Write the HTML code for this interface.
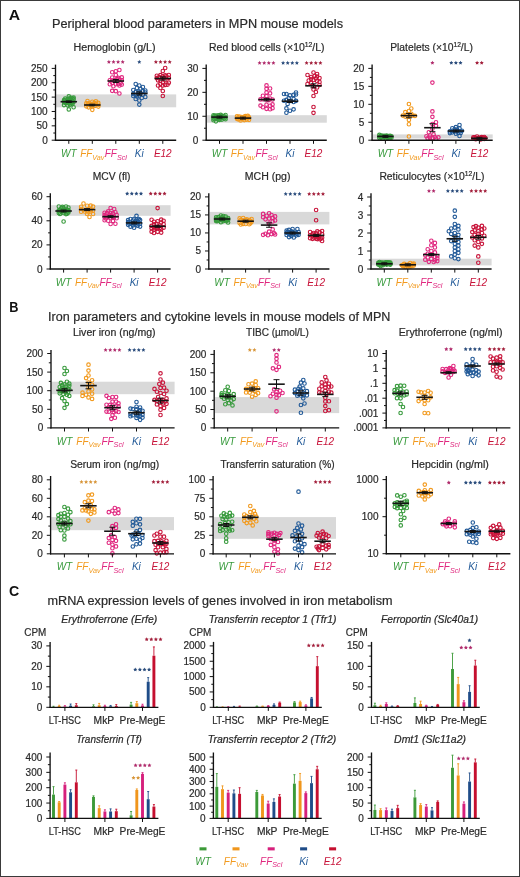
<!DOCTYPE html>
<html><head><meta charset="utf-8"><title>Figure</title>
<style>html,body{margin:0;padding:0;background:#fff;width:520px;height:877px;overflow:hidden;font-family:"Liberation Sans",sans-serif}svg{display:block;filter:blur(0.3px)}</style>
</head><body>
<svg width="520" height="877" viewBox="0 0 520 877" font-family='"Liberation Sans", sans-serif'><rect x="0" y="0" width="520" height="877" fill="#fff"/>
<rect x="56.10" y="94.40" width="120.10" height="12.90" fill="#d9d9d9"/>
<circle cx="68.80" cy="96.30" r="1.75" fill="none" stroke="#379a3c" stroke-width="1.15"/>
<circle cx="68.80" cy="109.40" r="1.75" fill="none" stroke="#379a3c" stroke-width="1.15"/>
<circle cx="64.00" cy="100.18" r="1.75" fill="none" stroke="#379a3c" stroke-width="1.15"/>
<circle cx="71.20" cy="99.85" r="1.75" fill="none" stroke="#379a3c" stroke-width="1.15"/>
<circle cx="73.60" cy="97.62" r="1.75" fill="none" stroke="#379a3c" stroke-width="1.15"/>
<circle cx="68.80" cy="100.22" r="1.75" fill="none" stroke="#379a3c" stroke-width="1.15"/>
<circle cx="64.00" cy="105.05" r="1.75" fill="none" stroke="#379a3c" stroke-width="1.15"/>
<circle cx="72.40" cy="102.54" r="1.75" fill="none" stroke="#379a3c" stroke-width="1.15"/>
<circle cx="70.00" cy="104.77" r="1.75" fill="none" stroke="#379a3c" stroke-width="1.15"/>
<circle cx="66.40" cy="101.91" r="1.75" fill="none" stroke="#379a3c" stroke-width="1.15"/>
<circle cx="70.00" cy="102.44" r="1.75" fill="none" stroke="#379a3c" stroke-width="1.15"/>
<circle cx="70.00" cy="101.67" r="1.75" fill="none" stroke="#379a3c" stroke-width="1.15"/>
<circle cx="72.40" cy="104.11" r="1.75" fill="none" stroke="#379a3c" stroke-width="1.15"/>
<circle cx="65.20" cy="102.84" r="1.75" fill="none" stroke="#379a3c" stroke-width="1.15"/>
<circle cx="66.40" cy="102.82" r="1.75" fill="none" stroke="#379a3c" stroke-width="1.15"/>
<circle cx="71.20" cy="97.76" r="1.75" fill="none" stroke="#379a3c" stroke-width="1.15"/>
<circle cx="73.60" cy="99.30" r="1.75" fill="none" stroke="#379a3c" stroke-width="1.15"/>
<circle cx="73.60" cy="102.11" r="1.75" fill="none" stroke="#379a3c" stroke-width="1.15"/>
<circle cx="72.40" cy="100.83" r="1.75" fill="none" stroke="#379a3c" stroke-width="1.15"/>
<circle cx="71.20" cy="102.90" r="1.75" fill="none" stroke="#379a3c" stroke-width="1.15"/>
<circle cx="65.20" cy="98.66" r="1.75" fill="none" stroke="#379a3c" stroke-width="1.15"/>
<circle cx="64.00" cy="102.12" r="1.75" fill="none" stroke="#379a3c" stroke-width="1.15"/>
<circle cx="68.80" cy="102.43" r="1.75" fill="none" stroke="#379a3c" stroke-width="1.15"/>
<circle cx="68.80" cy="98.59" r="1.75" fill="none" stroke="#379a3c" stroke-width="1.15"/>
<circle cx="73.60" cy="107.25" r="1.75" fill="none" stroke="#379a3c" stroke-width="1.15"/>
<circle cx="67.60" cy="103.03" r="1.75" fill="none" stroke="#379a3c" stroke-width="1.15"/>
<circle cx="67.60" cy="105.36" r="1.75" fill="none" stroke="#379a3c" stroke-width="1.15"/>
<circle cx="70.00" cy="98.74" r="1.75" fill="none" stroke="#379a3c" stroke-width="1.15"/>
<circle cx="72.40" cy="98.31" r="1.75" fill="none" stroke="#379a3c" stroke-width="1.15"/>
<circle cx="67.60" cy="99.75" r="1.75" fill="none" stroke="#379a3c" stroke-width="1.15"/>
<circle cx="65.20" cy="100.61" r="1.75" fill="none" stroke="#379a3c" stroke-width="1.15"/>
<circle cx="70.00" cy="103.30" r="1.75" fill="none" stroke="#379a3c" stroke-width="1.15"/>
<circle cx="87.50" cy="101.00" r="1.75" fill="none" stroke="#f29a1e" stroke-width="1.15"/>
<circle cx="92.30" cy="109.80" r="1.75" fill="none" stroke="#f29a1e" stroke-width="1.15"/>
<circle cx="87.50" cy="104.77" r="1.75" fill="none" stroke="#f29a1e" stroke-width="1.15"/>
<circle cx="93.50" cy="103.46" r="1.75" fill="none" stroke="#f29a1e" stroke-width="1.15"/>
<circle cx="94.70" cy="105.93" r="1.75" fill="none" stroke="#f29a1e" stroke-width="1.15"/>
<circle cx="94.70" cy="102.97" r="1.75" fill="none" stroke="#f29a1e" stroke-width="1.15"/>
<circle cx="86.30" cy="103.31" r="1.75" fill="none" stroke="#f29a1e" stroke-width="1.15"/>
<circle cx="88.70" cy="107.32" r="1.75" fill="none" stroke="#f29a1e" stroke-width="1.15"/>
<circle cx="92.30" cy="105.27" r="1.75" fill="none" stroke="#f29a1e" stroke-width="1.15"/>
<circle cx="91.10" cy="104.12" r="1.75" fill="none" stroke="#f29a1e" stroke-width="1.15"/>
<circle cx="98.30" cy="106.61" r="1.75" fill="none" stroke="#f29a1e" stroke-width="1.15"/>
<circle cx="91.10" cy="106.08" r="1.75" fill="none" stroke="#f29a1e" stroke-width="1.15"/>
<circle cx="89.90" cy="104.71" r="1.75" fill="none" stroke="#f29a1e" stroke-width="1.15"/>
<circle cx="95.90" cy="104.15" r="1.75" fill="none" stroke="#f29a1e" stroke-width="1.15"/>
<circle cx="98.30" cy="104.75" r="1.75" fill="none" stroke="#f29a1e" stroke-width="1.15"/>
<circle cx="98.30" cy="102.91" r="1.75" fill="none" stroke="#f29a1e" stroke-width="1.15"/>
<circle cx="92.30" cy="101.74" r="1.75" fill="none" stroke="#f29a1e" stroke-width="1.15"/>
<circle cx="88.70" cy="103.26" r="1.75" fill="none" stroke="#f29a1e" stroke-width="1.15"/>
<circle cx="95.90" cy="101.34" r="1.75" fill="none" stroke="#f29a1e" stroke-width="1.15"/>
<circle cx="86.30" cy="106.30" r="1.75" fill="none" stroke="#f29a1e" stroke-width="1.15"/>
<circle cx="119.40" cy="70.00" r="1.75" fill="none" stroke="#e0287f" stroke-width="1.15"/>
<circle cx="119.40" cy="93.50" r="1.75" fill="none" stroke="#e0287f" stroke-width="1.15"/>
<circle cx="119.40" cy="85.52" r="1.75" fill="none" stroke="#e0287f" stroke-width="1.15"/>
<circle cx="113.40" cy="86.25" r="1.75" fill="none" stroke="#e0287f" stroke-width="1.15"/>
<circle cx="115.80" cy="71.28" r="1.75" fill="none" stroke="#e0287f" stroke-width="1.15"/>
<circle cx="118.20" cy="77.83" r="1.75" fill="none" stroke="#e0287f" stroke-width="1.15"/>
<circle cx="112.20" cy="90.86" r="1.75" fill="none" stroke="#e0287f" stroke-width="1.15"/>
<circle cx="121.80" cy="80.16" r="1.75" fill="none" stroke="#e0287f" stroke-width="1.15"/>
<circle cx="112.20" cy="77.54" r="1.75" fill="none" stroke="#e0287f" stroke-width="1.15"/>
<circle cx="115.80" cy="84.23" r="1.75" fill="none" stroke="#e0287f" stroke-width="1.15"/>
<circle cx="109.80" cy="84.24" r="1.75" fill="none" stroke="#e0287f" stroke-width="1.15"/>
<circle cx="112.20" cy="82.86" r="1.75" fill="none" stroke="#e0287f" stroke-width="1.15"/>
<circle cx="112.20" cy="80.45" r="1.75" fill="none" stroke="#e0287f" stroke-width="1.15"/>
<circle cx="114.60" cy="80.15" r="1.75" fill="none" stroke="#e0287f" stroke-width="1.15"/>
<circle cx="120.60" cy="83.02" r="1.75" fill="none" stroke="#e0287f" stroke-width="1.15"/>
<circle cx="121.80" cy="77.38" r="1.75" fill="none" stroke="#e0287f" stroke-width="1.15"/>
<circle cx="109.80" cy="80.27" r="1.75" fill="none" stroke="#e0287f" stroke-width="1.15"/>
<circle cx="121.80" cy="84.59" r="1.75" fill="none" stroke="#e0287f" stroke-width="1.15"/>
<circle cx="112.20" cy="72.25" r="1.75" fill="none" stroke="#e0287f" stroke-width="1.15"/>
<circle cx="117.00" cy="79.07" r="1.75" fill="none" stroke="#e0287f" stroke-width="1.15"/>
<circle cx="119.40" cy="79.59" r="1.75" fill="none" stroke="#e0287f" stroke-width="1.15"/>
<circle cx="118.20" cy="84.07" r="1.75" fill="none" stroke="#e0287f" stroke-width="1.15"/>
<circle cx="115.80" cy="91.13" r="1.75" fill="none" stroke="#e0287f" stroke-width="1.15"/>
<circle cx="115.80" cy="74.98" r="1.75" fill="none" stroke="#e0287f" stroke-width="1.15"/>
<circle cx="135.70" cy="84.00" r="1.75" fill="none" stroke="#225a98" stroke-width="1.15"/>
<circle cx="139.30" cy="85.50" r="1.75" fill="none" stroke="#225a98" stroke-width="1.15"/>
<circle cx="142.90" cy="87.00" r="1.75" fill="none" stroke="#225a98" stroke-width="1.15"/>
<circle cx="136.90" cy="88.00" r="1.75" fill="none" stroke="#225a98" stroke-width="1.15"/>
<circle cx="140.50" cy="89.00" r="1.75" fill="none" stroke="#225a98" stroke-width="1.15"/>
<circle cx="133.30" cy="90.00" r="1.75" fill="none" stroke="#225a98" stroke-width="1.15"/>
<circle cx="145.30" cy="90.50" r="1.75" fill="none" stroke="#225a98" stroke-width="1.15"/>
<circle cx="142.90" cy="91.00" r="1.75" fill="none" stroke="#225a98" stroke-width="1.15"/>
<circle cx="139.30" cy="91.50" r="1.75" fill="none" stroke="#225a98" stroke-width="1.15"/>
<circle cx="135.70" cy="92.00" r="1.75" fill="none" stroke="#225a98" stroke-width="1.15"/>
<circle cx="145.30" cy="92.50" r="1.75" fill="none" stroke="#225a98" stroke-width="1.15"/>
<circle cx="138.10" cy="93.00" r="1.75" fill="none" stroke="#225a98" stroke-width="1.15"/>
<circle cx="140.50" cy="93.50" r="1.75" fill="none" stroke="#225a98" stroke-width="1.15"/>
<circle cx="133.30" cy="94.00" r="1.75" fill="none" stroke="#225a98" stroke-width="1.15"/>
<circle cx="142.90" cy="94.50" r="1.75" fill="none" stroke="#225a98" stroke-width="1.15"/>
<circle cx="135.70" cy="95.00" r="1.75" fill="none" stroke="#225a98" stroke-width="1.15"/>
<circle cx="139.30" cy="95.50" r="1.75" fill="none" stroke="#225a98" stroke-width="1.15"/>
<circle cx="133.30" cy="96.00" r="1.75" fill="none" stroke="#225a98" stroke-width="1.15"/>
<circle cx="136.90" cy="96.50" r="1.75" fill="none" stroke="#225a98" stroke-width="1.15"/>
<circle cx="145.30" cy="97.00" r="1.75" fill="none" stroke="#225a98" stroke-width="1.15"/>
<circle cx="141.70" cy="98.00" r="1.75" fill="none" stroke="#225a98" stroke-width="1.15"/>
<circle cx="135.70" cy="99.00" r="1.75" fill="none" stroke="#225a98" stroke-width="1.15"/>
<circle cx="139.30" cy="100.50" r="1.75" fill="none" stroke="#225a98" stroke-width="1.15"/>
<circle cx="139.30" cy="104.60" r="1.75" fill="none" stroke="#225a98" stroke-width="1.15"/>
<circle cx="165.20" cy="68.00" r="1.75" fill="none" stroke="#c8143a" stroke-width="1.15"/>
<circle cx="162.80" cy="91.00" r="1.75" fill="none" stroke="#c8143a" stroke-width="1.15"/>
<circle cx="165.20" cy="80.02" r="1.75" fill="none" stroke="#c8143a" stroke-width="1.15"/>
<circle cx="156.80" cy="75.75" r="1.75" fill="none" stroke="#c8143a" stroke-width="1.15"/>
<circle cx="168.80" cy="82.69" r="1.75" fill="none" stroke="#c8143a" stroke-width="1.15"/>
<circle cx="158.00" cy="80.30" r="1.75" fill="none" stroke="#c8143a" stroke-width="1.15"/>
<circle cx="160.40" cy="75.16" r="1.75" fill="none" stroke="#c8143a" stroke-width="1.15"/>
<circle cx="160.40" cy="80.77" r="1.75" fill="none" stroke="#c8143a" stroke-width="1.15"/>
<circle cx="168.80" cy="74.96" r="1.75" fill="none" stroke="#c8143a" stroke-width="1.15"/>
<circle cx="168.80" cy="77.86" r="1.75" fill="none" stroke="#c8143a" stroke-width="1.15"/>
<circle cx="159.20" cy="77.06" r="1.75" fill="none" stroke="#c8143a" stroke-width="1.15"/>
<circle cx="156.80" cy="78.10" r="1.75" fill="none" stroke="#c8143a" stroke-width="1.15"/>
<circle cx="165.20" cy="75.39" r="1.75" fill="none" stroke="#c8143a" stroke-width="1.15"/>
<circle cx="165.20" cy="84.94" r="1.75" fill="none" stroke="#c8143a" stroke-width="1.15"/>
<circle cx="162.80" cy="71.03" r="1.75" fill="none" stroke="#c8143a" stroke-width="1.15"/>
<circle cx="164.00" cy="78.07" r="1.75" fill="none" stroke="#c8143a" stroke-width="1.15"/>
<circle cx="167.60" cy="84.59" r="1.75" fill="none" stroke="#c8143a" stroke-width="1.15"/>
<circle cx="160.40" cy="83.97" r="1.75" fill="none" stroke="#c8143a" stroke-width="1.15"/>
<circle cx="160.40" cy="88.03" r="1.75" fill="none" stroke="#c8143a" stroke-width="1.15"/>
<circle cx="162.80" cy="76.24" r="1.75" fill="none" stroke="#c8143a" stroke-width="1.15"/>
<circle cx="166.40" cy="76.32" r="1.75" fill="none" stroke="#c8143a" stroke-width="1.15"/>
<circle cx="162.80" cy="82.48" r="1.75" fill="none" stroke="#c8143a" stroke-width="1.15"/>
<circle cx="158.00" cy="85.48" r="1.75" fill="none" stroke="#c8143a" stroke-width="1.15"/>
<circle cx="162.80" cy="85.46" r="1.75" fill="none" stroke="#c8143a" stroke-width="1.15"/>
<circle cx="162.80" cy="96.00" r="1.75" fill="none" stroke="#c8143a" stroke-width="1.15"/>
<line x1="60.55" y1="101.70" x2="77.05" y2="101.70" stroke="#151515" stroke-width="1.60"/>
<line x1="68.80" y1="100.90" x2="68.80" y2="102.50" stroke="#111" stroke-width="1.00"/>
<line x1="65.80" y1="100.90" x2="71.80" y2="100.90" stroke="#111" stroke-width="1.00"/>
<line x1="65.80" y1="102.50" x2="71.80" y2="102.50" stroke="#111" stroke-width="1.00"/>
<line x1="84.05" y1="105.00" x2="100.55" y2="105.00" stroke="#151515" stroke-width="1.60"/>
<line x1="92.30" y1="104.20" x2="92.30" y2="105.80" stroke="#111" stroke-width="1.00"/>
<line x1="89.30" y1="104.20" x2="95.30" y2="104.20" stroke="#111" stroke-width="1.00"/>
<line x1="89.30" y1="105.80" x2="95.30" y2="105.80" stroke="#111" stroke-width="1.00"/>
<line x1="107.55" y1="81.00" x2="124.05" y2="81.00" stroke="#151515" stroke-width="1.60"/>
<line x1="115.80" y1="79.50" x2="115.80" y2="82.50" stroke="#111" stroke-width="1.00"/>
<line x1="112.80" y1="79.50" x2="118.80" y2="79.50" stroke="#111" stroke-width="1.00"/>
<line x1="112.80" y1="82.50" x2="118.80" y2="82.50" stroke="#111" stroke-width="1.00"/>
<line x1="131.05" y1="93.50" x2="147.55" y2="93.50" stroke="#151515" stroke-width="1.60"/>
<line x1="139.30" y1="91.90" x2="139.30" y2="95.10" stroke="#111" stroke-width="1.00"/>
<line x1="136.30" y1="91.90" x2="142.30" y2="91.90" stroke="#111" stroke-width="1.00"/>
<line x1="136.30" y1="95.10" x2="142.30" y2="95.10" stroke="#111" stroke-width="1.00"/>
<line x1="154.55" y1="78.50" x2="171.05" y2="78.50" stroke="#151515" stroke-width="1.60"/>
<line x1="162.80" y1="76.90" x2="162.80" y2="80.10" stroke="#111" stroke-width="1.00"/>
<line x1="159.80" y1="76.90" x2="165.80" y2="76.90" stroke="#111" stroke-width="1.00"/>
<line x1="159.80" y1="80.10" x2="165.80" y2="80.10" stroke="#111" stroke-width="1.00"/>
<line x1="55.50" y1="64.60" x2="55.50" y2="140.80" stroke="#111" stroke-width="1.35"/>
<line x1="51.70" y1="140.20" x2="55.50" y2="140.20" stroke="#111" stroke-width="1.00"/>
<text x="47.70" y="143.70" font-size="10.00" text-anchor="end" fill="#2a2a2a" stroke="#2a2a2a" stroke-width="0.2">0</text>
<line x1="51.70" y1="125.84" x2="55.50" y2="125.84" stroke="#111" stroke-width="1.00"/>
<text x="47.70" y="129.34" font-size="10.00" text-anchor="end" fill="#2a2a2a" stroke="#2a2a2a" stroke-width="0.2">50</text>
<line x1="51.70" y1="111.48" x2="55.50" y2="111.48" stroke="#111" stroke-width="1.00"/>
<text x="47.70" y="114.98" font-size="10.00" text-anchor="end" fill="#2a2a2a" stroke="#2a2a2a" stroke-width="0.2">100</text>
<line x1="51.70" y1="97.12" x2="55.50" y2="97.12" stroke="#111" stroke-width="1.00"/>
<text x="47.70" y="100.62" font-size="10.00" text-anchor="end" fill="#2a2a2a" stroke="#2a2a2a" stroke-width="0.2">150</text>
<line x1="51.70" y1="82.76" x2="55.50" y2="82.76" stroke="#111" stroke-width="1.00"/>
<text x="47.70" y="86.26" font-size="10.00" text-anchor="end" fill="#2a2a2a" stroke="#2a2a2a" stroke-width="0.2">200</text>
<line x1="51.70" y1="68.40" x2="55.50" y2="68.40" stroke="#111" stroke-width="1.00"/>
<text x="47.70" y="71.90" font-size="10.00" text-anchor="end" fill="#2a2a2a" stroke="#2a2a2a" stroke-width="0.2">250</text>
<line x1="53.30" y1="133.02" x2="55.50" y2="133.02" stroke="#111" stroke-width="1.00"/>
<line x1="53.30" y1="118.66" x2="55.50" y2="118.66" stroke="#111" stroke-width="1.00"/>
<line x1="53.30" y1="104.30" x2="55.50" y2="104.30" stroke="#111" stroke-width="1.00"/>
<line x1="53.30" y1="89.94" x2="55.50" y2="89.94" stroke="#111" stroke-width="1.00"/>
<line x1="53.30" y1="75.58" x2="55.50" y2="75.58" stroke="#111" stroke-width="1.00"/>
<line x1="54.90" y1="140.20" x2="176.20" y2="140.20" stroke="#111" stroke-width="1.35"/>
<line x1="68.80" y1="140.20" x2="68.80" y2="143.80" stroke="#111" stroke-width="1.00"/>
<line x1="92.30" y1="140.20" x2="92.30" y2="143.80" stroke="#111" stroke-width="1.00"/>
<line x1="115.80" y1="140.20" x2="115.80" y2="143.80" stroke="#111" stroke-width="1.00"/>
<line x1="139.30" y1="140.20" x2="139.30" y2="143.80" stroke="#111" stroke-width="1.00"/>
<line x1="162.80" y1="140.20" x2="162.80" y2="143.80" stroke="#111" stroke-width="1.00"/>
<text x="68.80" y="156.80" font-size="10.00" text-anchor="middle" fill="#379a3c" font-style="italic">WT</text>
<text x="92.30" y="156.80" font-size="10.0" text-anchor="middle" fill="#f29a1e" font-style="italic">FF<tspan font-size="7.2" dy="2.8">Vav</tspan></text>
<text x="115.80" y="156.80" font-size="10.0" text-anchor="middle" fill="#e0287f" font-style="italic">FF<tspan font-size="7.2" dy="2.8">Scl</tspan></text>
<text x="139.30" y="156.80" font-size="10.00" text-anchor="middle" fill="#225a98" font-style="italic">Ki</text>
<text x="162.80" y="156.80" font-size="10.00" text-anchor="middle" fill="#c8143a" font-style="italic">E12</text>
<polygon points="108.90,59.85 109.53,61.13 110.94,61.34 109.92,62.33 110.16,63.74 108.90,63.08 107.64,63.74 107.88,62.33 106.86,61.34 108.27,61.13" fill="#b02c6c"/>
<polygon points="113.50,59.85 114.13,61.13 115.54,61.34 114.52,62.33 114.76,63.74 113.50,63.08 112.24,63.74 112.48,62.33 111.46,61.34 112.87,61.13" fill="#b02c6c"/>
<polygon points="118.10,59.85 118.73,61.13 120.14,61.34 119.12,62.33 119.36,63.74 118.10,63.08 116.84,63.74 117.08,62.33 116.06,61.34 117.47,61.13" fill="#b02c6c"/>
<polygon points="122.70,59.85 123.33,61.13 124.74,61.34 123.72,62.33 123.96,63.74 122.70,63.08 121.44,63.74 121.68,62.33 120.66,61.34 122.07,61.13" fill="#b02c6c"/>
<polygon points="139.30,59.85 139.93,61.13 141.34,61.34 140.32,62.33 140.56,63.74 139.30,63.08 138.04,63.74 138.28,62.33 137.26,61.34 138.67,61.13" fill="#2a4c7c"/>
<polygon points="155.90,59.85 156.53,61.13 157.94,61.34 156.92,62.33 157.16,63.74 155.90,63.08 154.64,63.74 154.88,62.33 153.86,61.34 155.27,61.13" fill="#a3203c"/>
<polygon points="160.50,59.85 161.13,61.13 162.54,61.34 161.52,62.33 161.76,63.74 160.50,63.08 159.24,63.74 159.48,62.33 158.46,61.34 159.87,61.13" fill="#a3203c"/>
<polygon points="165.10,59.85 165.73,61.13 167.14,61.34 166.12,62.33 166.36,63.74 165.10,63.08 163.84,63.74 164.08,62.33 163.06,61.34 164.47,61.13" fill="#a3203c"/>
<polygon points="169.70,59.85 170.33,61.13 171.74,61.34 170.72,62.33 170.96,63.74 169.70,63.08 168.44,63.74 168.68,62.33 167.66,61.34 169.07,61.13" fill="#a3203c"/>
<rect x="206.80" y="115.20" width="120.00" height="7.50" fill="#d9d9d9"/>
<circle cx="220.70" cy="114.80" r="1.75" fill="none" stroke="#379a3c" stroke-width="1.15"/>
<circle cx="225.50" cy="115.00" r="1.75" fill="none" stroke="#379a3c" stroke-width="1.15"/>
<circle cx="213.50" cy="115.20" r="1.75" fill="none" stroke="#379a3c" stroke-width="1.15"/>
<circle cx="218.30" cy="115.40" r="1.75" fill="none" stroke="#379a3c" stroke-width="1.15"/>
<circle cx="215.90" cy="115.60" r="1.75" fill="none" stroke="#379a3c" stroke-width="1.15"/>
<circle cx="221.90" cy="115.80" r="1.75" fill="none" stroke="#379a3c" stroke-width="1.15"/>
<circle cx="214.70" cy="116.00" r="1.75" fill="none" stroke="#379a3c" stroke-width="1.15"/>
<circle cx="224.30" cy="116.20" r="1.75" fill="none" stroke="#379a3c" stroke-width="1.15"/>
<circle cx="219.50" cy="116.40" r="1.75" fill="none" stroke="#379a3c" stroke-width="1.15"/>
<circle cx="213.50" cy="116.60" r="1.75" fill="none" stroke="#379a3c" stroke-width="1.15"/>
<circle cx="220.70" cy="116.80" r="1.75" fill="none" stroke="#379a3c" stroke-width="1.15"/>
<circle cx="217.10" cy="117.00" r="1.75" fill="none" stroke="#379a3c" stroke-width="1.15"/>
<circle cx="225.50" cy="117.20" r="1.75" fill="none" stroke="#379a3c" stroke-width="1.15"/>
<circle cx="223.10" cy="117.40" r="1.75" fill="none" stroke="#379a3c" stroke-width="1.15"/>
<circle cx="215.90" cy="117.60" r="1.75" fill="none" stroke="#379a3c" stroke-width="1.15"/>
<circle cx="221.90" cy="117.80" r="1.75" fill="none" stroke="#379a3c" stroke-width="1.15"/>
<circle cx="218.30" cy="118.00" r="1.75" fill="none" stroke="#379a3c" stroke-width="1.15"/>
<circle cx="220.70" cy="118.20" r="1.75" fill="none" stroke="#379a3c" stroke-width="1.15"/>
<circle cx="224.30" cy="118.40" r="1.75" fill="none" stroke="#379a3c" stroke-width="1.15"/>
<circle cx="213.50" cy="118.60" r="1.75" fill="none" stroke="#379a3c" stroke-width="1.15"/>
<circle cx="214.70" cy="118.80" r="1.75" fill="none" stroke="#379a3c" stroke-width="1.15"/>
<circle cx="217.10" cy="119.00" r="1.75" fill="none" stroke="#379a3c" stroke-width="1.15"/>
<circle cx="225.50" cy="119.20" r="1.75" fill="none" stroke="#379a3c" stroke-width="1.15"/>
<circle cx="218.30" cy="119.40" r="1.75" fill="none" stroke="#379a3c" stroke-width="1.15"/>
<circle cx="221.90" cy="119.60" r="1.75" fill="none" stroke="#379a3c" stroke-width="1.15"/>
<circle cx="219.50" cy="119.80" r="1.75" fill="none" stroke="#379a3c" stroke-width="1.15"/>
<circle cx="213.50" cy="120.20" r="1.75" fill="none" stroke="#379a3c" stroke-width="1.15"/>
<circle cx="215.90" cy="121.30" r="1.75" fill="none" stroke="#379a3c" stroke-width="1.15"/>
<circle cx="247.80" cy="115.80" r="1.75" fill="none" stroke="#f29a1e" stroke-width="1.15"/>
<circle cx="245.40" cy="116.05" r="1.75" fill="none" stroke="#f29a1e" stroke-width="1.15"/>
<circle cx="237.00" cy="116.30" r="1.75" fill="none" stroke="#f29a1e" stroke-width="1.15"/>
<circle cx="239.40" cy="116.55" r="1.75" fill="none" stroke="#f29a1e" stroke-width="1.15"/>
<circle cx="244.20" cy="116.80" r="1.75" fill="none" stroke="#f29a1e" stroke-width="1.15"/>
<circle cx="241.80" cy="117.05" r="1.75" fill="none" stroke="#f29a1e" stroke-width="1.15"/>
<circle cx="249.00" cy="117.30" r="1.75" fill="none" stroke="#f29a1e" stroke-width="1.15"/>
<circle cx="238.20" cy="117.55" r="1.75" fill="none" stroke="#f29a1e" stroke-width="1.15"/>
<circle cx="245.40" cy="117.80" r="1.75" fill="none" stroke="#f29a1e" stroke-width="1.15"/>
<circle cx="247.80" cy="118.05" r="1.75" fill="none" stroke="#f29a1e" stroke-width="1.15"/>
<circle cx="239.40" cy="118.30" r="1.75" fill="none" stroke="#f29a1e" stroke-width="1.15"/>
<circle cx="243.00" cy="118.55" r="1.75" fill="none" stroke="#f29a1e" stroke-width="1.15"/>
<circle cx="237.00" cy="118.80" r="1.75" fill="none" stroke="#f29a1e" stroke-width="1.15"/>
<circle cx="240.60" cy="119.05" r="1.75" fill="none" stroke="#f29a1e" stroke-width="1.15"/>
<circle cx="238.20" cy="119.30" r="1.75" fill="none" stroke="#f29a1e" stroke-width="1.15"/>
<circle cx="246.60" cy="119.55" r="1.75" fill="none" stroke="#f29a1e" stroke-width="1.15"/>
<circle cx="249.00" cy="119.80" r="1.75" fill="none" stroke="#f29a1e" stroke-width="1.15"/>
<circle cx="244.20" cy="120.05" r="1.75" fill="none" stroke="#f29a1e" stroke-width="1.15"/>
<circle cx="240.60" cy="120.50" r="1.75" fill="none" stroke="#f29a1e" stroke-width="1.15"/>
<circle cx="270.10" cy="88.50" r="1.75" fill="none" stroke="#e0287f" stroke-width="1.15"/>
<circle cx="270.10" cy="109.20" r="1.75" fill="none" stroke="#e0287f" stroke-width="1.15"/>
<circle cx="266.50" cy="96.09" r="1.75" fill="none" stroke="#e0287f" stroke-width="1.15"/>
<circle cx="266.50" cy="99.54" r="1.75" fill="none" stroke="#e0287f" stroke-width="1.15"/>
<circle cx="272.50" cy="104.39" r="1.75" fill="none" stroke="#e0287f" stroke-width="1.15"/>
<circle cx="268.90" cy="100.05" r="1.75" fill="none" stroke="#e0287f" stroke-width="1.15"/>
<circle cx="262.90" cy="107.23" r="1.75" fill="none" stroke="#e0287f" stroke-width="1.15"/>
<circle cx="262.90" cy="99.25" r="1.75" fill="none" stroke="#e0287f" stroke-width="1.15"/>
<circle cx="260.50" cy="105.58" r="1.75" fill="none" stroke="#e0287f" stroke-width="1.15"/>
<circle cx="272.50" cy="108.18" r="1.75" fill="none" stroke="#e0287f" stroke-width="1.15"/>
<circle cx="266.50" cy="108.86" r="1.75" fill="none" stroke="#e0287f" stroke-width="1.15"/>
<circle cx="262.90" cy="95.74" r="1.75" fill="none" stroke="#e0287f" stroke-width="1.15"/>
<circle cx="266.50" cy="104.66" r="1.75" fill="none" stroke="#e0287f" stroke-width="1.15"/>
<circle cx="266.50" cy="88.81" r="1.75" fill="none" stroke="#e0287f" stroke-width="1.15"/>
<circle cx="270.10" cy="93.37" r="1.75" fill="none" stroke="#e0287f" stroke-width="1.15"/>
<circle cx="270.10" cy="105.75" r="1.75" fill="none" stroke="#e0287f" stroke-width="1.15"/>
<circle cx="266.50" cy="92.52" r="1.75" fill="none" stroke="#e0287f" stroke-width="1.15"/>
<circle cx="272.50" cy="99.53" r="1.75" fill="none" stroke="#e0287f" stroke-width="1.15"/>
<circle cx="270.10" cy="98.49" r="1.75" fill="none" stroke="#e0287f" stroke-width="1.15"/>
<circle cx="260.50" cy="99.44" r="1.75" fill="none" stroke="#e0287f" stroke-width="1.15"/>
<circle cx="266.50" cy="85.40" r="1.75" fill="none" stroke="#e0287f" stroke-width="1.15"/>
<circle cx="296.00" cy="92.50" r="1.75" fill="none" stroke="#225a98" stroke-width="1.15"/>
<circle cx="286.40" cy="112.70" r="1.75" fill="none" stroke="#225a98" stroke-width="1.15"/>
<circle cx="286.40" cy="94.00" r="1.75" fill="none" stroke="#225a98" stroke-width="1.15"/>
<circle cx="296.00" cy="100.85" r="1.75" fill="none" stroke="#225a98" stroke-width="1.15"/>
<circle cx="293.60" cy="101.98" r="1.75" fill="none" stroke="#225a98" stroke-width="1.15"/>
<circle cx="284.00" cy="93.96" r="1.75" fill="none" stroke="#225a98" stroke-width="1.15"/>
<circle cx="287.60" cy="103.90" r="1.75" fill="none" stroke="#225a98" stroke-width="1.15"/>
<circle cx="296.00" cy="94.48" r="1.75" fill="none" stroke="#225a98" stroke-width="1.15"/>
<circle cx="290.00" cy="100.97" r="1.75" fill="none" stroke="#225a98" stroke-width="1.15"/>
<circle cx="293.60" cy="99.03" r="1.75" fill="none" stroke="#225a98" stroke-width="1.15"/>
<circle cx="290.00" cy="95.44" r="1.75" fill="none" stroke="#225a98" stroke-width="1.15"/>
<circle cx="293.60" cy="94.94" r="1.75" fill="none" stroke="#225a98" stroke-width="1.15"/>
<circle cx="286.40" cy="99.87" r="1.75" fill="none" stroke="#225a98" stroke-width="1.15"/>
<circle cx="293.60" cy="109.32" r="1.75" fill="none" stroke="#225a98" stroke-width="1.15"/>
<circle cx="288.80" cy="98.07" r="1.75" fill="none" stroke="#225a98" stroke-width="1.15"/>
<circle cx="290.00" cy="110.76" r="1.75" fill="none" stroke="#225a98" stroke-width="1.15"/>
<circle cx="284.00" cy="100.77" r="1.75" fill="none" stroke="#225a98" stroke-width="1.15"/>
<circle cx="286.40" cy="108.37" r="1.75" fill="none" stroke="#225a98" stroke-width="1.15"/>
<circle cx="313.50" cy="72.50" r="1.75" fill="none" stroke="#c8143a" stroke-width="1.15"/>
<circle cx="317.10" cy="74.00" r="1.75" fill="none" stroke="#c8143a" stroke-width="1.15"/>
<circle cx="307.50" cy="75.00" r="1.75" fill="none" stroke="#c8143a" stroke-width="1.15"/>
<circle cx="314.70" cy="76.00" r="1.75" fill="none" stroke="#c8143a" stroke-width="1.15"/>
<circle cx="317.10" cy="76.50" r="1.75" fill="none" stroke="#c8143a" stroke-width="1.15"/>
<circle cx="311.10" cy="77.00" r="1.75" fill="none" stroke="#c8143a" stroke-width="1.15"/>
<circle cx="319.50" cy="78.00" r="1.75" fill="none" stroke="#c8143a" stroke-width="1.15"/>
<circle cx="315.90" cy="78.50" r="1.75" fill="none" stroke="#c8143a" stroke-width="1.15"/>
<circle cx="311.10" cy="79.00" r="1.75" fill="none" stroke="#c8143a" stroke-width="1.15"/>
<circle cx="313.50" cy="80.00" r="1.75" fill="none" stroke="#c8143a" stroke-width="1.15"/>
<circle cx="308.70" cy="80.50" r="1.75" fill="none" stroke="#c8143a" stroke-width="1.15"/>
<circle cx="317.10" cy="81.00" r="1.75" fill="none" stroke="#c8143a" stroke-width="1.15"/>
<circle cx="319.50" cy="82.00" r="1.75" fill="none" stroke="#c8143a" stroke-width="1.15"/>
<circle cx="311.10" cy="83.00" r="1.75" fill="none" stroke="#c8143a" stroke-width="1.15"/>
<circle cx="307.50" cy="84.00" r="1.75" fill="none" stroke="#c8143a" stroke-width="1.15"/>
<circle cx="319.50" cy="85.00" r="1.75" fill="none" stroke="#c8143a" stroke-width="1.15"/>
<circle cx="313.50" cy="86.00" r="1.75" fill="none" stroke="#c8143a" stroke-width="1.15"/>
<circle cx="317.10" cy="87.50" r="1.75" fill="none" stroke="#c8143a" stroke-width="1.15"/>
<circle cx="313.50" cy="89.50" r="1.75" fill="none" stroke="#c8143a" stroke-width="1.15"/>
<circle cx="315.90" cy="92.00" r="1.75" fill="none" stroke="#c8143a" stroke-width="1.15"/>
<circle cx="313.50" cy="96.00" r="1.75" fill="none" stroke="#c8143a" stroke-width="1.15"/>
<circle cx="313.50" cy="107.00" r="1.75" fill="none" stroke="#c8143a" stroke-width="1.15"/>
<circle cx="313.50" cy="112.80" r="1.75" fill="none" stroke="#c8143a" stroke-width="1.15"/>
<line x1="211.25" y1="117.10" x2="227.75" y2="117.10" stroke="#151515" stroke-width="1.60"/>
<line x1="219.50" y1="116.10" x2="219.50" y2="118.10" stroke="#111" stroke-width="1.00"/>
<line x1="216.50" y1="116.10" x2="222.50" y2="116.10" stroke="#111" stroke-width="1.00"/>
<line x1="216.50" y1="118.10" x2="222.50" y2="118.10" stroke="#111" stroke-width="1.00"/>
<line x1="234.75" y1="118.10" x2="251.25" y2="118.10" stroke="#151515" stroke-width="1.60"/>
<line x1="243.00" y1="117.10" x2="243.00" y2="119.10" stroke="#111" stroke-width="1.00"/>
<line x1="240.00" y1="117.10" x2="246.00" y2="117.10" stroke="#111" stroke-width="1.00"/>
<line x1="240.00" y1="119.10" x2="246.00" y2="119.10" stroke="#111" stroke-width="1.00"/>
<line x1="258.25" y1="99.60" x2="274.75" y2="99.60" stroke="#151515" stroke-width="1.60"/>
<line x1="266.50" y1="98.30" x2="266.50" y2="100.90" stroke="#111" stroke-width="1.00"/>
<line x1="263.50" y1="98.30" x2="269.50" y2="98.30" stroke="#111" stroke-width="1.00"/>
<line x1="263.50" y1="100.90" x2="269.50" y2="100.90" stroke="#111" stroke-width="1.00"/>
<line x1="281.75" y1="101.20" x2="298.25" y2="101.20" stroke="#151515" stroke-width="1.60"/>
<line x1="290.00" y1="99.90" x2="290.00" y2="102.50" stroke="#111" stroke-width="1.00"/>
<line x1="287.00" y1="99.90" x2="293.00" y2="99.90" stroke="#111" stroke-width="1.00"/>
<line x1="287.00" y1="102.50" x2="293.00" y2="102.50" stroke="#111" stroke-width="1.00"/>
<line x1="305.25" y1="85.80" x2="321.75" y2="85.80" stroke="#151515" stroke-width="1.60"/>
<line x1="313.50" y1="83.80" x2="313.50" y2="87.80" stroke="#111" stroke-width="1.00"/>
<line x1="310.50" y1="83.80" x2="316.50" y2="83.80" stroke="#111" stroke-width="1.00"/>
<line x1="310.50" y1="87.80" x2="316.50" y2="87.80" stroke="#111" stroke-width="1.00"/>
<line x1="206.20" y1="64.60" x2="206.20" y2="140.80" stroke="#111" stroke-width="1.35"/>
<line x1="202.40" y1="140.20" x2="206.20" y2="140.20" stroke="#111" stroke-width="1.00"/>
<text x="198.40" y="143.70" font-size="10.00" text-anchor="end" fill="#2a2a2a" stroke="#2a2a2a" stroke-width="0.2">0</text>
<line x1="202.40" y1="116.27" x2="206.20" y2="116.27" stroke="#111" stroke-width="1.00"/>
<text x="198.40" y="119.77" font-size="10.00" text-anchor="end" fill="#2a2a2a" stroke="#2a2a2a" stroke-width="0.2">10</text>
<line x1="202.40" y1="92.33" x2="206.20" y2="92.33" stroke="#111" stroke-width="1.00"/>
<text x="198.40" y="95.83" font-size="10.00" text-anchor="end" fill="#2a2a2a" stroke="#2a2a2a" stroke-width="0.2">20</text>
<line x1="202.40" y1="68.40" x2="206.20" y2="68.40" stroke="#111" stroke-width="1.00"/>
<text x="198.40" y="71.90" font-size="10.00" text-anchor="end" fill="#2a2a2a" stroke="#2a2a2a" stroke-width="0.2">30</text>
<line x1="204.00" y1="128.23" x2="206.20" y2="128.23" stroke="#111" stroke-width="1.00"/>
<line x1="204.00" y1="104.30" x2="206.20" y2="104.30" stroke="#111" stroke-width="1.00"/>
<line x1="204.00" y1="80.37" x2="206.20" y2="80.37" stroke="#111" stroke-width="1.00"/>
<line x1="205.60" y1="140.20" x2="326.80" y2="140.20" stroke="#111" stroke-width="1.35"/>
<line x1="219.50" y1="140.20" x2="219.50" y2="143.80" stroke="#111" stroke-width="1.00"/>
<line x1="243.00" y1="140.20" x2="243.00" y2="143.80" stroke="#111" stroke-width="1.00"/>
<line x1="266.50" y1="140.20" x2="266.50" y2="143.80" stroke="#111" stroke-width="1.00"/>
<line x1="290.00" y1="140.20" x2="290.00" y2="143.80" stroke="#111" stroke-width="1.00"/>
<line x1="313.50" y1="140.20" x2="313.50" y2="143.80" stroke="#111" stroke-width="1.00"/>
<text x="219.50" y="156.80" font-size="10.00" text-anchor="middle" fill="#379a3c" font-style="italic">WT</text>
<text x="243.00" y="156.80" font-size="10.0" text-anchor="middle" fill="#f29a1e" font-style="italic">FF<tspan font-size="7.2" dy="2.8">Vav</tspan></text>
<text x="266.50" y="156.80" font-size="10.0" text-anchor="middle" fill="#e0287f" font-style="italic">FF<tspan font-size="7.2" dy="2.8">Scl</tspan></text>
<text x="290.00" y="156.80" font-size="10.00" text-anchor="middle" fill="#225a98" font-style="italic">Ki</text>
<text x="313.50" y="156.80" font-size="10.00" text-anchor="middle" fill="#c8143a" font-style="italic">E12</text>
<polygon points="259.60,60.85 260.23,62.13 261.64,62.34 260.62,63.33 260.86,64.74 259.60,64.08 258.34,64.74 258.58,63.33 257.56,62.34 258.97,62.13" fill="#b02c6c"/>
<polygon points="264.20,60.85 264.83,62.13 266.24,62.34 265.22,63.33 265.46,64.74 264.20,64.08 262.94,64.74 263.18,63.33 262.16,62.34 263.57,62.13" fill="#b02c6c"/>
<polygon points="268.80,60.85 269.43,62.13 270.84,62.34 269.82,63.33 270.06,64.74 268.80,64.08 267.54,64.74 267.78,63.33 266.76,62.34 268.17,62.13" fill="#b02c6c"/>
<polygon points="273.40,60.85 274.03,62.13 275.44,62.34 274.42,63.33 274.66,64.74 273.40,64.08 272.14,64.74 272.38,63.33 271.36,62.34 272.77,62.13" fill="#b02c6c"/>
<polygon points="283.10,60.85 283.73,62.13 285.14,62.34 284.12,63.33 284.36,64.74 283.10,64.08 281.84,64.74 282.08,63.33 281.06,62.34 282.47,62.13" fill="#2a4c7c"/>
<polygon points="287.70,60.85 288.33,62.13 289.74,62.34 288.72,63.33 288.96,64.74 287.70,64.08 286.44,64.74 286.68,63.33 285.66,62.34 287.07,62.13" fill="#2a4c7c"/>
<polygon points="292.30,60.85 292.93,62.13 294.34,62.34 293.32,63.33 293.56,64.74 292.30,64.08 291.04,64.74 291.28,63.33 290.26,62.34 291.67,62.13" fill="#2a4c7c"/>
<polygon points="296.90,60.85 297.53,62.13 298.94,62.34 297.92,63.33 298.16,64.74 296.90,64.08 295.64,64.74 295.88,63.33 294.86,62.34 296.27,62.13" fill="#2a4c7c"/>
<polygon points="306.60,60.85 307.23,62.13 308.64,62.34 307.62,63.33 307.86,64.74 306.60,64.08 305.34,64.74 305.58,63.33 304.56,62.34 305.97,62.13" fill="#a3203c"/>
<polygon points="311.20,60.85 311.83,62.13 313.24,62.34 312.22,63.33 312.46,64.74 311.20,64.08 309.94,64.74 310.18,63.33 309.16,62.34 310.57,62.13" fill="#a3203c"/>
<polygon points="315.80,60.85 316.43,62.13 317.84,62.34 316.82,63.33 317.06,64.74 315.80,64.08 314.54,64.74 314.78,63.33 313.76,62.34 315.17,62.13" fill="#a3203c"/>
<polygon points="320.40,60.85 321.03,62.13 322.44,62.34 321.42,63.33 321.66,64.74 320.40,64.08 319.14,64.74 319.38,63.33 318.36,62.34 319.77,62.13" fill="#a3203c"/>
<rect x="372.70" y="134.40" width="120.00" height="4.10" fill="#d9d9d9"/>
<circle cx="379.40" cy="134.80" r="1.75" fill="none" stroke="#379a3c" stroke-width="1.15"/>
<circle cx="383.00" cy="138.20" r="1.75" fill="none" stroke="#379a3c" stroke-width="1.15"/>
<circle cx="386.60" cy="136.23" r="1.75" fill="none" stroke="#379a3c" stroke-width="1.15"/>
<circle cx="390.20" cy="136.47" r="1.75" fill="none" stroke="#379a3c" stroke-width="1.15"/>
<circle cx="390.20" cy="135.75" r="1.75" fill="none" stroke="#379a3c" stroke-width="1.15"/>
<circle cx="390.20" cy="137.55" r="1.75" fill="none" stroke="#379a3c" stroke-width="1.15"/>
<circle cx="380.60" cy="136.06" r="1.75" fill="none" stroke="#379a3c" stroke-width="1.15"/>
<circle cx="381.80" cy="136.37" r="1.75" fill="none" stroke="#379a3c" stroke-width="1.15"/>
<circle cx="379.40" cy="138.06" r="1.75" fill="none" stroke="#379a3c" stroke-width="1.15"/>
<circle cx="387.80" cy="136.24" r="1.75" fill="none" stroke="#379a3c" stroke-width="1.15"/>
<circle cx="389.00" cy="136.84" r="1.75" fill="none" stroke="#379a3c" stroke-width="1.15"/>
<circle cx="385.40" cy="136.32" r="1.75" fill="none" stroke="#379a3c" stroke-width="1.15"/>
<circle cx="391.40" cy="136.37" r="1.75" fill="none" stroke="#379a3c" stroke-width="1.15"/>
<circle cx="387.80" cy="136.67" r="1.75" fill="none" stroke="#379a3c" stroke-width="1.15"/>
<circle cx="379.40" cy="136.54" r="1.75" fill="none" stroke="#379a3c" stroke-width="1.15"/>
<circle cx="381.80" cy="135.66" r="1.75" fill="none" stroke="#379a3c" stroke-width="1.15"/>
<circle cx="384.20" cy="137.08" r="1.75" fill="none" stroke="#379a3c" stroke-width="1.15"/>
<circle cx="381.80" cy="137.12" r="1.75" fill="none" stroke="#379a3c" stroke-width="1.15"/>
<circle cx="387.80" cy="137.88" r="1.75" fill="none" stroke="#379a3c" stroke-width="1.15"/>
<circle cx="386.60" cy="135.48" r="1.75" fill="none" stroke="#379a3c" stroke-width="1.15"/>
<circle cx="384.20" cy="136.37" r="1.75" fill="none" stroke="#379a3c" stroke-width="1.15"/>
<circle cx="380.60" cy="136.94" r="1.75" fill="none" stroke="#379a3c" stroke-width="1.15"/>
<circle cx="385.40" cy="137.47" r="1.75" fill="none" stroke="#379a3c" stroke-width="1.15"/>
<circle cx="384.20" cy="135.80" r="1.75" fill="none" stroke="#379a3c" stroke-width="1.15"/>
<circle cx="383.00" cy="136.27" r="1.75" fill="none" stroke="#379a3c" stroke-width="1.15"/>
<circle cx="389.00" cy="136.01" r="1.75" fill="none" stroke="#379a3c" stroke-width="1.15"/>
<circle cx="391.40" cy="137.75" r="1.75" fill="none" stroke="#379a3c" stroke-width="1.15"/>
<circle cx="386.60" cy="136.91" r="1.75" fill="none" stroke="#379a3c" stroke-width="1.15"/>
<circle cx="408.90" cy="104.00" r="1.75" fill="none" stroke="#f29a1e" stroke-width="1.15"/>
<circle cx="408.90" cy="124.20" r="1.75" fill="none" stroke="#f29a1e" stroke-width="1.15"/>
<circle cx="411.30" cy="113.78" r="1.75" fill="none" stroke="#f29a1e" stroke-width="1.15"/>
<circle cx="408.90" cy="120.03" r="1.75" fill="none" stroke="#f29a1e" stroke-width="1.15"/>
<circle cx="414.90" cy="115.88" r="1.75" fill="none" stroke="#f29a1e" stroke-width="1.15"/>
<circle cx="408.90" cy="110.96" r="1.75" fill="none" stroke="#f29a1e" stroke-width="1.15"/>
<circle cx="405.30" cy="112.09" r="1.75" fill="none" stroke="#f29a1e" stroke-width="1.15"/>
<circle cx="412.50" cy="115.60" r="1.75" fill="none" stroke="#f29a1e" stroke-width="1.15"/>
<circle cx="410.10" cy="114.99" r="1.75" fill="none" stroke="#f29a1e" stroke-width="1.15"/>
<circle cx="408.90" cy="116.48" r="1.75" fill="none" stroke="#f29a1e" stroke-width="1.15"/>
<circle cx="402.90" cy="115.60" r="1.75" fill="none" stroke="#f29a1e" stroke-width="1.15"/>
<circle cx="405.30" cy="116.59" r="1.75" fill="none" stroke="#f29a1e" stroke-width="1.15"/>
<circle cx="406.50" cy="114.85" r="1.75" fill="none" stroke="#f29a1e" stroke-width="1.15"/>
<circle cx="411.30" cy="108.54" r="1.75" fill="none" stroke="#f29a1e" stroke-width="1.15"/>
<circle cx="408.90" cy="136.50" r="1.75" fill="none" stroke="#f29a1e" stroke-width="1.15"/>
<circle cx="432.40" cy="82.60" r="1.75" fill="none" stroke="#e0287f" stroke-width="1.15"/>
<circle cx="432.40" cy="111.40" r="1.75" fill="none" stroke="#e0287f" stroke-width="1.15"/>
<circle cx="432.40" cy="116.80" r="1.75" fill="none" stroke="#e0287f" stroke-width="1.15"/>
<circle cx="436.00" cy="122.20" r="1.75" fill="none" stroke="#e0287f" stroke-width="1.15"/>
<circle cx="432.40" cy="124.00" r="1.75" fill="none" stroke="#e0287f" stroke-width="1.15"/>
<circle cx="436.00" cy="125.80" r="1.75" fill="none" stroke="#e0287f" stroke-width="1.15"/>
<circle cx="432.40" cy="128.68" r="1.75" fill="none" stroke="#e0287f" stroke-width="1.15"/>
<circle cx="428.80" cy="132.28" r="1.75" fill="none" stroke="#e0287f" stroke-width="1.15"/>
<circle cx="433.60" cy="134.44" r="1.75" fill="none" stroke="#e0287f" stroke-width="1.15"/>
<circle cx="430.00" cy="135.52" r="1.75" fill="none" stroke="#e0287f" stroke-width="1.15"/>
<circle cx="426.40" cy="136.24" r="1.75" fill="none" stroke="#e0287f" stroke-width="1.15"/>
<circle cx="434.80" cy="136.96" r="1.75" fill="none" stroke="#e0287f" stroke-width="1.15"/>
<circle cx="438.40" cy="137.32" r="1.75" fill="none" stroke="#e0287f" stroke-width="1.15"/>
<circle cx="430.00" cy="137.68" r="1.75" fill="none" stroke="#e0287f" stroke-width="1.15"/>
<circle cx="432.40" cy="138.04" r="1.75" fill="none" stroke="#e0287f" stroke-width="1.15"/>
<circle cx="427.60" cy="138.40" r="1.75" fill="none" stroke="#e0287f" stroke-width="1.15"/>
<circle cx="436.00" cy="138.58" r="1.75" fill="none" stroke="#e0287f" stroke-width="1.15"/>
<circle cx="459.50" cy="125.00" r="1.75" fill="none" stroke="#225a98" stroke-width="1.15"/>
<circle cx="459.50" cy="136.00" r="1.75" fill="none" stroke="#225a98" stroke-width="1.15"/>
<circle cx="457.10" cy="129.48" r="1.75" fill="none" stroke="#225a98" stroke-width="1.15"/>
<circle cx="459.50" cy="128.42" r="1.75" fill="none" stroke="#225a98" stroke-width="1.15"/>
<circle cx="452.30" cy="130.70" r="1.75" fill="none" stroke="#225a98" stroke-width="1.15"/>
<circle cx="455.90" cy="127.18" r="1.75" fill="none" stroke="#225a98" stroke-width="1.15"/>
<circle cx="452.30" cy="128.27" r="1.75" fill="none" stroke="#225a98" stroke-width="1.15"/>
<circle cx="458.30" cy="132.88" r="1.75" fill="none" stroke="#225a98" stroke-width="1.15"/>
<circle cx="454.70" cy="131.55" r="1.75" fill="none" stroke="#225a98" stroke-width="1.15"/>
<circle cx="458.30" cy="130.97" r="1.75" fill="none" stroke="#225a98" stroke-width="1.15"/>
<circle cx="460.70" cy="131.26" r="1.75" fill="none" stroke="#225a98" stroke-width="1.15"/>
<circle cx="454.70" cy="129.21" r="1.75" fill="none" stroke="#225a98" stroke-width="1.15"/>
<circle cx="449.90" cy="133.06" r="1.75" fill="none" stroke="#225a98" stroke-width="1.15"/>
<circle cx="455.90" cy="133.69" r="1.75" fill="none" stroke="#225a98" stroke-width="1.15"/>
<circle cx="461.90" cy="130.74" r="1.75" fill="none" stroke="#225a98" stroke-width="1.15"/>
<circle cx="452.30" cy="132.36" r="1.75" fill="none" stroke="#225a98" stroke-width="1.15"/>
<circle cx="449.90" cy="131.39" r="1.75" fill="none" stroke="#225a98" stroke-width="1.15"/>
<circle cx="460.70" cy="132.90" r="1.75" fill="none" stroke="#225a98" stroke-width="1.15"/>
<circle cx="477.00" cy="136.50" r="1.75" fill="none" stroke="#c8143a" stroke-width="1.15"/>
<circle cx="480.60" cy="139.50" r="1.75" fill="none" stroke="#c8143a" stroke-width="1.15"/>
<circle cx="485.40" cy="138.06" r="1.75" fill="none" stroke="#c8143a" stroke-width="1.15"/>
<circle cx="475.80" cy="138.05" r="1.75" fill="none" stroke="#c8143a" stroke-width="1.15"/>
<circle cx="481.80" cy="137.87" r="1.75" fill="none" stroke="#c8143a" stroke-width="1.15"/>
<circle cx="475.80" cy="139.29" r="1.75" fill="none" stroke="#c8143a" stroke-width="1.15"/>
<circle cx="473.40" cy="138.54" r="1.75" fill="none" stroke="#c8143a" stroke-width="1.15"/>
<circle cx="474.60" cy="137.20" r="1.75" fill="none" stroke="#c8143a" stroke-width="1.15"/>
<circle cx="477.00" cy="138.42" r="1.75" fill="none" stroke="#c8143a" stroke-width="1.15"/>
<circle cx="484.20" cy="136.97" r="1.75" fill="none" stroke="#c8143a" stroke-width="1.15"/>
<circle cx="480.60" cy="137.62" r="1.75" fill="none" stroke="#c8143a" stroke-width="1.15"/>
<circle cx="478.20" cy="138.32" r="1.75" fill="none" stroke="#c8143a" stroke-width="1.15"/>
<circle cx="479.40" cy="137.96" r="1.75" fill="none" stroke="#c8143a" stroke-width="1.15"/>
<circle cx="484.20" cy="137.98" r="1.75" fill="none" stroke="#c8143a" stroke-width="1.15"/>
<circle cx="484.20" cy="138.90" r="1.75" fill="none" stroke="#c8143a" stroke-width="1.15"/>
<circle cx="481.80" cy="137.12" r="1.75" fill="none" stroke="#c8143a" stroke-width="1.15"/>
<circle cx="473.40" cy="137.42" r="1.75" fill="none" stroke="#c8143a" stroke-width="1.15"/>
<circle cx="483.00" cy="138.23" r="1.75" fill="none" stroke="#c8143a" stroke-width="1.15"/>
<line x1="377.15" y1="136.40" x2="393.65" y2="136.40" stroke="#151515" stroke-width="1.60"/>
<line x1="385.40" y1="135.40" x2="385.40" y2="137.40" stroke="#111" stroke-width="1.00"/>
<line x1="382.40" y1="135.40" x2="388.40" y2="135.40" stroke="#111" stroke-width="1.00"/>
<line x1="382.40" y1="137.40" x2="388.40" y2="137.40" stroke="#111" stroke-width="1.00"/>
<line x1="400.65" y1="115.60" x2="417.15" y2="115.60" stroke="#151515" stroke-width="1.60"/>
<line x1="408.90" y1="113.40" x2="408.90" y2="117.80" stroke="#111" stroke-width="1.00"/>
<line x1="405.90" y1="113.40" x2="411.90" y2="113.40" stroke="#111" stroke-width="1.00"/>
<line x1="405.90" y1="117.80" x2="411.90" y2="117.80" stroke="#111" stroke-width="1.00"/>
<line x1="424.15" y1="127.70" x2="440.65" y2="127.70" stroke="#151515" stroke-width="1.60"/>
<line x1="432.40" y1="123.70" x2="432.40" y2="131.70" stroke="#111" stroke-width="1.00"/>
<line x1="429.40" y1="123.70" x2="435.40" y2="123.70" stroke="#111" stroke-width="1.00"/>
<line x1="429.40" y1="131.70" x2="435.40" y2="131.70" stroke="#111" stroke-width="1.00"/>
<line x1="447.65" y1="131.00" x2="464.15" y2="131.00" stroke="#151515" stroke-width="1.60"/>
<line x1="455.90" y1="130.00" x2="455.90" y2="132.00" stroke="#111" stroke-width="1.00"/>
<line x1="452.90" y1="130.00" x2="458.90" y2="130.00" stroke="#111" stroke-width="1.00"/>
<line x1="452.90" y1="132.00" x2="458.90" y2="132.00" stroke="#111" stroke-width="1.00"/>
<line x1="471.15" y1="138.30" x2="487.65" y2="138.30" stroke="#151515" stroke-width="1.60"/>
<line x1="479.40" y1="137.30" x2="479.40" y2="139.30" stroke="#111" stroke-width="1.00"/>
<line x1="476.40" y1="137.30" x2="482.40" y2="137.30" stroke="#111" stroke-width="1.00"/>
<line x1="476.40" y1="139.30" x2="482.40" y2="139.30" stroke="#111" stroke-width="1.00"/>
<line x1="372.10" y1="64.60" x2="372.10" y2="140.80" stroke="#111" stroke-width="1.35"/>
<line x1="368.30" y1="140.20" x2="372.10" y2="140.20" stroke="#111" stroke-width="1.00"/>
<text x="364.30" y="143.70" font-size="10.00" text-anchor="end" fill="#2a2a2a" stroke="#2a2a2a" stroke-width="0.2">0</text>
<line x1="368.30" y1="122.25" x2="372.10" y2="122.25" stroke="#111" stroke-width="1.00"/>
<text x="364.30" y="125.75" font-size="10.00" text-anchor="end" fill="#2a2a2a" stroke="#2a2a2a" stroke-width="0.2">5</text>
<line x1="368.30" y1="104.30" x2="372.10" y2="104.30" stroke="#111" stroke-width="1.00"/>
<text x="364.30" y="107.80" font-size="10.00" text-anchor="end" fill="#2a2a2a" stroke="#2a2a2a" stroke-width="0.2">10</text>
<line x1="368.30" y1="86.35" x2="372.10" y2="86.35" stroke="#111" stroke-width="1.00"/>
<text x="364.30" y="89.85" font-size="10.00" text-anchor="end" fill="#2a2a2a" stroke="#2a2a2a" stroke-width="0.2">15</text>
<line x1="368.30" y1="68.40" x2="372.10" y2="68.40" stroke="#111" stroke-width="1.00"/>
<text x="364.30" y="71.90" font-size="10.00" text-anchor="end" fill="#2a2a2a" stroke="#2a2a2a" stroke-width="0.2">20</text>
<line x1="369.90" y1="131.22" x2="372.10" y2="131.22" stroke="#111" stroke-width="1.00"/>
<line x1="369.90" y1="113.27" x2="372.10" y2="113.27" stroke="#111" stroke-width="1.00"/>
<line x1="369.90" y1="95.33" x2="372.10" y2="95.33" stroke="#111" stroke-width="1.00"/>
<line x1="369.90" y1="77.38" x2="372.10" y2="77.38" stroke="#111" stroke-width="1.00"/>
<line x1="371.50" y1="140.20" x2="492.70" y2="140.20" stroke="#111" stroke-width="1.35"/>
<line x1="385.40" y1="140.20" x2="385.40" y2="143.80" stroke="#111" stroke-width="1.00"/>
<line x1="408.90" y1="140.20" x2="408.90" y2="143.80" stroke="#111" stroke-width="1.00"/>
<line x1="432.40" y1="140.20" x2="432.40" y2="143.80" stroke="#111" stroke-width="1.00"/>
<line x1="455.90" y1="140.20" x2="455.90" y2="143.80" stroke="#111" stroke-width="1.00"/>
<line x1="479.40" y1="140.20" x2="479.40" y2="143.80" stroke="#111" stroke-width="1.00"/>
<text x="385.40" y="156.80" font-size="10.00" text-anchor="middle" fill="#379a3c" font-style="italic">WT</text>
<text x="408.90" y="156.80" font-size="10.0" text-anchor="middle" fill="#f29a1e" font-style="italic">FF<tspan font-size="7.2" dy="2.8">Vav</tspan></text>
<text x="432.40" y="156.80" font-size="10.0" text-anchor="middle" fill="#e0287f" font-style="italic">FF<tspan font-size="7.2" dy="2.8">Scl</tspan></text>
<text x="455.90" y="156.80" font-size="10.00" text-anchor="middle" fill="#225a98" font-style="italic">Ki</text>
<text x="479.40" y="156.80" font-size="10.00" text-anchor="middle" fill="#c8143a" font-style="italic">E12</text>
<polygon points="432.40,60.65 433.03,61.93 434.44,62.14 433.42,63.13 433.66,64.54 432.40,63.88 431.14,64.54 431.38,63.13 430.36,62.14 431.77,61.93" fill="#b02c6c"/>
<polygon points="451.30,60.65 451.93,61.93 453.34,62.14 452.32,63.13 452.56,64.54 451.30,63.88 450.04,64.54 450.28,63.13 449.26,62.14 450.67,61.93" fill="#2a4c7c"/>
<polygon points="455.90,60.65 456.53,61.93 457.94,62.14 456.92,63.13 457.16,64.54 455.90,63.88 454.64,64.54 454.88,63.13 453.86,62.14 455.27,61.93" fill="#2a4c7c"/>
<polygon points="460.50,60.65 461.13,61.93 462.54,62.14 461.52,63.13 461.76,64.54 460.50,63.88 459.24,64.54 459.48,63.13 458.46,62.14 459.87,61.93" fill="#2a4c7c"/>
<polygon points="477.10,60.65 477.73,61.93 479.14,62.14 478.12,63.13 478.36,64.54 477.10,63.88 475.84,64.54 476.08,63.13 475.06,62.14 476.47,61.93" fill="#a3203c"/>
<polygon points="481.70,60.65 482.33,61.93 483.74,62.14 482.72,63.13 482.96,64.54 481.70,63.88 480.44,64.54 480.68,63.13 479.66,62.14 481.07,61.93" fill="#a3203c"/>
<rect x="50.90" y="205.20" width="119.70" height="10.60" fill="#d9d9d9"/>
<circle cx="66.00" cy="206.50" r="1.75" fill="none" stroke="#379a3c" stroke-width="1.15"/>
<circle cx="63.60" cy="221.50" r="1.75" fill="none" stroke="#379a3c" stroke-width="1.15"/>
<circle cx="58.80" cy="206.51" r="1.75" fill="none" stroke="#379a3c" stroke-width="1.15"/>
<circle cx="64.80" cy="210.66" r="1.75" fill="none" stroke="#379a3c" stroke-width="1.15"/>
<circle cx="63.60" cy="211.02" r="1.75" fill="none" stroke="#379a3c" stroke-width="1.15"/>
<circle cx="63.60" cy="213.04" r="1.75" fill="none" stroke="#379a3c" stroke-width="1.15"/>
<circle cx="68.40" cy="210.90" r="1.75" fill="none" stroke="#379a3c" stroke-width="1.15"/>
<circle cx="68.40" cy="210.17" r="1.75" fill="none" stroke="#379a3c" stroke-width="1.15"/>
<circle cx="60.00" cy="209.70" r="1.75" fill="none" stroke="#379a3c" stroke-width="1.15"/>
<circle cx="60.00" cy="210.74" r="1.75" fill="none" stroke="#379a3c" stroke-width="1.15"/>
<circle cx="63.60" cy="207.83" r="1.75" fill="none" stroke="#379a3c" stroke-width="1.15"/>
<circle cx="60.00" cy="213.92" r="1.75" fill="none" stroke="#379a3c" stroke-width="1.15"/>
<circle cx="68.40" cy="212.48" r="1.75" fill="none" stroke="#379a3c" stroke-width="1.15"/>
<circle cx="62.40" cy="210.63" r="1.75" fill="none" stroke="#379a3c" stroke-width="1.15"/>
<circle cx="61.20" cy="208.20" r="1.75" fill="none" stroke="#379a3c" stroke-width="1.15"/>
<circle cx="58.80" cy="210.27" r="1.75" fill="none" stroke="#379a3c" stroke-width="1.15"/>
<circle cx="62.40" cy="206.91" r="1.75" fill="none" stroke="#379a3c" stroke-width="1.15"/>
<circle cx="58.80" cy="211.16" r="1.75" fill="none" stroke="#379a3c" stroke-width="1.15"/>
<circle cx="61.20" cy="211.83" r="1.75" fill="none" stroke="#379a3c" stroke-width="1.15"/>
<circle cx="64.80" cy="211.61" r="1.75" fill="none" stroke="#379a3c" stroke-width="1.15"/>
<circle cx="64.80" cy="209.96" r="1.75" fill="none" stroke="#379a3c" stroke-width="1.15"/>
<circle cx="63.60" cy="209.69" r="1.75" fill="none" stroke="#379a3c" stroke-width="1.15"/>
<circle cx="58.80" cy="212.92" r="1.75" fill="none" stroke="#379a3c" stroke-width="1.15"/>
<circle cx="67.20" cy="213.55" r="1.75" fill="none" stroke="#379a3c" stroke-width="1.15"/>
<circle cx="67.20" cy="210.85" r="1.75" fill="none" stroke="#379a3c" stroke-width="1.15"/>
<circle cx="68.40" cy="207.45" r="1.75" fill="none" stroke="#379a3c" stroke-width="1.15"/>
<circle cx="66.00" cy="210.40" r="1.75" fill="none" stroke="#379a3c" stroke-width="1.15"/>
<circle cx="61.20" cy="210.73" r="1.75" fill="none" stroke="#379a3c" stroke-width="1.15"/>
<circle cx="66.00" cy="214.06" r="1.75" fill="none" stroke="#379a3c" stroke-width="1.15"/>
<circle cx="66.00" cy="212.23" r="1.75" fill="none" stroke="#379a3c" stroke-width="1.15"/>
<circle cx="83.50" cy="203.50" r="1.75" fill="none" stroke="#f29a1e" stroke-width="1.15"/>
<circle cx="89.50" cy="217.00" r="1.75" fill="none" stroke="#f29a1e" stroke-width="1.15"/>
<circle cx="90.70" cy="211.51" r="1.75" fill="none" stroke="#f29a1e" stroke-width="1.15"/>
<circle cx="81.10" cy="209.01" r="1.75" fill="none" stroke="#f29a1e" stroke-width="1.15"/>
<circle cx="84.70" cy="211.51" r="1.75" fill="none" stroke="#f29a1e" stroke-width="1.15"/>
<circle cx="90.70" cy="205.56" r="1.75" fill="none" stroke="#f29a1e" stroke-width="1.15"/>
<circle cx="93.10" cy="214.03" r="1.75" fill="none" stroke="#f29a1e" stroke-width="1.15"/>
<circle cx="87.10" cy="205.79" r="1.75" fill="none" stroke="#f29a1e" stroke-width="1.15"/>
<circle cx="87.10" cy="210.53" r="1.75" fill="none" stroke="#f29a1e" stroke-width="1.15"/>
<circle cx="89.50" cy="208.76" r="1.75" fill="none" stroke="#f29a1e" stroke-width="1.15"/>
<circle cx="90.70" cy="209.67" r="1.75" fill="none" stroke="#f29a1e" stroke-width="1.15"/>
<circle cx="87.10" cy="213.96" r="1.75" fill="none" stroke="#f29a1e" stroke-width="1.15"/>
<circle cx="83.50" cy="209.70" r="1.75" fill="none" stroke="#f29a1e" stroke-width="1.15"/>
<circle cx="93.10" cy="206.57" r="1.75" fill="none" stroke="#f29a1e" stroke-width="1.15"/>
<circle cx="93.10" cy="210.57" r="1.75" fill="none" stroke="#f29a1e" stroke-width="1.15"/>
<circle cx="81.10" cy="211.78" r="1.75" fill="none" stroke="#f29a1e" stroke-width="1.15"/>
<circle cx="88.30" cy="212.26" r="1.75" fill="none" stroke="#f29a1e" stroke-width="1.15"/>
<circle cx="81.10" cy="206.70" r="1.75" fill="none" stroke="#f29a1e" stroke-width="1.15"/>
<circle cx="110.60" cy="208.00" r="1.75" fill="none" stroke="#e0287f" stroke-width="1.15"/>
<circle cx="110.60" cy="224.00" r="1.75" fill="none" stroke="#e0287f" stroke-width="1.15"/>
<circle cx="110.60" cy="218.12" r="1.75" fill="none" stroke="#e0287f" stroke-width="1.15"/>
<circle cx="113.00" cy="213.39" r="1.75" fill="none" stroke="#e0287f" stroke-width="1.15"/>
<circle cx="108.20" cy="211.33" r="1.75" fill="none" stroke="#e0287f" stroke-width="1.15"/>
<circle cx="115.40" cy="223.72" r="1.75" fill="none" stroke="#e0287f" stroke-width="1.15"/>
<circle cx="107.00" cy="213.14" r="1.75" fill="none" stroke="#e0287f" stroke-width="1.15"/>
<circle cx="116.60" cy="218.21" r="1.75" fill="none" stroke="#e0287f" stroke-width="1.15"/>
<circle cx="113.00" cy="217.83" r="1.75" fill="none" stroke="#e0287f" stroke-width="1.15"/>
<circle cx="114.20" cy="208.99" r="1.75" fill="none" stroke="#e0287f" stroke-width="1.15"/>
<circle cx="111.80" cy="215.73" r="1.75" fill="none" stroke="#e0287f" stroke-width="1.15"/>
<circle cx="104.60" cy="217.17" r="1.75" fill="none" stroke="#e0287f" stroke-width="1.15"/>
<circle cx="114.20" cy="217.03" r="1.75" fill="none" stroke="#e0287f" stroke-width="1.15"/>
<circle cx="115.40" cy="212.22" r="1.75" fill="none" stroke="#e0287f" stroke-width="1.15"/>
<circle cx="108.20" cy="220.71" r="1.75" fill="none" stroke="#e0287f" stroke-width="1.15"/>
<circle cx="104.60" cy="212.72" r="1.75" fill="none" stroke="#e0287f" stroke-width="1.15"/>
<circle cx="107.00" cy="217.23" r="1.75" fill="none" stroke="#e0287f" stroke-width="1.15"/>
<circle cx="105.80" cy="218.44" r="1.75" fill="none" stroke="#e0287f" stroke-width="1.15"/>
<circle cx="113.00" cy="220.88" r="1.75" fill="none" stroke="#e0287f" stroke-width="1.15"/>
<circle cx="116.60" cy="214.84" r="1.75" fill="none" stroke="#e0287f" stroke-width="1.15"/>
<circle cx="109.40" cy="214.88" r="1.75" fill="none" stroke="#e0287f" stroke-width="1.15"/>
<circle cx="104.60" cy="215.10" r="1.75" fill="none" stroke="#e0287f" stroke-width="1.15"/>
<circle cx="104.60" cy="220.20" r="1.75" fill="none" stroke="#e0287f" stroke-width="1.15"/>
<circle cx="110.60" cy="212.95" r="1.75" fill="none" stroke="#e0287f" stroke-width="1.15"/>
<circle cx="136.50" cy="215.80" r="1.75" fill="none" stroke="#225a98" stroke-width="1.15"/>
<circle cx="134.10" cy="227.70" r="1.75" fill="none" stroke="#225a98" stroke-width="1.15"/>
<circle cx="136.50" cy="224.48" r="1.75" fill="none" stroke="#225a98" stroke-width="1.15"/>
<circle cx="130.50" cy="219.03" r="1.75" fill="none" stroke="#225a98" stroke-width="1.15"/>
<circle cx="140.10" cy="220.05" r="1.75" fill="none" stroke="#225a98" stroke-width="1.15"/>
<circle cx="134.10" cy="223.77" r="1.75" fill="none" stroke="#225a98" stroke-width="1.15"/>
<circle cx="137.70" cy="223.10" r="1.75" fill="none" stroke="#225a98" stroke-width="1.15"/>
<circle cx="136.50" cy="219.42" r="1.75" fill="none" stroke="#225a98" stroke-width="1.15"/>
<circle cx="132.90" cy="220.54" r="1.75" fill="none" stroke="#225a98" stroke-width="1.15"/>
<circle cx="128.10" cy="222.17" r="1.75" fill="none" stroke="#225a98" stroke-width="1.15"/>
<circle cx="128.10" cy="224.82" r="1.75" fill="none" stroke="#225a98" stroke-width="1.15"/>
<circle cx="130.50" cy="226.65" r="1.75" fill="none" stroke="#225a98" stroke-width="1.15"/>
<circle cx="135.30" cy="221.56" r="1.75" fill="none" stroke="#225a98" stroke-width="1.15"/>
<circle cx="137.70" cy="225.77" r="1.75" fill="none" stroke="#225a98" stroke-width="1.15"/>
<circle cx="140.10" cy="223.71" r="1.75" fill="none" stroke="#225a98" stroke-width="1.15"/>
<circle cx="137.70" cy="220.83" r="1.75" fill="none" stroke="#225a98" stroke-width="1.15"/>
<circle cx="129.30" cy="223.74" r="1.75" fill="none" stroke="#225a98" stroke-width="1.15"/>
<circle cx="134.10" cy="218.85" r="1.75" fill="none" stroke="#225a98" stroke-width="1.15"/>
<circle cx="140.10" cy="226.57" r="1.75" fill="none" stroke="#225a98" stroke-width="1.15"/>
<circle cx="130.50" cy="223.55" r="1.75" fill="none" stroke="#225a98" stroke-width="1.15"/>
<circle cx="132.90" cy="225.44" r="1.75" fill="none" stroke="#225a98" stroke-width="1.15"/>
<circle cx="132.90" cy="222.95" r="1.75" fill="none" stroke="#225a98" stroke-width="1.15"/>
<circle cx="138.90" cy="219.02" r="1.75" fill="none" stroke="#225a98" stroke-width="1.15"/>
<circle cx="128.10" cy="220.11" r="1.75" fill="none" stroke="#225a98" stroke-width="1.15"/>
<circle cx="161.20" cy="219.60" r="1.75" fill="none" stroke="#c8143a" stroke-width="1.15"/>
<circle cx="154.00" cy="233.00" r="1.75" fill="none" stroke="#c8143a" stroke-width="1.15"/>
<circle cx="151.60" cy="231.66" r="1.75" fill="none" stroke="#c8143a" stroke-width="1.15"/>
<circle cx="154.00" cy="229.65" r="1.75" fill="none" stroke="#c8143a" stroke-width="1.15"/>
<circle cx="151.60" cy="219.79" r="1.75" fill="none" stroke="#c8143a" stroke-width="1.15"/>
<circle cx="161.20" cy="229.07" r="1.75" fill="none" stroke="#c8143a" stroke-width="1.15"/>
<circle cx="151.60" cy="225.81" r="1.75" fill="none" stroke="#c8143a" stroke-width="1.15"/>
<circle cx="157.60" cy="227.97" r="1.75" fill="none" stroke="#c8143a" stroke-width="1.15"/>
<circle cx="163.60" cy="227.66" r="1.75" fill="none" stroke="#c8143a" stroke-width="1.15"/>
<circle cx="163.60" cy="220.72" r="1.75" fill="none" stroke="#c8143a" stroke-width="1.15"/>
<circle cx="160.00" cy="225.51" r="1.75" fill="none" stroke="#c8143a" stroke-width="1.15"/>
<circle cx="157.60" cy="231.86" r="1.75" fill="none" stroke="#c8143a" stroke-width="1.15"/>
<circle cx="163.60" cy="224.16" r="1.75" fill="none" stroke="#c8143a" stroke-width="1.15"/>
<circle cx="161.20" cy="222.49" r="1.75" fill="none" stroke="#c8143a" stroke-width="1.15"/>
<circle cx="157.60" cy="221.24" r="1.75" fill="none" stroke="#c8143a" stroke-width="1.15"/>
<circle cx="154.00" cy="221.75" r="1.75" fill="none" stroke="#c8143a" stroke-width="1.15"/>
<circle cx="156.40" cy="227.55" r="1.75" fill="none" stroke="#c8143a" stroke-width="1.15"/>
<circle cx="161.20" cy="232.60" r="1.75" fill="none" stroke="#c8143a" stroke-width="1.15"/>
<circle cx="160.00" cy="227.90" r="1.75" fill="none" stroke="#c8143a" stroke-width="1.15"/>
<circle cx="154.00" cy="227.21" r="1.75" fill="none" stroke="#c8143a" stroke-width="1.15"/>
<circle cx="154.00" cy="224.37" r="1.75" fill="none" stroke="#c8143a" stroke-width="1.15"/>
<circle cx="156.40" cy="223.79" r="1.75" fill="none" stroke="#c8143a" stroke-width="1.15"/>
<circle cx="155.20" cy="228.27" r="1.75" fill="none" stroke="#c8143a" stroke-width="1.15"/>
<circle cx="151.60" cy="228.34" r="1.75" fill="none" stroke="#c8143a" stroke-width="1.15"/>
<circle cx="157.60" cy="208.10" r="1.75" fill="none" stroke="#c8143a" stroke-width="1.15"/>
<line x1="55.35" y1="211.00" x2="71.85" y2="211.00" stroke="#151515" stroke-width="1.60"/>
<line x1="63.60" y1="210.00" x2="63.60" y2="212.00" stroke="#111" stroke-width="1.00"/>
<line x1="60.60" y1="210.00" x2="66.60" y2="210.00" stroke="#111" stroke-width="1.00"/>
<line x1="60.60" y1="212.00" x2="66.60" y2="212.00" stroke="#111" stroke-width="1.00"/>
<line x1="78.85" y1="209.60" x2="95.35" y2="209.60" stroke="#151515" stroke-width="1.60"/>
<line x1="87.10" y1="208.60" x2="87.10" y2="210.60" stroke="#111" stroke-width="1.00"/>
<line x1="84.10" y1="208.60" x2="90.10" y2="208.60" stroke="#111" stroke-width="1.00"/>
<line x1="84.10" y1="210.60" x2="90.10" y2="210.60" stroke="#111" stroke-width="1.00"/>
<line x1="102.35" y1="216.70" x2="118.85" y2="216.70" stroke="#151515" stroke-width="1.60"/>
<line x1="110.60" y1="215.70" x2="110.60" y2="217.70" stroke="#111" stroke-width="1.00"/>
<line x1="107.60" y1="215.70" x2="113.60" y2="215.70" stroke="#111" stroke-width="1.00"/>
<line x1="107.60" y1="217.70" x2="113.60" y2="217.70" stroke="#111" stroke-width="1.00"/>
<line x1="125.85" y1="222.90" x2="142.35" y2="222.90" stroke="#151515" stroke-width="1.60"/>
<line x1="134.10" y1="221.90" x2="134.10" y2="223.90" stroke="#111" stroke-width="1.00"/>
<line x1="131.10" y1="221.90" x2="137.10" y2="221.90" stroke="#111" stroke-width="1.00"/>
<line x1="131.10" y1="223.90" x2="137.10" y2="223.90" stroke="#111" stroke-width="1.00"/>
<line x1="149.35" y1="226.30" x2="165.85" y2="226.30" stroke="#151515" stroke-width="1.60"/>
<line x1="157.60" y1="225.30" x2="157.60" y2="227.30" stroke="#111" stroke-width="1.00"/>
<line x1="154.60" y1="225.30" x2="160.60" y2="225.30" stroke="#111" stroke-width="1.00"/>
<line x1="154.60" y1="227.30" x2="160.60" y2="227.30" stroke="#111" stroke-width="1.00"/>
<line x1="50.30" y1="193.30" x2="50.30" y2="269.60" stroke="#111" stroke-width="1.35"/>
<line x1="46.50" y1="269.00" x2="50.30" y2="269.00" stroke="#111" stroke-width="1.00"/>
<text x="42.50" y="272.50" font-size="10.00" text-anchor="end" fill="#2a2a2a" stroke="#2a2a2a" stroke-width="0.2">0</text>
<line x1="46.50" y1="244.90" x2="50.30" y2="244.90" stroke="#111" stroke-width="1.00"/>
<text x="42.50" y="248.40" font-size="10.00" text-anchor="end" fill="#2a2a2a" stroke="#2a2a2a" stroke-width="0.2">20</text>
<line x1="46.50" y1="220.80" x2="50.30" y2="220.80" stroke="#111" stroke-width="1.00"/>
<text x="42.50" y="224.30" font-size="10.00" text-anchor="end" fill="#2a2a2a" stroke="#2a2a2a" stroke-width="0.2">40</text>
<line x1="46.50" y1="196.70" x2="50.30" y2="196.70" stroke="#111" stroke-width="1.00"/>
<text x="42.50" y="200.20" font-size="10.00" text-anchor="end" fill="#2a2a2a" stroke="#2a2a2a" stroke-width="0.2">60</text>
<line x1="48.10" y1="256.95" x2="50.30" y2="256.95" stroke="#111" stroke-width="1.00"/>
<line x1="48.10" y1="232.85" x2="50.30" y2="232.85" stroke="#111" stroke-width="1.00"/>
<line x1="48.10" y1="208.75" x2="50.30" y2="208.75" stroke="#111" stroke-width="1.00"/>
<line x1="49.70" y1="269.00" x2="170.60" y2="269.00" stroke="#111" stroke-width="1.35"/>
<line x1="63.60" y1="269.00" x2="63.60" y2="272.60" stroke="#111" stroke-width="1.00"/>
<line x1="87.10" y1="269.00" x2="87.10" y2="272.60" stroke="#111" stroke-width="1.00"/>
<line x1="110.60" y1="269.00" x2="110.60" y2="272.60" stroke="#111" stroke-width="1.00"/>
<line x1="134.10" y1="269.00" x2="134.10" y2="272.60" stroke="#111" stroke-width="1.00"/>
<line x1="157.60" y1="269.00" x2="157.60" y2="272.60" stroke="#111" stroke-width="1.00"/>
<text x="63.60" y="285.60" font-size="10.00" text-anchor="middle" fill="#379a3c" font-style="italic">WT</text>
<text x="87.10" y="285.60" font-size="10.0" text-anchor="middle" fill="#f29a1e" font-style="italic">FF<tspan font-size="7.2" dy="2.8">Vav</tspan></text>
<text x="110.60" y="285.60" font-size="10.0" text-anchor="middle" fill="#e0287f" font-style="italic">FF<tspan font-size="7.2" dy="2.8">Scl</tspan></text>
<text x="134.10" y="285.60" font-size="10.00" text-anchor="middle" fill="#225a98" font-style="italic">Ki</text>
<text x="157.60" y="285.60" font-size="10.00" text-anchor="middle" fill="#c8143a" font-style="italic">E12</text>
<polygon points="127.20,191.55 127.83,192.83 129.24,193.04 128.22,194.03 128.46,195.44 127.20,194.77 125.94,195.44 126.18,194.03 125.16,193.04 126.57,192.83" fill="#2a4c7c"/>
<polygon points="131.80,191.55 132.43,192.83 133.84,193.04 132.82,194.03 133.06,195.44 131.80,194.77 130.54,195.44 130.78,194.03 129.76,193.04 131.17,192.83" fill="#2a4c7c"/>
<polygon points="136.40,191.55 137.03,192.83 138.44,193.04 137.42,194.03 137.66,195.44 136.40,194.77 135.14,195.44 135.38,194.03 134.36,193.04 135.77,192.83" fill="#2a4c7c"/>
<polygon points="141.00,191.55 141.63,192.83 143.04,193.04 142.02,194.03 142.26,195.44 141.00,194.77 139.74,195.44 139.98,194.03 138.96,193.04 140.37,192.83" fill="#2a4c7c"/>
<polygon points="150.70,191.55 151.33,192.83 152.74,193.04 151.72,194.03 151.96,195.44 150.70,194.77 149.44,195.44 149.68,194.03 148.66,193.04 150.07,192.83" fill="#a3203c"/>
<polygon points="155.30,191.55 155.93,192.83 157.34,193.04 156.32,194.03 156.56,195.44 155.30,194.77 154.04,195.44 154.28,194.03 153.26,193.04 154.67,192.83" fill="#a3203c"/>
<polygon points="159.90,191.55 160.53,192.83 161.94,193.04 160.92,194.03 161.16,195.44 159.90,194.77 158.64,195.44 158.88,194.03 157.86,193.04 159.27,192.83" fill="#a3203c"/>
<polygon points="164.50,191.55 165.13,192.83 166.54,193.04 165.52,194.03 165.76,195.44 164.50,194.77 163.24,195.44 163.48,194.03 162.46,193.04 163.87,192.83" fill="#a3203c"/>
<rect x="209.40" y="211.90" width="120.00" height="12.50" fill="#d9d9d9"/>
<circle cx="220.90" cy="215.50" r="1.75" fill="none" stroke="#379a3c" stroke-width="1.15"/>
<circle cx="228.10" cy="222.50" r="1.75" fill="none" stroke="#379a3c" stroke-width="1.15"/>
<circle cx="225.70" cy="216.61" r="1.75" fill="none" stroke="#379a3c" stroke-width="1.15"/>
<circle cx="218.50" cy="220.48" r="1.75" fill="none" stroke="#379a3c" stroke-width="1.15"/>
<circle cx="219.70" cy="220.20" r="1.75" fill="none" stroke="#379a3c" stroke-width="1.15"/>
<circle cx="226.90" cy="219.44" r="1.75" fill="none" stroke="#379a3c" stroke-width="1.15"/>
<circle cx="223.30" cy="221.10" r="1.75" fill="none" stroke="#379a3c" stroke-width="1.15"/>
<circle cx="222.10" cy="217.14" r="1.75" fill="none" stroke="#379a3c" stroke-width="1.15"/>
<circle cx="222.10" cy="220.22" r="1.75" fill="none" stroke="#379a3c" stroke-width="1.15"/>
<circle cx="220.90" cy="219.68" r="1.75" fill="none" stroke="#379a3c" stroke-width="1.15"/>
<circle cx="216.10" cy="217.34" r="1.75" fill="none" stroke="#379a3c" stroke-width="1.15"/>
<circle cx="224.50" cy="219.86" r="1.75" fill="none" stroke="#379a3c" stroke-width="1.15"/>
<circle cx="223.30" cy="216.00" r="1.75" fill="none" stroke="#379a3c" stroke-width="1.15"/>
<circle cx="218.50" cy="219.13" r="1.75" fill="none" stroke="#379a3c" stroke-width="1.15"/>
<circle cx="219.70" cy="218.64" r="1.75" fill="none" stroke="#379a3c" stroke-width="1.15"/>
<circle cx="218.50" cy="217.19" r="1.75" fill="none" stroke="#379a3c" stroke-width="1.15"/>
<circle cx="216.10" cy="218.82" r="1.75" fill="none" stroke="#379a3c" stroke-width="1.15"/>
<circle cx="225.70" cy="219.14" r="1.75" fill="none" stroke="#379a3c" stroke-width="1.15"/>
<circle cx="228.10" cy="218.02" r="1.75" fill="none" stroke="#379a3c" stroke-width="1.15"/>
<circle cx="217.30" cy="221.07" r="1.75" fill="none" stroke="#379a3c" stroke-width="1.15"/>
<circle cx="228.10" cy="219.94" r="1.75" fill="none" stroke="#379a3c" stroke-width="1.15"/>
<circle cx="216.10" cy="220.02" r="1.75" fill="none" stroke="#379a3c" stroke-width="1.15"/>
<circle cx="220.90" cy="222.15" r="1.75" fill="none" stroke="#379a3c" stroke-width="1.15"/>
<circle cx="217.30" cy="219.75" r="1.75" fill="none" stroke="#379a3c" stroke-width="1.15"/>
<circle cx="225.70" cy="221.04" r="1.75" fill="none" stroke="#379a3c" stroke-width="1.15"/>
<circle cx="223.30" cy="218.62" r="1.75" fill="none" stroke="#379a3c" stroke-width="1.15"/>
<circle cx="216.10" cy="221.11" r="1.75" fill="none" stroke="#379a3c" stroke-width="1.15"/>
<circle cx="226.90" cy="220.72" r="1.75" fill="none" stroke="#379a3c" stroke-width="1.15"/>
<circle cx="243.20" cy="218.00" r="1.75" fill="none" stroke="#f29a1e" stroke-width="1.15"/>
<circle cx="240.80" cy="224.50" r="1.75" fill="none" stroke="#f29a1e" stroke-width="1.15"/>
<circle cx="246.80" cy="219.20" r="1.75" fill="none" stroke="#f29a1e" stroke-width="1.15"/>
<circle cx="250.40" cy="220.89" r="1.75" fill="none" stroke="#f29a1e" stroke-width="1.15"/>
<circle cx="245.60" cy="220.10" r="1.75" fill="none" stroke="#f29a1e" stroke-width="1.15"/>
<circle cx="243.20" cy="223.89" r="1.75" fill="none" stroke="#f29a1e" stroke-width="1.15"/>
<circle cx="245.60" cy="223.98" r="1.75" fill="none" stroke="#f29a1e" stroke-width="1.15"/>
<circle cx="243.20" cy="220.39" r="1.75" fill="none" stroke="#f29a1e" stroke-width="1.15"/>
<circle cx="248.00" cy="221.51" r="1.75" fill="none" stroke="#f29a1e" stroke-width="1.15"/>
<circle cx="251.60" cy="221.85" r="1.75" fill="none" stroke="#f29a1e" stroke-width="1.15"/>
<circle cx="242.00" cy="221.55" r="1.75" fill="none" stroke="#f29a1e" stroke-width="1.15"/>
<circle cx="239.60" cy="223.01" r="1.75" fill="none" stroke="#f29a1e" stroke-width="1.15"/>
<circle cx="239.60" cy="218.38" r="1.75" fill="none" stroke="#f29a1e" stroke-width="1.15"/>
<circle cx="240.80" cy="220.06" r="1.75" fill="none" stroke="#f29a1e" stroke-width="1.15"/>
<circle cx="251.60" cy="218.95" r="1.75" fill="none" stroke="#f29a1e" stroke-width="1.15"/>
<circle cx="250.40" cy="223.31" r="1.75" fill="none" stroke="#f29a1e" stroke-width="1.15"/>
<circle cx="249.20" cy="220.02" r="1.75" fill="none" stroke="#f29a1e" stroke-width="1.15"/>
<circle cx="249.20" cy="224.24" r="1.75" fill="none" stroke="#f29a1e" stroke-width="1.15"/>
<circle cx="269.10" cy="213.20" r="1.75" fill="none" stroke="#e0287f" stroke-width="1.15"/>
<circle cx="263.10" cy="213.92" r="1.75" fill="none" stroke="#e0287f" stroke-width="1.15"/>
<circle cx="271.50" cy="215.00" r="1.75" fill="none" stroke="#e0287f" stroke-width="1.15"/>
<circle cx="266.70" cy="215.72" r="1.75" fill="none" stroke="#e0287f" stroke-width="1.15"/>
<circle cx="275.10" cy="216.44" r="1.75" fill="none" stroke="#e0287f" stroke-width="1.15"/>
<circle cx="263.10" cy="217.16" r="1.75" fill="none" stroke="#e0287f" stroke-width="1.15"/>
<circle cx="272.70" cy="217.88" r="1.75" fill="none" stroke="#e0287f" stroke-width="1.15"/>
<circle cx="269.10" cy="218.60" r="1.75" fill="none" stroke="#e0287f" stroke-width="1.15"/>
<circle cx="265.50" cy="219.32" r="1.75" fill="none" stroke="#e0287f" stroke-width="1.15"/>
<circle cx="275.10" cy="220.40" r="1.75" fill="none" stroke="#e0287f" stroke-width="1.15"/>
<circle cx="272.70" cy="221.48" r="1.75" fill="none" stroke="#e0287f" stroke-width="1.15"/>
<circle cx="269.10" cy="223.64" r="1.75" fill="none" stroke="#e0287f" stroke-width="1.15"/>
<circle cx="272.70" cy="229.40" r="1.75" fill="none" stroke="#e0287f" stroke-width="1.15"/>
<circle cx="269.10" cy="231.56" r="1.75" fill="none" stroke="#e0287f" stroke-width="1.15"/>
<circle cx="273.90" cy="233.00" r="1.75" fill="none" stroke="#e0287f" stroke-width="1.15"/>
<circle cx="265.50" cy="233.72" r="1.75" fill="none" stroke="#e0287f" stroke-width="1.15"/>
<circle cx="271.50" cy="234.08" r="1.75" fill="none" stroke="#e0287f" stroke-width="1.15"/>
<circle cx="275.10" cy="234.44" r="1.75" fill="none" stroke="#e0287f" stroke-width="1.15"/>
<circle cx="263.10" cy="234.80" r="1.75" fill="none" stroke="#e0287f" stroke-width="1.15"/>
<circle cx="267.90" cy="235.16" r="1.75" fill="none" stroke="#e0287f" stroke-width="1.15"/>
<circle cx="292.60" cy="229.00" r="1.75" fill="none" stroke="#225a98" stroke-width="1.15"/>
<circle cx="293.80" cy="237.50" r="1.75" fill="none" stroke="#225a98" stroke-width="1.15"/>
<circle cx="289.00" cy="232.44" r="1.75" fill="none" stroke="#225a98" stroke-width="1.15"/>
<circle cx="289.00" cy="229.87" r="1.75" fill="none" stroke="#225a98" stroke-width="1.15"/>
<circle cx="286.60" cy="234.96" r="1.75" fill="none" stroke="#225a98" stroke-width="1.15"/>
<circle cx="289.00" cy="237.05" r="1.75" fill="none" stroke="#225a98" stroke-width="1.15"/>
<circle cx="290.20" cy="234.76" r="1.75" fill="none" stroke="#225a98" stroke-width="1.15"/>
<circle cx="291.40" cy="235.93" r="1.75" fill="none" stroke="#225a98" stroke-width="1.15"/>
<circle cx="296.20" cy="235.34" r="1.75" fill="none" stroke="#225a98" stroke-width="1.15"/>
<circle cx="297.40" cy="229.01" r="1.75" fill="none" stroke="#225a98" stroke-width="1.15"/>
<circle cx="297.40" cy="233.87" r="1.75" fill="none" stroke="#225a98" stroke-width="1.15"/>
<circle cx="292.60" cy="234.29" r="1.75" fill="none" stroke="#225a98" stroke-width="1.15"/>
<circle cx="293.80" cy="233.50" r="1.75" fill="none" stroke="#225a98" stroke-width="1.15"/>
<circle cx="287.80" cy="231.84" r="1.75" fill="none" stroke="#225a98" stroke-width="1.15"/>
<circle cx="286.60" cy="232.69" r="1.75" fill="none" stroke="#225a98" stroke-width="1.15"/>
<circle cx="290.20" cy="233.01" r="1.75" fill="none" stroke="#225a98" stroke-width="1.15"/>
<circle cx="298.60" cy="234.82" r="1.75" fill="none" stroke="#225a98" stroke-width="1.15"/>
<circle cx="298.60" cy="232.16" r="1.75" fill="none" stroke="#225a98" stroke-width="1.15"/>
<circle cx="292.60" cy="232.52" r="1.75" fill="none" stroke="#225a98" stroke-width="1.15"/>
<circle cx="295.00" cy="231.74" r="1.75" fill="none" stroke="#225a98" stroke-width="1.15"/>
<circle cx="296.20" cy="233.41" r="1.75" fill="none" stroke="#225a98" stroke-width="1.15"/>
<circle cx="289.00" cy="234.01" r="1.75" fill="none" stroke="#225a98" stroke-width="1.15"/>
<circle cx="286.60" cy="230.67" r="1.75" fill="none" stroke="#225a98" stroke-width="1.15"/>
<circle cx="291.40" cy="231.40" r="1.75" fill="none" stroke="#225a98" stroke-width="1.15"/>
<circle cx="322.10" cy="231.00" r="1.75" fill="none" stroke="#c8143a" stroke-width="1.15"/>
<circle cx="322.10" cy="241.00" r="1.75" fill="none" stroke="#c8143a" stroke-width="1.15"/>
<circle cx="316.10" cy="233.28" r="1.75" fill="none" stroke="#c8143a" stroke-width="1.15"/>
<circle cx="317.30" cy="231.30" r="1.75" fill="none" stroke="#c8143a" stroke-width="1.15"/>
<circle cx="322.10" cy="237.75" r="1.75" fill="none" stroke="#c8143a" stroke-width="1.15"/>
<circle cx="310.10" cy="232.03" r="1.75" fill="none" stroke="#c8143a" stroke-width="1.15"/>
<circle cx="319.70" cy="239.26" r="1.75" fill="none" stroke="#c8143a" stroke-width="1.15"/>
<circle cx="317.30" cy="239.07" r="1.75" fill="none" stroke="#c8143a" stroke-width="1.15"/>
<circle cx="312.50" cy="234.42" r="1.75" fill="none" stroke="#c8143a" stroke-width="1.15"/>
<circle cx="312.50" cy="238.86" r="1.75" fill="none" stroke="#c8143a" stroke-width="1.15"/>
<circle cx="319.70" cy="232.23" r="1.75" fill="none" stroke="#c8143a" stroke-width="1.15"/>
<circle cx="316.10" cy="238.66" r="1.75" fill="none" stroke="#c8143a" stroke-width="1.15"/>
<circle cx="318.50" cy="236.06" r="1.75" fill="none" stroke="#c8143a" stroke-width="1.15"/>
<circle cx="313.70" cy="237.39" r="1.75" fill="none" stroke="#c8143a" stroke-width="1.15"/>
<circle cx="314.90" cy="235.45" r="1.75" fill="none" stroke="#c8143a" stroke-width="1.15"/>
<circle cx="316.10" cy="237.00" r="1.75" fill="none" stroke="#c8143a" stroke-width="1.15"/>
<circle cx="310.10" cy="238.13" r="1.75" fill="none" stroke="#c8143a" stroke-width="1.15"/>
<circle cx="313.70" cy="232.97" r="1.75" fill="none" stroke="#c8143a" stroke-width="1.15"/>
<circle cx="322.10" cy="234.11" r="1.75" fill="none" stroke="#c8143a" stroke-width="1.15"/>
<circle cx="318.50" cy="237.87" r="1.75" fill="none" stroke="#c8143a" stroke-width="1.15"/>
<circle cx="320.90" cy="238.70" r="1.75" fill="none" stroke="#c8143a" stroke-width="1.15"/>
<circle cx="310.10" cy="235.24" r="1.75" fill="none" stroke="#c8143a" stroke-width="1.15"/>
<circle cx="316.10" cy="210.00" r="1.75" fill="none" stroke="#c8143a" stroke-width="1.15"/>
<circle cx="316.10" cy="220.20" r="1.75" fill="none" stroke="#c8143a" stroke-width="1.15"/>
<line x1="213.85" y1="219.00" x2="230.35" y2="219.00" stroke="#151515" stroke-width="1.60"/>
<line x1="222.10" y1="218.00" x2="222.10" y2="220.00" stroke="#111" stroke-width="1.00"/>
<line x1="219.10" y1="218.00" x2="225.10" y2="218.00" stroke="#111" stroke-width="1.00"/>
<line x1="219.10" y1="220.00" x2="225.10" y2="220.00" stroke="#111" stroke-width="1.00"/>
<line x1="237.35" y1="221.20" x2="253.85" y2="221.20" stroke="#151515" stroke-width="1.60"/>
<line x1="245.60" y1="220.20" x2="245.60" y2="222.20" stroke="#111" stroke-width="1.00"/>
<line x1="242.60" y1="220.20" x2="248.60" y2="220.20" stroke="#111" stroke-width="1.00"/>
<line x1="242.60" y1="222.20" x2="248.60" y2="222.20" stroke="#111" stroke-width="1.00"/>
<line x1="260.85" y1="225.08" x2="277.35" y2="225.08" stroke="#151515" stroke-width="1.60"/>
<line x1="269.10" y1="222.88" x2="269.10" y2="227.28" stroke="#111" stroke-width="1.00"/>
<line x1="266.10" y1="222.88" x2="272.10" y2="222.88" stroke="#111" stroke-width="1.00"/>
<line x1="266.10" y1="227.28" x2="272.10" y2="227.28" stroke="#111" stroke-width="1.00"/>
<line x1="284.35" y1="233.00" x2="300.85" y2="233.00" stroke="#151515" stroke-width="1.60"/>
<line x1="292.60" y1="232.00" x2="292.60" y2="234.00" stroke="#111" stroke-width="1.00"/>
<line x1="289.60" y1="232.00" x2="295.60" y2="232.00" stroke="#111" stroke-width="1.00"/>
<line x1="289.60" y1="234.00" x2="295.60" y2="234.00" stroke="#111" stroke-width="1.00"/>
<line x1="307.85" y1="235.40" x2="324.35" y2="235.40" stroke="#151515" stroke-width="1.60"/>
<line x1="316.10" y1="234.40" x2="316.10" y2="236.40" stroke="#111" stroke-width="1.00"/>
<line x1="313.10" y1="234.40" x2="319.10" y2="234.40" stroke="#111" stroke-width="1.00"/>
<line x1="313.10" y1="236.40" x2="319.10" y2="236.40" stroke="#111" stroke-width="1.00"/>
<line x1="208.80" y1="193.30" x2="208.80" y2="269.60" stroke="#111" stroke-width="1.35"/>
<line x1="205.00" y1="269.00" x2="208.80" y2="269.00" stroke="#111" stroke-width="1.00"/>
<text x="201.00" y="272.50" font-size="10.00" text-anchor="end" fill="#2a2a2a" stroke="#2a2a2a" stroke-width="0.2">0</text>
<line x1="205.00" y1="250.97" x2="208.80" y2="250.97" stroke="#111" stroke-width="1.00"/>
<text x="201.00" y="254.47" font-size="10.00" text-anchor="end" fill="#2a2a2a" stroke="#2a2a2a" stroke-width="0.2">5</text>
<line x1="205.00" y1="232.95" x2="208.80" y2="232.95" stroke="#111" stroke-width="1.00"/>
<text x="201.00" y="236.45" font-size="10.00" text-anchor="end" fill="#2a2a2a" stroke="#2a2a2a" stroke-width="0.2">10</text>
<line x1="205.00" y1="214.93" x2="208.80" y2="214.93" stroke="#111" stroke-width="1.00"/>
<text x="201.00" y="218.43" font-size="10.00" text-anchor="end" fill="#2a2a2a" stroke="#2a2a2a" stroke-width="0.2">15</text>
<line x1="205.00" y1="196.90" x2="208.80" y2="196.90" stroke="#111" stroke-width="1.00"/>
<text x="201.00" y="200.40" font-size="10.00" text-anchor="end" fill="#2a2a2a" stroke="#2a2a2a" stroke-width="0.2">20</text>
<line x1="206.60" y1="259.99" x2="208.80" y2="259.99" stroke="#111" stroke-width="1.00"/>
<line x1="206.60" y1="241.96" x2="208.80" y2="241.96" stroke="#111" stroke-width="1.00"/>
<line x1="206.60" y1="223.94" x2="208.80" y2="223.94" stroke="#111" stroke-width="1.00"/>
<line x1="206.60" y1="205.91" x2="208.80" y2="205.91" stroke="#111" stroke-width="1.00"/>
<line x1="208.20" y1="269.00" x2="329.40" y2="269.00" stroke="#111" stroke-width="1.35"/>
<line x1="222.10" y1="269.00" x2="222.10" y2="272.60" stroke="#111" stroke-width="1.00"/>
<line x1="245.60" y1="269.00" x2="245.60" y2="272.60" stroke="#111" stroke-width="1.00"/>
<line x1="269.10" y1="269.00" x2="269.10" y2="272.60" stroke="#111" stroke-width="1.00"/>
<line x1="292.60" y1="269.00" x2="292.60" y2="272.60" stroke="#111" stroke-width="1.00"/>
<line x1="316.10" y1="269.00" x2="316.10" y2="272.60" stroke="#111" stroke-width="1.00"/>
<text x="222.10" y="285.60" font-size="10.00" text-anchor="middle" fill="#379a3c" font-style="italic">WT</text>
<text x="245.60" y="285.60" font-size="10.0" text-anchor="middle" fill="#f29a1e" font-style="italic">FF<tspan font-size="7.2" dy="2.8">Vav</tspan></text>
<text x="269.10" y="285.60" font-size="10.0" text-anchor="middle" fill="#e0287f" font-style="italic">FF<tspan font-size="7.2" dy="2.8">Scl</tspan></text>
<text x="292.60" y="285.60" font-size="10.00" text-anchor="middle" fill="#225a98" font-style="italic">Ki</text>
<text x="316.10" y="285.60" font-size="10.00" text-anchor="middle" fill="#c8143a" font-style="italic">E12</text>
<polygon points="285.70,191.85 286.33,193.13 287.74,193.34 286.72,194.33 286.96,195.74 285.70,195.07 284.44,195.74 284.68,194.33 283.66,193.34 285.07,193.13" fill="#2a4c7c"/>
<polygon points="290.30,191.85 290.93,193.13 292.34,193.34 291.32,194.33 291.56,195.74 290.30,195.07 289.04,195.74 289.28,194.33 288.26,193.34 289.67,193.13" fill="#2a4c7c"/>
<polygon points="294.90,191.85 295.53,193.13 296.94,193.34 295.92,194.33 296.16,195.74 294.90,195.07 293.64,195.74 293.88,194.33 292.86,193.34 294.27,193.13" fill="#2a4c7c"/>
<polygon points="299.50,191.85 300.13,193.13 301.54,193.34 300.52,194.33 300.76,195.74 299.50,195.07 298.24,195.74 298.48,194.33 297.46,193.34 298.87,193.13" fill="#2a4c7c"/>
<polygon points="309.20,191.85 309.83,193.13 311.24,193.34 310.22,194.33 310.46,195.74 309.20,195.07 307.94,195.74 308.18,194.33 307.16,193.34 308.57,193.13" fill="#a3203c"/>
<polygon points="313.80,191.85 314.43,193.13 315.84,193.34 314.82,194.33 315.06,195.74 313.80,195.07 312.54,195.74 312.78,194.33 311.76,193.34 313.17,193.13" fill="#a3203c"/>
<polygon points="318.40,191.85 319.03,193.13 320.44,193.34 319.42,194.33 319.66,195.74 318.40,195.07 317.14,195.74 317.38,194.33 316.36,193.34 317.77,193.13" fill="#a3203c"/>
<polygon points="323.00,191.85 323.63,193.13 325.04,193.34 324.02,194.33 324.26,195.74 323.00,195.07 321.74,195.74 321.98,194.33 320.96,193.34 322.37,193.13" fill="#a3203c"/>
<rect x="371.60" y="258.70" width="120.00" height="6.70" fill="#d9d9d9"/>
<circle cx="379.50" cy="262.00" r="1.75" fill="none" stroke="#379a3c" stroke-width="1.15"/>
<circle cx="380.70" cy="266.00" r="1.75" fill="none" stroke="#379a3c" stroke-width="1.15"/>
<circle cx="385.50" cy="262.27" r="1.75" fill="none" stroke="#379a3c" stroke-width="1.15"/>
<circle cx="386.70" cy="262.64" r="1.75" fill="none" stroke="#379a3c" stroke-width="1.15"/>
<circle cx="384.30" cy="263.74" r="1.75" fill="none" stroke="#379a3c" stroke-width="1.15"/>
<circle cx="387.90" cy="263.69" r="1.75" fill="none" stroke="#379a3c" stroke-width="1.15"/>
<circle cx="389.10" cy="262.66" r="1.75" fill="none" stroke="#379a3c" stroke-width="1.15"/>
<circle cx="390.30" cy="262.47" r="1.75" fill="none" stroke="#379a3c" stroke-width="1.15"/>
<circle cx="381.90" cy="263.62" r="1.75" fill="none" stroke="#379a3c" stroke-width="1.15"/>
<circle cx="390.30" cy="264.05" r="1.75" fill="none" stroke="#379a3c" stroke-width="1.15"/>
<circle cx="379.50" cy="263.62" r="1.75" fill="none" stroke="#379a3c" stroke-width="1.15"/>
<circle cx="383.10" cy="264.08" r="1.75" fill="none" stroke="#379a3c" stroke-width="1.15"/>
<circle cx="389.10" cy="264.11" r="1.75" fill="none" stroke="#379a3c" stroke-width="1.15"/>
<circle cx="378.30" cy="263.80" r="1.75" fill="none" stroke="#379a3c" stroke-width="1.15"/>
<circle cx="385.50" cy="263.53" r="1.75" fill="none" stroke="#379a3c" stroke-width="1.15"/>
<circle cx="386.70" cy="264.61" r="1.75" fill="none" stroke="#379a3c" stroke-width="1.15"/>
<circle cx="383.10" cy="262.90" r="1.75" fill="none" stroke="#379a3c" stroke-width="1.15"/>
<circle cx="378.30" cy="264.38" r="1.75" fill="none" stroke="#379a3c" stroke-width="1.15"/>
<circle cx="386.70" cy="263.48" r="1.75" fill="none" stroke="#379a3c" stroke-width="1.15"/>
<circle cx="390.30" cy="263.49" r="1.75" fill="none" stroke="#379a3c" stroke-width="1.15"/>
<circle cx="383.10" cy="265.07" r="1.75" fill="none" stroke="#379a3c" stroke-width="1.15"/>
<circle cx="386.70" cy="264.06" r="1.75" fill="none" stroke="#379a3c" stroke-width="1.15"/>
<circle cx="381.90" cy="262.67" r="1.75" fill="none" stroke="#379a3c" stroke-width="1.15"/>
<circle cx="380.70" cy="263.92" r="1.75" fill="none" stroke="#379a3c" stroke-width="1.15"/>
<circle cx="381.90" cy="264.27" r="1.75" fill="none" stroke="#379a3c" stroke-width="1.15"/>
<circle cx="387.90" cy="262.23" r="1.75" fill="none" stroke="#379a3c" stroke-width="1.15"/>
<circle cx="390.30" cy="264.57" r="1.75" fill="none" stroke="#379a3c" stroke-width="1.15"/>
<circle cx="379.50" cy="264.93" r="1.75" fill="none" stroke="#379a3c" stroke-width="1.15"/>
<circle cx="380.70" cy="263.16" r="1.75" fill="none" stroke="#379a3c" stroke-width="1.15"/>
<circle cx="378.30" cy="262.88" r="1.75" fill="none" stroke="#379a3c" stroke-width="1.15"/>
<circle cx="410.20" cy="263.00" r="1.75" fill="none" stroke="#f29a1e" stroke-width="1.15"/>
<circle cx="405.40" cy="267.00" r="1.75" fill="none" stroke="#f29a1e" stroke-width="1.15"/>
<circle cx="403.00" cy="266.06" r="1.75" fill="none" stroke="#f29a1e" stroke-width="1.15"/>
<circle cx="407.80" cy="266.37" r="1.75" fill="none" stroke="#f29a1e" stroke-width="1.15"/>
<circle cx="413.80" cy="263.65" r="1.75" fill="none" stroke="#f29a1e" stroke-width="1.15"/>
<circle cx="412.60" cy="265.68" r="1.75" fill="none" stroke="#f29a1e" stroke-width="1.15"/>
<circle cx="410.20" cy="266.43" r="1.75" fill="none" stroke="#f29a1e" stroke-width="1.15"/>
<circle cx="412.60" cy="264.00" r="1.75" fill="none" stroke="#f29a1e" stroke-width="1.15"/>
<circle cx="405.40" cy="265.29" r="1.75" fill="none" stroke="#f29a1e" stroke-width="1.15"/>
<circle cx="404.20" cy="265.71" r="1.75" fill="none" stroke="#f29a1e" stroke-width="1.15"/>
<circle cx="411.40" cy="265.16" r="1.75" fill="none" stroke="#f29a1e" stroke-width="1.15"/>
<circle cx="413.80" cy="265.38" r="1.75" fill="none" stroke="#f29a1e" stroke-width="1.15"/>
<circle cx="409.00" cy="265.80" r="1.75" fill="none" stroke="#f29a1e" stroke-width="1.15"/>
<circle cx="401.80" cy="265.25" r="1.75" fill="none" stroke="#f29a1e" stroke-width="1.15"/>
<circle cx="403.00" cy="264.84" r="1.75" fill="none" stroke="#f29a1e" stroke-width="1.15"/>
<circle cx="406.60" cy="265.12" r="1.75" fill="none" stroke="#f29a1e" stroke-width="1.15"/>
<circle cx="404.20" cy="263.91" r="1.75" fill="none" stroke="#f29a1e" stroke-width="1.15"/>
<circle cx="409.00" cy="264.97" r="1.75" fill="none" stroke="#f29a1e" stroke-width="1.15"/>
<circle cx="407.80" cy="264.52" r="1.75" fill="none" stroke="#f29a1e" stroke-width="1.15"/>
<circle cx="410.20" cy="265.62" r="1.75" fill="none" stroke="#f29a1e" stroke-width="1.15"/>
<circle cx="431.30" cy="240.74" r="1.75" fill="none" stroke="#e0287f" stroke-width="1.15"/>
<circle cx="434.90" cy="242.90" r="1.75" fill="none" stroke="#e0287f" stroke-width="1.15"/>
<circle cx="431.30" cy="245.24" r="1.75" fill="none" stroke="#e0287f" stroke-width="1.15"/>
<circle cx="434.90" cy="247.40" r="1.75" fill="none" stroke="#e0287f" stroke-width="1.15"/>
<circle cx="427.70" cy="249.20" r="1.75" fill="none" stroke="#e0287f" stroke-width="1.15"/>
<circle cx="431.30" cy="251.00" r="1.75" fill="none" stroke="#e0287f" stroke-width="1.15"/>
<circle cx="434.90" cy="252.44" r="1.75" fill="none" stroke="#e0287f" stroke-width="1.15"/>
<circle cx="427.70" cy="253.70" r="1.75" fill="none" stroke="#e0287f" stroke-width="1.15"/>
<circle cx="431.30" cy="254.60" r="1.75" fill="none" stroke="#e0287f" stroke-width="1.15"/>
<circle cx="425.30" cy="255.32" r="1.75" fill="none" stroke="#e0287f" stroke-width="1.15"/>
<circle cx="437.30" cy="256.04" r="1.75" fill="none" stroke="#e0287f" stroke-width="1.15"/>
<circle cx="434.90" cy="256.76" r="1.75" fill="none" stroke="#e0287f" stroke-width="1.15"/>
<circle cx="427.70" cy="257.48" r="1.75" fill="none" stroke="#e0287f" stroke-width="1.15"/>
<circle cx="437.30" cy="258.20" r="1.75" fill="none" stroke="#e0287f" stroke-width="1.15"/>
<circle cx="431.30" cy="258.92" r="1.75" fill="none" stroke="#e0287f" stroke-width="1.15"/>
<circle cx="425.30" cy="259.64" r="1.75" fill="none" stroke="#e0287f" stroke-width="1.15"/>
<circle cx="434.90" cy="260.36" r="1.75" fill="none" stroke="#e0287f" stroke-width="1.15"/>
<circle cx="437.30" cy="261.08" r="1.75" fill="none" stroke="#e0287f" stroke-width="1.15"/>
<circle cx="428.90" cy="261.80" r="1.75" fill="none" stroke="#e0287f" stroke-width="1.15"/>
<circle cx="433.70" cy="261.98" r="1.75" fill="none" stroke="#e0287f" stroke-width="1.15"/>
<circle cx="454.80" cy="210.68" r="1.75" fill="none" stroke="#225a98" stroke-width="1.15"/>
<circle cx="454.80" cy="216.80" r="1.75" fill="none" stroke="#225a98" stroke-width="1.15"/>
<circle cx="454.80" cy="224.00" r="1.75" fill="none" stroke="#225a98" stroke-width="1.15"/>
<circle cx="458.40" cy="225.80" r="1.75" fill="none" stroke="#225a98" stroke-width="1.15"/>
<circle cx="454.80" cy="227.60" r="1.75" fill="none" stroke="#225a98" stroke-width="1.15"/>
<circle cx="451.20" cy="228.50" r="1.75" fill="none" stroke="#225a98" stroke-width="1.15"/>
<circle cx="458.40" cy="229.40" r="1.75" fill="none" stroke="#225a98" stroke-width="1.15"/>
<circle cx="448.80" cy="231.20" r="1.75" fill="none" stroke="#225a98" stroke-width="1.15"/>
<circle cx="454.80" cy="233.00" r="1.75" fill="none" stroke="#225a98" stroke-width="1.15"/>
<circle cx="451.20" cy="233.90" r="1.75" fill="none" stroke="#225a98" stroke-width="1.15"/>
<circle cx="458.40" cy="234.80" r="1.75" fill="none" stroke="#225a98" stroke-width="1.15"/>
<circle cx="454.80" cy="236.60" r="1.75" fill="none" stroke="#225a98" stroke-width="1.15"/>
<circle cx="458.40" cy="238.40" r="1.75" fill="none" stroke="#225a98" stroke-width="1.15"/>
<circle cx="454.80" cy="240.20" r="1.75" fill="none" stroke="#225a98" stroke-width="1.15"/>
<circle cx="451.20" cy="241.10" r="1.75" fill="none" stroke="#225a98" stroke-width="1.15"/>
<circle cx="458.40" cy="242.00" r="1.75" fill="none" stroke="#225a98" stroke-width="1.15"/>
<circle cx="454.80" cy="243.80" r="1.75" fill="none" stroke="#225a98" stroke-width="1.15"/>
<circle cx="458.40" cy="245.60" r="1.75" fill="none" stroke="#225a98" stroke-width="1.15"/>
<circle cx="454.80" cy="247.40" r="1.75" fill="none" stroke="#225a98" stroke-width="1.15"/>
<circle cx="458.40" cy="249.20" r="1.75" fill="none" stroke="#225a98" stroke-width="1.15"/>
<circle cx="454.80" cy="251.00" r="1.75" fill="none" stroke="#225a98" stroke-width="1.15"/>
<circle cx="458.40" cy="252.80" r="1.75" fill="none" stroke="#225a98" stroke-width="1.15"/>
<circle cx="454.80" cy="254.60" r="1.75" fill="none" stroke="#225a98" stroke-width="1.15"/>
<circle cx="451.20" cy="256.40" r="1.75" fill="none" stroke="#225a98" stroke-width="1.15"/>
<circle cx="454.80" cy="258.20" r="1.75" fill="none" stroke="#225a98" stroke-width="1.15"/>
<circle cx="458.40" cy="259.10" r="1.75" fill="none" stroke="#225a98" stroke-width="1.15"/>
<circle cx="481.90" cy="225.80" r="1.75" fill="none" stroke="#c8143a" stroke-width="1.15"/>
<circle cx="475.90" cy="226.16" r="1.75" fill="none" stroke="#c8143a" stroke-width="1.15"/>
<circle cx="473.50" cy="227.06" r="1.75" fill="none" stroke="#c8143a" stroke-width="1.15"/>
<circle cx="478.30" cy="227.60" r="1.75" fill="none" stroke="#c8143a" stroke-width="1.15"/>
<circle cx="484.30" cy="228.50" r="1.75" fill="none" stroke="#c8143a" stroke-width="1.15"/>
<circle cx="481.90" cy="229.40" r="1.75" fill="none" stroke="#c8143a" stroke-width="1.15"/>
<circle cx="474.70" cy="230.30" r="1.75" fill="none" stroke="#c8143a" stroke-width="1.15"/>
<circle cx="478.30" cy="231.20" r="1.75" fill="none" stroke="#c8143a" stroke-width="1.15"/>
<circle cx="472.30" cy="232.10" r="1.75" fill="none" stroke="#c8143a" stroke-width="1.15"/>
<circle cx="481.90" cy="233.00" r="1.75" fill="none" stroke="#c8143a" stroke-width="1.15"/>
<circle cx="478.30" cy="233.90" r="1.75" fill="none" stroke="#c8143a" stroke-width="1.15"/>
<circle cx="474.70" cy="234.80" r="1.75" fill="none" stroke="#c8143a" stroke-width="1.15"/>
<circle cx="484.30" cy="235.70" r="1.75" fill="none" stroke="#c8143a" stroke-width="1.15"/>
<circle cx="478.30" cy="236.60" r="1.75" fill="none" stroke="#c8143a" stroke-width="1.15"/>
<circle cx="472.30" cy="237.50" r="1.75" fill="none" stroke="#c8143a" stroke-width="1.15"/>
<circle cx="481.90" cy="238.40" r="1.75" fill="none" stroke="#c8143a" stroke-width="1.15"/>
<circle cx="474.70" cy="240.20" r="1.75" fill="none" stroke="#c8143a" stroke-width="1.15"/>
<circle cx="478.30" cy="242.00" r="1.75" fill="none" stroke="#c8143a" stroke-width="1.15"/>
<circle cx="481.90" cy="243.80" r="1.75" fill="none" stroke="#c8143a" stroke-width="1.15"/>
<circle cx="474.70" cy="245.60" r="1.75" fill="none" stroke="#c8143a" stroke-width="1.15"/>
<circle cx="478.30" cy="247.40" r="1.75" fill="none" stroke="#c8143a" stroke-width="1.15"/>
<circle cx="478.30" cy="256.40" r="1.75" fill="none" stroke="#c8143a" stroke-width="1.15"/>
<circle cx="478.30" cy="262.70" r="1.75" fill="none" stroke="#c8143a" stroke-width="1.15"/>
<line x1="376.05" y1="263.80" x2="392.55" y2="263.80" stroke="#151515" stroke-width="1.60"/>
<line x1="384.30" y1="262.80" x2="384.30" y2="264.80" stroke="#111" stroke-width="1.00"/>
<line x1="381.30" y1="262.80" x2="387.30" y2="262.80" stroke="#111" stroke-width="1.00"/>
<line x1="381.30" y1="264.80" x2="387.30" y2="264.80" stroke="#111" stroke-width="1.00"/>
<line x1="399.55" y1="264.80" x2="416.05" y2="264.80" stroke="#151515" stroke-width="1.60"/>
<line x1="407.80" y1="263.80" x2="407.80" y2="265.80" stroke="#111" stroke-width="1.00"/>
<line x1="404.80" y1="263.80" x2="410.80" y2="263.80" stroke="#111" stroke-width="1.00"/>
<line x1="404.80" y1="265.80" x2="410.80" y2="265.80" stroke="#111" stroke-width="1.00"/>
<line x1="423.05" y1="254.60" x2="439.55" y2="254.60" stroke="#151515" stroke-width="1.60"/>
<line x1="431.30" y1="253.60" x2="431.30" y2="255.60" stroke="#111" stroke-width="1.00"/>
<line x1="428.30" y1="253.60" x2="434.30" y2="253.60" stroke="#111" stroke-width="1.00"/>
<line x1="428.30" y1="255.60" x2="434.30" y2="255.60" stroke="#111" stroke-width="1.00"/>
<line x1="446.55" y1="238.76" x2="463.05" y2="238.76" stroke="#151515" stroke-width="1.60"/>
<line x1="454.80" y1="236.26" x2="454.80" y2="241.26" stroke="#111" stroke-width="1.00"/>
<line x1="451.80" y1="236.26" x2="457.80" y2="236.26" stroke="#111" stroke-width="1.00"/>
<line x1="451.80" y1="241.26" x2="457.80" y2="241.26" stroke="#111" stroke-width="1.00"/>
<line x1="470.05" y1="237.32" x2="486.55" y2="237.32" stroke="#151515" stroke-width="1.60"/>
<line x1="478.30" y1="235.52" x2="478.30" y2="239.12" stroke="#111" stroke-width="1.00"/>
<line x1="475.30" y1="235.52" x2="481.30" y2="235.52" stroke="#111" stroke-width="1.00"/>
<line x1="475.30" y1="239.12" x2="481.30" y2="239.12" stroke="#111" stroke-width="1.00"/>
<line x1="371.00" y1="193.30" x2="371.00" y2="269.60" stroke="#111" stroke-width="1.35"/>
<line x1="367.20" y1="269.00" x2="371.00" y2="269.00" stroke="#111" stroke-width="1.00"/>
<text x="363.20" y="272.50" font-size="10.00" text-anchor="end" fill="#2a2a2a" stroke="#2a2a2a" stroke-width="0.2">0</text>
<line x1="367.20" y1="251.00" x2="371.00" y2="251.00" stroke="#111" stroke-width="1.00"/>
<text x="363.20" y="254.50" font-size="10.00" text-anchor="end" fill="#2a2a2a" stroke="#2a2a2a" stroke-width="0.2">1</text>
<line x1="367.20" y1="233.00" x2="371.00" y2="233.00" stroke="#111" stroke-width="1.00"/>
<text x="363.20" y="236.50" font-size="10.00" text-anchor="end" fill="#2a2a2a" stroke="#2a2a2a" stroke-width="0.2">2</text>
<line x1="367.20" y1="215.00" x2="371.00" y2="215.00" stroke="#111" stroke-width="1.00"/>
<text x="363.20" y="218.50" font-size="10.00" text-anchor="end" fill="#2a2a2a" stroke="#2a2a2a" stroke-width="0.2">3</text>
<line x1="367.20" y1="197.00" x2="371.00" y2="197.00" stroke="#111" stroke-width="1.00"/>
<text x="363.20" y="200.50" font-size="10.00" text-anchor="end" fill="#2a2a2a" stroke="#2a2a2a" stroke-width="0.2">4</text>
<line x1="368.80" y1="260.00" x2="371.00" y2="260.00" stroke="#111" stroke-width="1.00"/>
<line x1="368.80" y1="242.00" x2="371.00" y2="242.00" stroke="#111" stroke-width="1.00"/>
<line x1="368.80" y1="224.00" x2="371.00" y2="224.00" stroke="#111" stroke-width="1.00"/>
<line x1="368.80" y1="206.00" x2="371.00" y2="206.00" stroke="#111" stroke-width="1.00"/>
<line x1="370.40" y1="269.00" x2="491.60" y2="269.00" stroke="#111" stroke-width="1.35"/>
<line x1="384.30" y1="269.00" x2="384.30" y2="272.60" stroke="#111" stroke-width="1.00"/>
<line x1="407.80" y1="269.00" x2="407.80" y2="272.60" stroke="#111" stroke-width="1.00"/>
<line x1="431.30" y1="269.00" x2="431.30" y2="272.60" stroke="#111" stroke-width="1.00"/>
<line x1="454.80" y1="269.00" x2="454.80" y2="272.60" stroke="#111" stroke-width="1.00"/>
<line x1="478.30" y1="269.00" x2="478.30" y2="272.60" stroke="#111" stroke-width="1.00"/>
<text x="384.30" y="285.60" font-size="10.00" text-anchor="middle" fill="#379a3c" font-style="italic">WT</text>
<text x="407.80" y="285.60" font-size="10.0" text-anchor="middle" fill="#f29a1e" font-style="italic">FF<tspan font-size="7.2" dy="2.8">Vav</tspan></text>
<text x="431.30" y="285.60" font-size="10.0" text-anchor="middle" fill="#e0287f" font-style="italic">FF<tspan font-size="7.2" dy="2.8">Scl</tspan></text>
<text x="454.80" y="285.60" font-size="10.00" text-anchor="middle" fill="#225a98" font-style="italic">Ki</text>
<text x="478.30" y="285.60" font-size="10.00" text-anchor="middle" fill="#c8143a" font-style="italic">E12</text>
<polygon points="429.00,188.85 429.63,190.13 431.04,190.34 430.02,191.33 430.26,192.74 429.00,192.07 427.74,192.74 427.98,191.33 426.96,190.34 428.37,190.13" fill="#b02c6c"/>
<polygon points="433.60,188.85 434.23,190.13 435.64,190.34 434.62,191.33 434.86,192.74 433.60,192.07 432.34,192.74 432.58,191.33 431.56,190.34 432.97,190.13" fill="#b02c6c"/>
<polygon points="447.90,188.85 448.53,190.13 449.94,190.34 448.92,191.33 449.16,192.74 447.90,192.07 446.64,192.74 446.88,191.33 445.86,190.34 447.27,190.13" fill="#2a4c7c"/>
<polygon points="452.50,188.85 453.13,190.13 454.54,190.34 453.52,191.33 453.76,192.74 452.50,192.07 451.24,192.74 451.48,191.33 450.46,190.34 451.87,190.13" fill="#2a4c7c"/>
<polygon points="457.10,188.85 457.73,190.13 459.14,190.34 458.12,191.33 458.36,192.74 457.10,192.07 455.84,192.74 456.08,191.33 455.06,190.34 456.47,190.13" fill="#2a4c7c"/>
<polygon points="461.70,188.85 462.33,190.13 463.74,190.34 462.72,191.33 462.96,192.74 461.70,192.07 460.44,192.74 460.68,191.33 459.66,190.34 461.07,190.13" fill="#2a4c7c"/>
<polygon points="471.40,188.85 472.03,190.13 473.44,190.34 472.42,191.33 472.66,192.74 471.40,192.07 470.14,192.74 470.38,191.33 469.36,190.34 470.77,190.13" fill="#a3203c"/>
<polygon points="476.00,188.85 476.63,190.13 478.04,190.34 477.02,191.33 477.26,192.74 476.00,192.07 474.74,192.74 474.98,191.33 473.96,190.34 475.37,190.13" fill="#a3203c"/>
<polygon points="480.60,188.85 481.23,190.13 482.64,190.34 481.62,191.33 481.86,192.74 480.60,192.07 479.34,192.74 479.58,191.33 478.56,190.34 479.97,190.13" fill="#a3203c"/>
<polygon points="485.20,188.85 485.83,190.13 487.24,190.34 486.22,191.33 486.46,192.74 485.20,192.07 483.94,192.74 484.18,191.33 483.16,190.34 484.57,190.13" fill="#a3203c"/>
<rect x="51.60" y="381.70" width="123.00" height="12.50" fill="#d9d9d9"/>
<circle cx="64.50" cy="368.01" r="1.75" fill="none" stroke="#379a3c" stroke-width="1.15"/>
<circle cx="66.90" cy="370.98" r="1.75" fill="none" stroke="#379a3c" stroke-width="1.15"/>
<circle cx="64.50" cy="373.96" r="1.75" fill="none" stroke="#379a3c" stroke-width="1.15"/>
<circle cx="66.90" cy="381.77" r="1.75" fill="none" stroke="#379a3c" stroke-width="1.15"/>
<circle cx="60.90" cy="382.89" r="1.75" fill="none" stroke="#379a3c" stroke-width="1.15"/>
<circle cx="69.30" cy="383.63" r="1.75" fill="none" stroke="#379a3c" stroke-width="1.15"/>
<circle cx="64.50" cy="384.38" r="1.75" fill="none" stroke="#379a3c" stroke-width="1.15"/>
<circle cx="62.10" cy="385.12" r="1.75" fill="none" stroke="#379a3c" stroke-width="1.15"/>
<circle cx="69.30" cy="385.86" r="1.75" fill="none" stroke="#379a3c" stroke-width="1.15"/>
<circle cx="65.70" cy="386.61" r="1.75" fill="none" stroke="#379a3c" stroke-width="1.15"/>
<circle cx="59.70" cy="386.98" r="1.75" fill="none" stroke="#379a3c" stroke-width="1.15"/>
<circle cx="62.10" cy="387.72" r="1.75" fill="none" stroke="#379a3c" stroke-width="1.15"/>
<circle cx="68.10" cy="388.47" r="1.75" fill="none" stroke="#379a3c" stroke-width="1.15"/>
<circle cx="65.70" cy="388.84" r="1.75" fill="none" stroke="#379a3c" stroke-width="1.15"/>
<circle cx="63.30" cy="389.21" r="1.75" fill="none" stroke="#379a3c" stroke-width="1.15"/>
<circle cx="69.30" cy="389.58" r="1.75" fill="none" stroke="#379a3c" stroke-width="1.15"/>
<circle cx="60.90" cy="389.96" r="1.75" fill="none" stroke="#379a3c" stroke-width="1.15"/>
<circle cx="64.50" cy="390.70" r="1.75" fill="none" stroke="#379a3c" stroke-width="1.15"/>
<circle cx="59.70" cy="391.07" r="1.75" fill="none" stroke="#379a3c" stroke-width="1.15"/>
<circle cx="62.10" cy="391.44" r="1.75" fill="none" stroke="#379a3c" stroke-width="1.15"/>
<circle cx="68.10" cy="392.19" r="1.75" fill="none" stroke="#379a3c" stroke-width="1.15"/>
<circle cx="65.70" cy="392.56" r="1.75" fill="none" stroke="#379a3c" stroke-width="1.15"/>
<circle cx="59.70" cy="393.30" r="1.75" fill="none" stroke="#379a3c" stroke-width="1.15"/>
<circle cx="63.30" cy="394.05" r="1.75" fill="none" stroke="#379a3c" stroke-width="1.15"/>
<circle cx="66.90" cy="394.79" r="1.75" fill="none" stroke="#379a3c" stroke-width="1.15"/>
<circle cx="69.30" cy="395.91" r="1.75" fill="none" stroke="#379a3c" stroke-width="1.15"/>
<circle cx="62.10" cy="398.14" r="1.75" fill="none" stroke="#379a3c" stroke-width="1.15"/>
<circle cx="64.50" cy="401.12" r="1.75" fill="none" stroke="#379a3c" stroke-width="1.15"/>
<circle cx="66.90" cy="404.09" r="1.75" fill="none" stroke="#379a3c" stroke-width="1.15"/>
<circle cx="64.50" cy="407.81" r="1.75" fill="none" stroke="#379a3c" stroke-width="1.15"/>
<circle cx="88.50" cy="364.66" r="1.75" fill="none" stroke="#f29a1e" stroke-width="1.15"/>
<circle cx="88.50" cy="370.61" r="1.75" fill="none" stroke="#f29a1e" stroke-width="1.15"/>
<circle cx="88.50" cy="375.45" r="1.75" fill="none" stroke="#f29a1e" stroke-width="1.15"/>
<circle cx="86.10" cy="378.05" r="1.75" fill="none" stroke="#f29a1e" stroke-width="1.15"/>
<circle cx="92.10" cy="380.28" r="1.75" fill="none" stroke="#f29a1e" stroke-width="1.15"/>
<circle cx="88.50" cy="382.52" r="1.75" fill="none" stroke="#f29a1e" stroke-width="1.15"/>
<circle cx="92.10" cy="384.75" r="1.75" fill="none" stroke="#f29a1e" stroke-width="1.15"/>
<circle cx="88.50" cy="386.98" r="1.75" fill="none" stroke="#f29a1e" stroke-width="1.15"/>
<circle cx="92.10" cy="389.21" r="1.75" fill="none" stroke="#f29a1e" stroke-width="1.15"/>
<circle cx="88.50" cy="391.44" r="1.75" fill="none" stroke="#f29a1e" stroke-width="1.15"/>
<circle cx="82.50" cy="392.56" r="1.75" fill="none" stroke="#f29a1e" stroke-width="1.15"/>
<circle cx="92.10" cy="393.68" r="1.75" fill="none" stroke="#f29a1e" stroke-width="1.15"/>
<circle cx="86.10" cy="394.79" r="1.75" fill="none" stroke="#f29a1e" stroke-width="1.15"/>
<circle cx="82.50" cy="395.91" r="1.75" fill="none" stroke="#f29a1e" stroke-width="1.15"/>
<circle cx="88.50" cy="397.40" r="1.75" fill="none" stroke="#f29a1e" stroke-width="1.15"/>
<circle cx="92.10" cy="398.88" r="1.75" fill="none" stroke="#f29a1e" stroke-width="1.15"/>
<circle cx="106.50" cy="395.80" r="1.75" fill="none" stroke="#e0287f" stroke-width="1.15"/>
<circle cx="111.30" cy="418.80" r="1.75" fill="none" stroke="#e0287f" stroke-width="1.15"/>
<circle cx="116.10" cy="406.22" r="1.75" fill="none" stroke="#e0287f" stroke-width="1.15"/>
<circle cx="108.90" cy="398.03" r="1.75" fill="none" stroke="#e0287f" stroke-width="1.15"/>
<circle cx="118.50" cy="406.39" r="1.75" fill="none" stroke="#e0287f" stroke-width="1.15"/>
<circle cx="106.50" cy="411.57" r="1.75" fill="none" stroke="#e0287f" stroke-width="1.15"/>
<circle cx="106.50" cy="404.74" r="1.75" fill="none" stroke="#e0287f" stroke-width="1.15"/>
<circle cx="110.10" cy="404.90" r="1.75" fill="none" stroke="#e0287f" stroke-width="1.15"/>
<circle cx="108.90" cy="407.23" r="1.75" fill="none" stroke="#e0287f" stroke-width="1.15"/>
<circle cx="116.10" cy="401.56" r="1.75" fill="none" stroke="#e0287f" stroke-width="1.15"/>
<circle cx="118.50" cy="403.35" r="1.75" fill="none" stroke="#e0287f" stroke-width="1.15"/>
<circle cx="118.50" cy="412.01" r="1.75" fill="none" stroke="#e0287f" stroke-width="1.15"/>
<circle cx="116.10" cy="411.18" r="1.75" fill="none" stroke="#e0287f" stroke-width="1.15"/>
<circle cx="113.70" cy="412.25" r="1.75" fill="none" stroke="#e0287f" stroke-width="1.15"/>
<circle cx="108.90" cy="411.73" r="1.75" fill="none" stroke="#e0287f" stroke-width="1.15"/>
<circle cx="112.50" cy="409.96" r="1.75" fill="none" stroke="#e0287f" stroke-width="1.15"/>
<circle cx="116.10" cy="397.03" r="1.75" fill="none" stroke="#e0287f" stroke-width="1.15"/>
<circle cx="112.50" cy="405.49" r="1.75" fill="none" stroke="#e0287f" stroke-width="1.15"/>
<circle cx="112.50" cy="415.07" r="1.75" fill="none" stroke="#e0287f" stroke-width="1.15"/>
<circle cx="112.50" cy="401.58" r="1.75" fill="none" stroke="#e0287f" stroke-width="1.15"/>
<circle cx="114.90" cy="417.76" r="1.75" fill="none" stroke="#e0287f" stroke-width="1.15"/>
<circle cx="112.50" cy="397.02" r="1.75" fill="none" stroke="#e0287f" stroke-width="1.15"/>
<circle cx="136.50" cy="402.00" r="1.75" fill="none" stroke="#225a98" stroke-width="1.15"/>
<circle cx="140.10" cy="419.80" r="1.75" fill="none" stroke="#225a98" stroke-width="1.15"/>
<circle cx="132.90" cy="409.12" r="1.75" fill="none" stroke="#225a98" stroke-width="1.15"/>
<circle cx="142.50" cy="414.87" r="1.75" fill="none" stroke="#225a98" stroke-width="1.15"/>
<circle cx="140.10" cy="415.85" r="1.75" fill="none" stroke="#225a98" stroke-width="1.15"/>
<circle cx="130.50" cy="416.22" r="1.75" fill="none" stroke="#225a98" stroke-width="1.15"/>
<circle cx="130.50" cy="414.08" r="1.75" fill="none" stroke="#225a98" stroke-width="1.15"/>
<circle cx="140.10" cy="410.14" r="1.75" fill="none" stroke="#225a98" stroke-width="1.15"/>
<circle cx="140.10" cy="413.49" r="1.75" fill="none" stroke="#225a98" stroke-width="1.15"/>
<circle cx="138.90" cy="411.27" r="1.75" fill="none" stroke="#225a98" stroke-width="1.15"/>
<circle cx="140.10" cy="407.48" r="1.75" fill="none" stroke="#225a98" stroke-width="1.15"/>
<circle cx="132.90" cy="415.25" r="1.75" fill="none" stroke="#225a98" stroke-width="1.15"/>
<circle cx="136.50" cy="413.78" r="1.75" fill="none" stroke="#225a98" stroke-width="1.15"/>
<circle cx="142.50" cy="410.71" r="1.75" fill="none" stroke="#225a98" stroke-width="1.15"/>
<circle cx="136.50" cy="409.32" r="1.75" fill="none" stroke="#225a98" stroke-width="1.15"/>
<circle cx="142.50" cy="417.58" r="1.75" fill="none" stroke="#225a98" stroke-width="1.15"/>
<circle cx="137.70" cy="415.87" r="1.75" fill="none" stroke="#225a98" stroke-width="1.15"/>
<circle cx="136.50" cy="417.89" r="1.75" fill="none" stroke="#225a98" stroke-width="1.15"/>
<circle cx="130.50" cy="408.55" r="1.75" fill="none" stroke="#225a98" stroke-width="1.15"/>
<circle cx="136.50" cy="406.79" r="1.75" fill="none" stroke="#225a98" stroke-width="1.15"/>
<circle cx="160.50" cy="373.30" r="1.75" fill="none" stroke="#c8143a" stroke-width="1.15"/>
<circle cx="160.50" cy="415.00" r="1.75" fill="none" stroke="#c8143a" stroke-width="1.15"/>
<circle cx="159.30" cy="384.02" r="1.75" fill="none" stroke="#c8143a" stroke-width="1.15"/>
<circle cx="154.50" cy="399.88" r="1.75" fill="none" stroke="#c8143a" stroke-width="1.15"/>
<circle cx="162.90" cy="403.38" r="1.75" fill="none" stroke="#c8143a" stroke-width="1.15"/>
<circle cx="164.10" cy="393.98" r="1.75" fill="none" stroke="#c8143a" stroke-width="1.15"/>
<circle cx="158.10" cy="397.03" r="1.75" fill="none" stroke="#c8143a" stroke-width="1.15"/>
<circle cx="160.50" cy="409.72" r="1.75" fill="none" stroke="#c8143a" stroke-width="1.15"/>
<circle cx="164.10" cy="407.89" r="1.75" fill="none" stroke="#c8143a" stroke-width="1.15"/>
<circle cx="156.90" cy="404.38" r="1.75" fill="none" stroke="#c8143a" stroke-width="1.15"/>
<circle cx="162.90" cy="382.63" r="1.75" fill="none" stroke="#c8143a" stroke-width="1.15"/>
<circle cx="165.30" cy="401.49" r="1.75" fill="none" stroke="#c8143a" stroke-width="1.15"/>
<circle cx="160.50" cy="400.21" r="1.75" fill="none" stroke="#c8143a" stroke-width="1.15"/>
<circle cx="164.10" cy="387.65" r="1.75" fill="none" stroke="#c8143a" stroke-width="1.15"/>
<circle cx="162.90" cy="399.94" r="1.75" fill="none" stroke="#c8143a" stroke-width="1.15"/>
<circle cx="160.50" cy="387.90" r="1.75" fill="none" stroke="#c8143a" stroke-width="1.15"/>
<circle cx="161.70" cy="401.42" r="1.75" fill="none" stroke="#c8143a" stroke-width="1.15"/>
<circle cx="160.50" cy="406.00" r="1.75" fill="none" stroke="#c8143a" stroke-width="1.15"/>
<circle cx="156.90" cy="400.96" r="1.75" fill="none" stroke="#c8143a" stroke-width="1.15"/>
<circle cx="166.50" cy="403.84" r="1.75" fill="none" stroke="#c8143a" stroke-width="1.15"/>
<circle cx="166.50" cy="390.73" r="1.75" fill="none" stroke="#c8143a" stroke-width="1.15"/>
<circle cx="160.50" cy="393.03" r="1.75" fill="none" stroke="#c8143a" stroke-width="1.15"/>
<circle cx="160.50" cy="379.54" r="1.75" fill="none" stroke="#c8143a" stroke-width="1.15"/>
<circle cx="166.50" cy="398.43" r="1.75" fill="none" stroke="#c8143a" stroke-width="1.15"/>
<circle cx="156.90" cy="391.75" r="1.75" fill="none" stroke="#c8143a" stroke-width="1.15"/>
<circle cx="154.50" cy="388.90" r="1.75" fill="none" stroke="#c8143a" stroke-width="1.15"/>
<line x1="56.25" y1="390.33" x2="72.75" y2="390.33" stroke="#151515" stroke-width="1.60"/>
<line x1="64.50" y1="388.73" x2="64.50" y2="391.93" stroke="#111" stroke-width="1.00"/>
<line x1="61.50" y1="388.73" x2="67.50" y2="388.73" stroke="#111" stroke-width="1.00"/>
<line x1="61.50" y1="391.93" x2="67.50" y2="391.93" stroke="#111" stroke-width="1.00"/>
<line x1="80.25" y1="385.60" x2="96.75" y2="385.60" stroke="#151515" stroke-width="1.60"/>
<line x1="88.50" y1="382.40" x2="88.50" y2="388.80" stroke="#111" stroke-width="1.00"/>
<line x1="85.50" y1="382.40" x2="91.50" y2="382.40" stroke="#111" stroke-width="1.00"/>
<line x1="85.50" y1="388.80" x2="91.50" y2="388.80" stroke="#111" stroke-width="1.00"/>
<line x1="104.25" y1="407.70" x2="120.75" y2="407.70" stroke="#151515" stroke-width="1.60"/>
<line x1="112.50" y1="405.70" x2="112.50" y2="409.70" stroke="#111" stroke-width="1.00"/>
<line x1="109.50" y1="405.70" x2="115.50" y2="405.70" stroke="#111" stroke-width="1.00"/>
<line x1="109.50" y1="409.70" x2="115.50" y2="409.70" stroke="#111" stroke-width="1.00"/>
<line x1="128.25" y1="412.70" x2="144.75" y2="412.70" stroke="#151515" stroke-width="1.60"/>
<line x1="136.50" y1="411.20" x2="136.50" y2="414.20" stroke="#111" stroke-width="1.00"/>
<line x1="133.50" y1="411.20" x2="139.50" y2="411.20" stroke="#111" stroke-width="1.00"/>
<line x1="133.50" y1="414.20" x2="139.50" y2="414.20" stroke="#111" stroke-width="1.00"/>
<line x1="152.25" y1="400.60" x2="168.75" y2="400.60" stroke="#151515" stroke-width="1.60"/>
<line x1="160.50" y1="398.10" x2="160.50" y2="403.10" stroke="#111" stroke-width="1.00"/>
<line x1="157.50" y1="398.10" x2="163.50" y2="398.10" stroke="#111" stroke-width="1.00"/>
<line x1="157.50" y1="403.10" x2="163.50" y2="403.10" stroke="#111" stroke-width="1.00"/>
<line x1="51.00" y1="350.00" x2="51.00" y2="428.50" stroke="#111" stroke-width="1.35"/>
<line x1="47.20" y1="427.90" x2="51.00" y2="427.90" stroke="#111" stroke-width="1.00"/>
<text x="43.20" y="431.40" font-size="10.00" text-anchor="end" fill="#2a2a2a" stroke="#2a2a2a" stroke-width="0.2">0</text>
<line x1="47.20" y1="409.30" x2="51.00" y2="409.30" stroke="#111" stroke-width="1.00"/>
<text x="43.20" y="412.80" font-size="10.00" text-anchor="end" fill="#2a2a2a" stroke="#2a2a2a" stroke-width="0.2">50</text>
<line x1="47.20" y1="390.70" x2="51.00" y2="390.70" stroke="#111" stroke-width="1.00"/>
<text x="43.20" y="394.20" font-size="10.00" text-anchor="end" fill="#2a2a2a" stroke="#2a2a2a" stroke-width="0.2">100</text>
<line x1="47.20" y1="372.10" x2="51.00" y2="372.10" stroke="#111" stroke-width="1.00"/>
<text x="43.20" y="375.60" font-size="10.00" text-anchor="end" fill="#2a2a2a" stroke="#2a2a2a" stroke-width="0.2">150</text>
<line x1="47.20" y1="353.50" x2="51.00" y2="353.50" stroke="#111" stroke-width="1.00"/>
<text x="43.20" y="357.00" font-size="10.00" text-anchor="end" fill="#2a2a2a" stroke="#2a2a2a" stroke-width="0.2">200</text>
<line x1="48.80" y1="418.60" x2="51.00" y2="418.60" stroke="#111" stroke-width="1.00"/>
<line x1="48.80" y1="400.00" x2="51.00" y2="400.00" stroke="#111" stroke-width="1.00"/>
<line x1="48.80" y1="381.40" x2="51.00" y2="381.40" stroke="#111" stroke-width="1.00"/>
<line x1="48.80" y1="362.80" x2="51.00" y2="362.80" stroke="#111" stroke-width="1.00"/>
<line x1="50.40" y1="427.90" x2="174.60" y2="427.90" stroke="#111" stroke-width="1.35"/>
<line x1="64.50" y1="427.90" x2="64.50" y2="431.50" stroke="#111" stroke-width="1.00"/>
<line x1="88.50" y1="427.90" x2="88.50" y2="431.50" stroke="#111" stroke-width="1.00"/>
<line x1="112.50" y1="427.90" x2="112.50" y2="431.50" stroke="#111" stroke-width="1.00"/>
<line x1="136.50" y1="427.90" x2="136.50" y2="431.50" stroke="#111" stroke-width="1.00"/>
<line x1="160.50" y1="427.90" x2="160.50" y2="431.50" stroke="#111" stroke-width="1.00"/>
<text x="64.50" y="444.50" font-size="10.00" text-anchor="middle" fill="#379a3c" font-style="italic">WT</text>
<text x="88.50" y="444.50" font-size="10.0" text-anchor="middle" fill="#f29a1e" font-style="italic">FF<tspan font-size="7.2" dy="2.8">Vav</tspan></text>
<text x="112.50" y="444.50" font-size="10.0" text-anchor="middle" fill="#e0287f" font-style="italic">FF<tspan font-size="7.2" dy="2.8">Scl</tspan></text>
<text x="136.50" y="444.50" font-size="10.00" text-anchor="middle" fill="#225a98" font-style="italic">Ki</text>
<text x="160.50" y="444.50" font-size="10.00" text-anchor="middle" fill="#c8143a" font-style="italic">E12</text>
<polygon points="105.60,347.85 106.23,349.13 107.64,349.34 106.62,350.33 106.86,351.74 105.60,351.07 104.34,351.74 104.58,350.33 103.56,349.34 104.97,349.13" fill="#b02c6c"/>
<polygon points="110.20,347.85 110.83,349.13 112.24,349.34 111.22,350.33 111.46,351.74 110.20,351.07 108.94,351.74 109.18,350.33 108.16,349.34 109.57,349.13" fill="#b02c6c"/>
<polygon points="114.80,347.85 115.43,349.13 116.84,349.34 115.82,350.33 116.06,351.74 114.80,351.07 113.54,351.74 113.78,350.33 112.76,349.34 114.17,349.13" fill="#b02c6c"/>
<polygon points="119.40,347.85 120.03,349.13 121.44,349.34 120.42,350.33 120.66,351.74 119.40,351.07 118.14,351.74 118.38,350.33 117.36,349.34 118.77,349.13" fill="#b02c6c"/>
<polygon points="129.60,347.85 130.23,349.13 131.64,349.34 130.62,350.33 130.86,351.74 129.60,351.07 128.34,351.74 128.58,350.33 127.56,349.34 128.97,349.13" fill="#2a4c7c"/>
<polygon points="134.20,347.85 134.83,349.13 136.24,349.34 135.22,350.33 135.46,351.74 134.20,351.07 132.94,351.74 133.18,350.33 132.16,349.34 133.57,349.13" fill="#2a4c7c"/>
<polygon points="138.80,347.85 139.43,349.13 140.84,349.34 139.82,350.33 140.06,351.74 138.80,351.07 137.54,351.74 137.78,350.33 136.76,349.34 138.17,349.13" fill="#2a4c7c"/>
<polygon points="143.40,347.85 144.03,349.13 145.44,349.34 144.42,350.33 144.66,351.74 143.40,351.07 142.14,351.74 142.38,350.33 141.36,349.34 142.77,349.13" fill="#2a4c7c"/>
<rect x="214.80" y="397.10" width="124.40" height="16.00" fill="#d9d9d9"/>
<circle cx="227.70" cy="386.70" r="1.75" fill="none" stroke="#379a3c" stroke-width="1.15"/>
<circle cx="232.50" cy="405.40" r="1.75" fill="none" stroke="#379a3c" stroke-width="1.15"/>
<circle cx="228.90" cy="397.41" r="1.75" fill="none" stroke="#379a3c" stroke-width="1.15"/>
<circle cx="226.50" cy="397.50" r="1.75" fill="none" stroke="#379a3c" stroke-width="1.15"/>
<circle cx="231.30" cy="396.35" r="1.75" fill="none" stroke="#379a3c" stroke-width="1.15"/>
<circle cx="227.70" cy="399.95" r="1.75" fill="none" stroke="#379a3c" stroke-width="1.15"/>
<circle cx="228.90" cy="395.26" r="1.75" fill="none" stroke="#379a3c" stroke-width="1.15"/>
<circle cx="228.90" cy="403.17" r="1.75" fill="none" stroke="#379a3c" stroke-width="1.15"/>
<circle cx="225.30" cy="390.23" r="1.75" fill="none" stroke="#379a3c" stroke-width="1.15"/>
<circle cx="228.90" cy="390.95" r="1.75" fill="none" stroke="#379a3c" stroke-width="1.15"/>
<circle cx="231.30" cy="400.64" r="1.75" fill="none" stroke="#379a3c" stroke-width="1.15"/>
<circle cx="221.70" cy="393.38" r="1.75" fill="none" stroke="#379a3c" stroke-width="1.15"/>
<circle cx="224.10" cy="395.03" r="1.75" fill="none" stroke="#379a3c" stroke-width="1.15"/>
<circle cx="224.10" cy="398.78" r="1.75" fill="none" stroke="#379a3c" stroke-width="1.15"/>
<circle cx="221.70" cy="396.82" r="1.75" fill="none" stroke="#379a3c" stroke-width="1.15"/>
<circle cx="233.70" cy="394.08" r="1.75" fill="none" stroke="#379a3c" stroke-width="1.15"/>
<circle cx="227.70" cy="394.16" r="1.75" fill="none" stroke="#379a3c" stroke-width="1.15"/>
<circle cx="225.30" cy="404.29" r="1.75" fill="none" stroke="#379a3c" stroke-width="1.15"/>
<circle cx="221.70" cy="395.16" r="1.75" fill="none" stroke="#379a3c" stroke-width="1.15"/>
<circle cx="233.70" cy="399.08" r="1.75" fill="none" stroke="#379a3c" stroke-width="1.15"/>
<circle cx="255.70" cy="381.30" r="1.75" fill="none" stroke="#f29a1e" stroke-width="1.15"/>
<circle cx="252.10" cy="396.70" r="1.75" fill="none" stroke="#f29a1e" stroke-width="1.15"/>
<circle cx="252.10" cy="383.62" r="1.75" fill="none" stroke="#f29a1e" stroke-width="1.15"/>
<circle cx="255.70" cy="388.54" r="1.75" fill="none" stroke="#f29a1e" stroke-width="1.15"/>
<circle cx="254.50" cy="390.91" r="1.75" fill="none" stroke="#f29a1e" stroke-width="1.15"/>
<circle cx="255.70" cy="394.88" r="1.75" fill="none" stroke="#f29a1e" stroke-width="1.15"/>
<circle cx="258.10" cy="393.15" r="1.75" fill="none" stroke="#f29a1e" stroke-width="1.15"/>
<circle cx="252.10" cy="390.05" r="1.75" fill="none" stroke="#f29a1e" stroke-width="1.15"/>
<circle cx="249.70" cy="392.60" r="1.75" fill="none" stroke="#f29a1e" stroke-width="1.15"/>
<circle cx="258.10" cy="388.22" r="1.75" fill="none" stroke="#f29a1e" stroke-width="1.15"/>
<circle cx="248.50" cy="389.41" r="1.75" fill="none" stroke="#f29a1e" stroke-width="1.15"/>
<circle cx="246.10" cy="388.85" r="1.75" fill="none" stroke="#f29a1e" stroke-width="1.15"/>
<circle cx="246.10" cy="392.48" r="1.75" fill="none" stroke="#f29a1e" stroke-width="1.15"/>
<circle cx="253.30" cy="388.13" r="1.75" fill="none" stroke="#f29a1e" stroke-width="1.15"/>
<circle cx="255.70" cy="385.00" r="1.75" fill="none" stroke="#f29a1e" stroke-width="1.15"/>
<circle cx="248.50" cy="384.25" r="1.75" fill="none" stroke="#f29a1e" stroke-width="1.15"/>
<circle cx="276.50" cy="355.13" r="1.75" fill="none" stroke="#e0287f" stroke-width="1.15"/>
<circle cx="276.50" cy="358.81" r="1.75" fill="none" stroke="#e0287f" stroke-width="1.15"/>
<circle cx="276.50" cy="362.49" r="1.75" fill="none" stroke="#e0287f" stroke-width="1.15"/>
<circle cx="278.90" cy="366.89" r="1.75" fill="none" stroke="#e0287f" stroke-width="1.15"/>
<circle cx="272.90" cy="368.37" r="1.75" fill="none" stroke="#e0287f" stroke-width="1.15"/>
<circle cx="276.50" cy="369.83" r="1.75" fill="none" stroke="#e0287f" stroke-width="1.15"/>
<circle cx="274.10" cy="389.31" r="1.75" fill="none" stroke="#e0287f" stroke-width="1.15"/>
<circle cx="280.10" cy="390.78" r="1.75" fill="none" stroke="#e0287f" stroke-width="1.15"/>
<circle cx="276.50" cy="391.88" r="1.75" fill="none" stroke="#e0287f" stroke-width="1.15"/>
<circle cx="282.50" cy="392.99" r="1.75" fill="none" stroke="#e0287f" stroke-width="1.15"/>
<circle cx="272.90" cy="393.72" r="1.75" fill="none" stroke="#e0287f" stroke-width="1.15"/>
<circle cx="276.50" cy="394.46" r="1.75" fill="none" stroke="#e0287f" stroke-width="1.15"/>
<circle cx="278.90" cy="395.19" r="1.75" fill="none" stroke="#e0287f" stroke-width="1.15"/>
<circle cx="270.50" cy="396.29" r="1.75" fill="none" stroke="#e0287f" stroke-width="1.15"/>
<circle cx="276.50" cy="397.76" r="1.75" fill="none" stroke="#e0287f" stroke-width="1.15"/>
<circle cx="276.50" cy="411.36" r="1.75" fill="none" stroke="#e0287f" stroke-width="1.15"/>
<circle cx="303.30" cy="380.00" r="1.75" fill="none" stroke="#225a98" stroke-width="1.15"/>
<circle cx="300.90" cy="405.00" r="1.75" fill="none" stroke="#225a98" stroke-width="1.15"/>
<circle cx="298.50" cy="394.28" r="1.75" fill="none" stroke="#225a98" stroke-width="1.15"/>
<circle cx="298.50" cy="388.75" r="1.75" fill="none" stroke="#225a98" stroke-width="1.15"/>
<circle cx="299.70" cy="386.59" r="1.75" fill="none" stroke="#225a98" stroke-width="1.15"/>
<circle cx="304.50" cy="393.22" r="1.75" fill="none" stroke="#225a98" stroke-width="1.15"/>
<circle cx="297.30" cy="395.65" r="1.75" fill="none" stroke="#225a98" stroke-width="1.15"/>
<circle cx="303.30" cy="388.30" r="1.75" fill="none" stroke="#225a98" stroke-width="1.15"/>
<circle cx="303.30" cy="398.32" r="1.75" fill="none" stroke="#225a98" stroke-width="1.15"/>
<circle cx="297.30" cy="391.04" r="1.75" fill="none" stroke="#225a98" stroke-width="1.15"/>
<circle cx="306.90" cy="395.37" r="1.75" fill="none" stroke="#225a98" stroke-width="1.15"/>
<circle cx="304.50" cy="403.50" r="1.75" fill="none" stroke="#225a98" stroke-width="1.15"/>
<circle cx="294.90" cy="389.65" r="1.75" fill="none" stroke="#225a98" stroke-width="1.15"/>
<circle cx="294.90" cy="393.04" r="1.75" fill="none" stroke="#225a98" stroke-width="1.15"/>
<circle cx="306.90" cy="391.13" r="1.75" fill="none" stroke="#225a98" stroke-width="1.15"/>
<circle cx="300.90" cy="390.84" r="1.75" fill="none" stroke="#225a98" stroke-width="1.15"/>
<circle cx="300.90" cy="395.53" r="1.75" fill="none" stroke="#225a98" stroke-width="1.15"/>
<circle cx="300.90" cy="382.57" r="1.75" fill="none" stroke="#225a98" stroke-width="1.15"/>
<circle cx="303.30" cy="395.25" r="1.75" fill="none" stroke="#225a98" stroke-width="1.15"/>
<circle cx="304.50" cy="383.50" r="1.75" fill="none" stroke="#225a98" stroke-width="1.15"/>
<circle cx="300.90" cy="412.70" r="1.75" fill="none" stroke="#225a98" stroke-width="1.15"/>
<circle cx="325.30" cy="377.00" r="1.75" fill="none" stroke="#c8143a" stroke-width="1.15"/>
<circle cx="325.30" cy="411.00" r="1.75" fill="none" stroke="#c8143a" stroke-width="1.15"/>
<circle cx="321.70" cy="382.41" r="1.75" fill="none" stroke="#c8143a" stroke-width="1.15"/>
<circle cx="321.70" cy="386.35" r="1.75" fill="none" stroke="#c8143a" stroke-width="1.15"/>
<circle cx="319.30" cy="392.44" r="1.75" fill="none" stroke="#c8143a" stroke-width="1.15"/>
<circle cx="321.70" cy="392.88" r="1.75" fill="none" stroke="#c8143a" stroke-width="1.15"/>
<circle cx="325.30" cy="384.40" r="1.75" fill="none" stroke="#c8143a" stroke-width="1.15"/>
<circle cx="319.30" cy="388.77" r="1.75" fill="none" stroke="#c8143a" stroke-width="1.15"/>
<circle cx="325.30" cy="401.38" r="1.75" fill="none" stroke="#c8143a" stroke-width="1.15"/>
<circle cx="328.90" cy="386.78" r="1.75" fill="none" stroke="#c8143a" stroke-width="1.15"/>
<circle cx="331.30" cy="386.52" r="1.75" fill="none" stroke="#c8143a" stroke-width="1.15"/>
<circle cx="328.90" cy="391.63" r="1.75" fill="none" stroke="#c8143a" stroke-width="1.15"/>
<circle cx="326.50" cy="380.35" r="1.75" fill="none" stroke="#c8143a" stroke-width="1.15"/>
<circle cx="325.30" cy="397.71" r="1.75" fill="none" stroke="#c8143a" stroke-width="1.15"/>
<circle cx="326.50" cy="394.09" r="1.75" fill="none" stroke="#c8143a" stroke-width="1.15"/>
<circle cx="328.90" cy="401.24" r="1.75" fill="none" stroke="#c8143a" stroke-width="1.15"/>
<circle cx="325.30" cy="387.57" r="1.75" fill="none" stroke="#c8143a" stroke-width="1.15"/>
<circle cx="325.30" cy="406.10" r="1.75" fill="none" stroke="#c8143a" stroke-width="1.15"/>
<circle cx="325.30" cy="390.70" r="1.75" fill="none" stroke="#c8143a" stroke-width="1.15"/>
<circle cx="328.90" cy="383.78" r="1.75" fill="none" stroke="#c8143a" stroke-width="1.15"/>
<circle cx="331.30" cy="392.66" r="1.75" fill="none" stroke="#c8143a" stroke-width="1.15"/>
<circle cx="328.90" cy="410.14" r="1.75" fill="none" stroke="#c8143a" stroke-width="1.15"/>
<line x1="219.45" y1="396.30" x2="235.95" y2="396.30" stroke="#151515" stroke-width="1.60"/>
<line x1="227.70" y1="394.80" x2="227.70" y2="397.80" stroke="#111" stroke-width="1.00"/>
<line x1="224.70" y1="394.80" x2="230.70" y2="394.80" stroke="#111" stroke-width="1.00"/>
<line x1="224.70" y1="397.80" x2="230.70" y2="397.80" stroke="#111" stroke-width="1.00"/>
<line x1="243.85" y1="389.00" x2="260.35" y2="389.00" stroke="#151515" stroke-width="1.60"/>
<line x1="252.10" y1="387.20" x2="252.10" y2="390.80" stroke="#111" stroke-width="1.00"/>
<line x1="249.10" y1="387.20" x2="255.10" y2="387.20" stroke="#111" stroke-width="1.00"/>
<line x1="249.10" y1="390.80" x2="255.10" y2="390.80" stroke="#111" stroke-width="1.00"/>
<line x1="268.25" y1="384.17" x2="284.75" y2="384.17" stroke="#151515" stroke-width="1.60"/>
<line x1="276.50" y1="379.67" x2="276.50" y2="388.67" stroke="#111" stroke-width="1.00"/>
<line x1="273.50" y1="379.67" x2="279.50" y2="379.67" stroke="#111" stroke-width="1.00"/>
<line x1="273.50" y1="388.67" x2="279.50" y2="388.67" stroke="#111" stroke-width="1.00"/>
<line x1="292.65" y1="393.00" x2="309.15" y2="393.00" stroke="#151515" stroke-width="1.60"/>
<line x1="300.90" y1="390.80" x2="300.90" y2="395.20" stroke="#111" stroke-width="1.00"/>
<line x1="297.90" y1="390.80" x2="303.90" y2="390.80" stroke="#111" stroke-width="1.00"/>
<line x1="297.90" y1="395.20" x2="303.90" y2="395.20" stroke="#111" stroke-width="1.00"/>
<line x1="317.05" y1="394.40" x2="333.55" y2="394.40" stroke="#151515" stroke-width="1.60"/>
<line x1="325.30" y1="392.20" x2="325.30" y2="396.60" stroke="#111" stroke-width="1.00"/>
<line x1="322.30" y1="392.20" x2="328.30" y2="392.20" stroke="#111" stroke-width="1.00"/>
<line x1="322.30" y1="396.60" x2="328.30" y2="396.60" stroke="#111" stroke-width="1.00"/>
<line x1="214.20" y1="350.00" x2="214.20" y2="428.50" stroke="#111" stroke-width="1.35"/>
<line x1="210.40" y1="427.90" x2="214.20" y2="427.90" stroke="#111" stroke-width="1.00"/>
<text x="206.40" y="431.40" font-size="10.00" text-anchor="end" fill="#2a2a2a" stroke="#2a2a2a" stroke-width="0.2">0</text>
<line x1="210.40" y1="409.52" x2="214.20" y2="409.52" stroke="#111" stroke-width="1.00"/>
<text x="206.40" y="413.02" font-size="10.00" text-anchor="end" fill="#2a2a2a" stroke="#2a2a2a" stroke-width="0.2">50</text>
<line x1="210.40" y1="391.15" x2="214.20" y2="391.15" stroke="#111" stroke-width="1.00"/>
<text x="206.40" y="394.65" font-size="10.00" text-anchor="end" fill="#2a2a2a" stroke="#2a2a2a" stroke-width="0.2">100</text>
<line x1="210.40" y1="372.77" x2="214.20" y2="372.77" stroke="#111" stroke-width="1.00"/>
<text x="206.40" y="376.27" font-size="10.00" text-anchor="end" fill="#2a2a2a" stroke="#2a2a2a" stroke-width="0.2">150</text>
<line x1="210.40" y1="354.40" x2="214.20" y2="354.40" stroke="#111" stroke-width="1.00"/>
<text x="206.40" y="357.90" font-size="10.00" text-anchor="end" fill="#2a2a2a" stroke="#2a2a2a" stroke-width="0.2">200</text>
<line x1="212.00" y1="418.71" x2="214.20" y2="418.71" stroke="#111" stroke-width="1.00"/>
<line x1="212.00" y1="400.34" x2="214.20" y2="400.34" stroke="#111" stroke-width="1.00"/>
<line x1="212.00" y1="381.96" x2="214.20" y2="381.96" stroke="#111" stroke-width="1.00"/>
<line x1="212.00" y1="363.59" x2="214.20" y2="363.59" stroke="#111" stroke-width="1.00"/>
<line x1="213.60" y1="427.90" x2="339.20" y2="427.90" stroke="#111" stroke-width="1.35"/>
<line x1="227.70" y1="427.90" x2="227.70" y2="431.50" stroke="#111" stroke-width="1.00"/>
<line x1="252.10" y1="427.90" x2="252.10" y2="431.50" stroke="#111" stroke-width="1.00"/>
<line x1="276.50" y1="427.90" x2="276.50" y2="431.50" stroke="#111" stroke-width="1.00"/>
<line x1="300.90" y1="427.90" x2="300.90" y2="431.50" stroke="#111" stroke-width="1.00"/>
<line x1="325.30" y1="427.90" x2="325.30" y2="431.50" stroke="#111" stroke-width="1.00"/>
<text x="227.70" y="444.50" font-size="10.00" text-anchor="middle" fill="#379a3c" font-style="italic">WT</text>
<text x="252.10" y="444.50" font-size="10.0" text-anchor="middle" fill="#f29a1e" font-style="italic">FF<tspan font-size="7.2" dy="2.8">Vav</tspan></text>
<text x="276.50" y="444.50" font-size="10.0" text-anchor="middle" fill="#e0287f" font-style="italic">FF<tspan font-size="7.2" dy="2.8">Scl</tspan></text>
<text x="300.90" y="444.50" font-size="10.00" text-anchor="middle" fill="#225a98" font-style="italic">Ki</text>
<text x="325.30" y="444.50" font-size="10.00" text-anchor="middle" fill="#c8143a" font-style="italic">E12</text>
<polygon points="249.80,347.85 250.43,349.13 251.84,349.34 250.82,350.33 251.06,351.74 249.80,351.07 248.54,351.74 248.78,350.33 247.76,349.34 249.17,349.13" fill="#d8963a"/>
<polygon points="254.40,347.85 255.03,349.13 256.44,349.34 255.42,350.33 255.66,351.74 254.40,351.07 253.14,351.74 253.38,350.33 252.36,349.34 253.77,349.13" fill="#d8963a"/>
<polygon points="274.20,347.85 274.83,349.13 276.24,349.34 275.22,350.33 275.46,351.74 274.20,351.07 272.94,351.74 273.18,350.33 272.16,349.34 273.57,349.13" fill="#b02c6c"/>
<polygon points="278.80,347.85 279.43,349.13 280.84,349.34 279.82,350.33 280.06,351.74 278.80,351.07 277.54,351.74 277.78,350.33 276.76,349.34 278.17,349.13" fill="#b02c6c"/>
<circle cx="400.60" cy="385.60" r="1.75" fill="none" stroke="#379a3c" stroke-width="1.15"/>
<circle cx="400.60" cy="404.00" r="1.75" fill="none" stroke="#379a3c" stroke-width="1.15"/>
<circle cx="403.00" cy="391.73" r="1.75" fill="none" stroke="#379a3c" stroke-width="1.15"/>
<circle cx="406.60" cy="391.45" r="1.75" fill="none" stroke="#379a3c" stroke-width="1.15"/>
<circle cx="400.60" cy="394.67" r="1.75" fill="none" stroke="#379a3c" stroke-width="1.15"/>
<circle cx="397.00" cy="398.18" r="1.75" fill="none" stroke="#379a3c" stroke-width="1.15"/>
<circle cx="400.60" cy="398.34" r="1.75" fill="none" stroke="#379a3c" stroke-width="1.15"/>
<circle cx="406.60" cy="394.39" r="1.75" fill="none" stroke="#379a3c" stroke-width="1.15"/>
<circle cx="404.20" cy="395.30" r="1.75" fill="none" stroke="#379a3c" stroke-width="1.15"/>
<circle cx="404.20" cy="385.70" r="1.75" fill="none" stroke="#379a3c" stroke-width="1.15"/>
<circle cx="397.00" cy="386.07" r="1.75" fill="none" stroke="#379a3c" stroke-width="1.15"/>
<circle cx="394.60" cy="393.28" r="1.75" fill="none" stroke="#379a3c" stroke-width="1.15"/>
<circle cx="397.00" cy="390.55" r="1.75" fill="none" stroke="#379a3c" stroke-width="1.15"/>
<circle cx="398.20" cy="393.95" r="1.75" fill="none" stroke="#379a3c" stroke-width="1.15"/>
<circle cx="400.60" cy="389.16" r="1.75" fill="none" stroke="#379a3c" stroke-width="1.15"/>
<circle cx="394.60" cy="390.14" r="1.75" fill="none" stroke="#379a3c" stroke-width="1.15"/>
<circle cx="403.00" cy="407.00" r="1.75" fill="none" stroke="#379a3c" stroke-width="1.15"/>
<circle cx="400.60" cy="413.00" r="1.75" fill="none" stroke="#379a3c" stroke-width="1.15"/>
<circle cx="428.20" cy="391.00" r="1.75" fill="none" stroke="#f29a1e" stroke-width="1.15"/>
<circle cx="424.60" cy="404.00" r="1.75" fill="none" stroke="#f29a1e" stroke-width="1.15"/>
<circle cx="418.60" cy="391.78" r="1.75" fill="none" stroke="#f29a1e" stroke-width="1.15"/>
<circle cx="424.60" cy="400.35" r="1.75" fill="none" stroke="#f29a1e" stroke-width="1.15"/>
<circle cx="424.60" cy="396.13" r="1.75" fill="none" stroke="#f29a1e" stroke-width="1.15"/>
<circle cx="421.00" cy="392.35" r="1.75" fill="none" stroke="#f29a1e" stroke-width="1.15"/>
<circle cx="430.60" cy="397.30" r="1.75" fill="none" stroke="#f29a1e" stroke-width="1.15"/>
<circle cx="418.60" cy="401.09" r="1.75" fill="none" stroke="#f29a1e" stroke-width="1.15"/>
<circle cx="424.60" cy="392.46" r="1.75" fill="none" stroke="#f29a1e" stroke-width="1.15"/>
<circle cx="421.00" cy="398.70" r="1.75" fill="none" stroke="#f29a1e" stroke-width="1.15"/>
<circle cx="430.60" cy="392.74" r="1.75" fill="none" stroke="#f29a1e" stroke-width="1.15"/>
<circle cx="428.20" cy="400.22" r="1.75" fill="none" stroke="#f29a1e" stroke-width="1.15"/>
<circle cx="424.60" cy="413.00" r="1.75" fill="none" stroke="#f29a1e" stroke-width="1.15"/>
<circle cx="428.20" cy="413.20" r="1.75" fill="none" stroke="#f29a1e" stroke-width="1.15"/>
<circle cx="453.40" cy="366.00" r="1.75" fill="none" stroke="#e0287f" stroke-width="1.15"/>
<circle cx="448.60" cy="377.50" r="1.75" fill="none" stroke="#e0287f" stroke-width="1.15"/>
<circle cx="446.20" cy="369.14" r="1.75" fill="none" stroke="#e0287f" stroke-width="1.15"/>
<circle cx="454.60" cy="370.90" r="1.75" fill="none" stroke="#e0287f" stroke-width="1.15"/>
<circle cx="446.20" cy="371.92" r="1.75" fill="none" stroke="#e0287f" stroke-width="1.15"/>
<circle cx="442.60" cy="368.95" r="1.75" fill="none" stroke="#e0287f" stroke-width="1.15"/>
<circle cx="451.00" cy="368.85" r="1.75" fill="none" stroke="#e0287f" stroke-width="1.15"/>
<circle cx="449.80" cy="368.09" r="1.75" fill="none" stroke="#e0287f" stroke-width="1.15"/>
<circle cx="453.40" cy="369.45" r="1.75" fill="none" stroke="#e0287f" stroke-width="1.15"/>
<circle cx="448.60" cy="372.25" r="1.75" fill="none" stroke="#e0287f" stroke-width="1.15"/>
<circle cx="451.00" cy="374.78" r="1.75" fill="none" stroke="#e0287f" stroke-width="1.15"/>
<circle cx="453.40" cy="372.00" r="1.75" fill="none" stroke="#e0287f" stroke-width="1.15"/>
<circle cx="442.60" cy="371.42" r="1.75" fill="none" stroke="#e0287f" stroke-width="1.15"/>
<circle cx="448.60" cy="369.78" r="1.75" fill="none" stroke="#e0287f" stroke-width="1.15"/>
<circle cx="445.00" cy="372.83" r="1.75" fill="none" stroke="#e0287f" stroke-width="1.15"/>
<circle cx="452.20" cy="371.07" r="1.75" fill="none" stroke="#e0287f" stroke-width="1.15"/>
<circle cx="472.60" cy="359.00" r="1.75" fill="none" stroke="#225a98" stroke-width="1.15"/>
<circle cx="472.60" cy="376.00" r="1.75" fill="none" stroke="#225a98" stroke-width="1.15"/>
<circle cx="470.20" cy="372.85" r="1.75" fill="none" stroke="#225a98" stroke-width="1.15"/>
<circle cx="472.60" cy="363.30" r="1.75" fill="none" stroke="#225a98" stroke-width="1.15"/>
<circle cx="469.00" cy="371.10" r="1.75" fill="none" stroke="#225a98" stroke-width="1.15"/>
<circle cx="476.20" cy="364.72" r="1.75" fill="none" stroke="#225a98" stroke-width="1.15"/>
<circle cx="478.60" cy="371.56" r="1.75" fill="none" stroke="#225a98" stroke-width="1.15"/>
<circle cx="478.60" cy="375.34" r="1.75" fill="none" stroke="#225a98" stroke-width="1.15"/>
<circle cx="476.20" cy="373.67" r="1.75" fill="none" stroke="#225a98" stroke-width="1.15"/>
<circle cx="472.60" cy="369.55" r="1.75" fill="none" stroke="#225a98" stroke-width="1.15"/>
<circle cx="466.60" cy="368.37" r="1.75" fill="none" stroke="#225a98" stroke-width="1.15"/>
<circle cx="473.80" cy="372.34" r="1.75" fill="none" stroke="#225a98" stroke-width="1.15"/>
<circle cx="466.60" cy="364.41" r="1.75" fill="none" stroke="#225a98" stroke-width="1.15"/>
<circle cx="476.20" cy="370.24" r="1.75" fill="none" stroke="#225a98" stroke-width="1.15"/>
<circle cx="466.60" cy="371.56" r="1.75" fill="none" stroke="#225a98" stroke-width="1.15"/>
<circle cx="467.80" cy="370.08" r="1.75" fill="none" stroke="#225a98" stroke-width="1.15"/>
<circle cx="467.80" cy="374.16" r="1.75" fill="none" stroke="#225a98" stroke-width="1.15"/>
<circle cx="470.20" cy="366.42" r="1.75" fill="none" stroke="#225a98" stroke-width="1.15"/>
<circle cx="500.20" cy="356.30" r="1.75" fill="none" stroke="#c8143a" stroke-width="1.15"/>
<circle cx="500.20" cy="377.50" r="1.75" fill="none" stroke="#c8143a" stroke-width="1.15"/>
<circle cx="490.60" cy="362.22" r="1.75" fill="none" stroke="#c8143a" stroke-width="1.15"/>
<circle cx="502.60" cy="362.26" r="1.75" fill="none" stroke="#c8143a" stroke-width="1.15"/>
<circle cx="493.00" cy="366.71" r="1.75" fill="none" stroke="#c8143a" stroke-width="1.15"/>
<circle cx="500.20" cy="361.96" r="1.75" fill="none" stroke="#c8143a" stroke-width="1.15"/>
<circle cx="494.20" cy="362.10" r="1.75" fill="none" stroke="#c8143a" stroke-width="1.15"/>
<circle cx="502.60" cy="369.49" r="1.75" fill="none" stroke="#c8143a" stroke-width="1.15"/>
<circle cx="493.00" cy="370.53" r="1.75" fill="none" stroke="#c8143a" stroke-width="1.15"/>
<circle cx="500.20" cy="367.88" r="1.75" fill="none" stroke="#c8143a" stroke-width="1.15"/>
<circle cx="496.60" cy="357.63" r="1.75" fill="none" stroke="#c8143a" stroke-width="1.15"/>
<circle cx="496.60" cy="376.56" r="1.75" fill="none" stroke="#c8143a" stroke-width="1.15"/>
<circle cx="493.00" cy="358.68" r="1.75" fill="none" stroke="#c8143a" stroke-width="1.15"/>
<circle cx="497.80" cy="362.96" r="1.75" fill="none" stroke="#c8143a" stroke-width="1.15"/>
<circle cx="490.60" cy="356.51" r="1.75" fill="none" stroke="#c8143a" stroke-width="1.15"/>
<circle cx="500.20" cy="359.73" r="1.75" fill="none" stroke="#c8143a" stroke-width="1.15"/>
<circle cx="500.20" cy="364.57" r="1.75" fill="none" stroke="#c8143a" stroke-width="1.15"/>
<circle cx="496.60" cy="366.20" r="1.75" fill="none" stroke="#c8143a" stroke-width="1.15"/>
<circle cx="496.60" cy="361.85" r="1.75" fill="none" stroke="#c8143a" stroke-width="1.15"/>
<circle cx="496.60" cy="371.77" r="1.75" fill="none" stroke="#c8143a" stroke-width="1.15"/>
<line x1="392.35" y1="393.30" x2="408.85" y2="393.30" stroke="#151515" stroke-width="1.60"/>
<line x1="400.60" y1="391.80" x2="400.60" y2="394.80" stroke="#111" stroke-width="1.00"/>
<line x1="397.60" y1="391.80" x2="403.60" y2="391.80" stroke="#111" stroke-width="1.00"/>
<line x1="397.60" y1="394.80" x2="403.60" y2="394.80" stroke="#111" stroke-width="1.00"/>
<line x1="416.35" y1="397.30" x2="432.85" y2="397.30" stroke="#151515" stroke-width="1.60"/>
<line x1="424.60" y1="395.30" x2="424.60" y2="399.30" stroke="#111" stroke-width="1.00"/>
<line x1="421.60" y1="395.30" x2="427.60" y2="395.30" stroke="#111" stroke-width="1.00"/>
<line x1="421.60" y1="399.30" x2="427.60" y2="399.30" stroke="#111" stroke-width="1.00"/>
<line x1="440.35" y1="372.70" x2="456.85" y2="372.70" stroke="#151515" stroke-width="1.60"/>
<line x1="448.60" y1="371.70" x2="448.60" y2="373.70" stroke="#111" stroke-width="1.00"/>
<line x1="445.60" y1="371.70" x2="451.60" y2="371.70" stroke="#111" stroke-width="1.00"/>
<line x1="445.60" y1="373.70" x2="451.60" y2="373.70" stroke="#111" stroke-width="1.00"/>
<line x1="464.35" y1="366.00" x2="480.85" y2="366.00" stroke="#151515" stroke-width="1.60"/>
<line x1="472.60" y1="365.00" x2="472.60" y2="367.00" stroke="#111" stroke-width="1.00"/>
<line x1="469.60" y1="365.00" x2="475.60" y2="365.00" stroke="#111" stroke-width="1.00"/>
<line x1="469.60" y1="367.00" x2="475.60" y2="367.00" stroke="#111" stroke-width="1.00"/>
<line x1="488.35" y1="364.00" x2="504.85" y2="364.00" stroke="#151515" stroke-width="1.60"/>
<line x1="496.60" y1="363.00" x2="496.60" y2="365.00" stroke="#111" stroke-width="1.00"/>
<line x1="493.60" y1="363.00" x2="499.60" y2="363.00" stroke="#111" stroke-width="1.00"/>
<line x1="493.60" y1="365.00" x2="499.60" y2="365.00" stroke="#111" stroke-width="1.00"/>
<line x1="386.20" y1="350.00" x2="386.20" y2="428.50" stroke="#111" stroke-width="1.35"/>
<line x1="382.40" y1="353.50" x2="386.20" y2="353.50" stroke="#111" stroke-width="1.00"/>
<text x="378.40" y="357.00" font-size="10.00" text-anchor="end" fill="#2a2a2a" stroke="#2a2a2a" stroke-width="0.2">10</text>
<line x1="382.40" y1="368.40" x2="386.20" y2="368.40" stroke="#111" stroke-width="1.00"/>
<text x="378.40" y="371.90" font-size="10.00" text-anchor="end" fill="#2a2a2a" stroke="#2a2a2a" stroke-width="0.2">1</text>
<line x1="382.40" y1="383.30" x2="386.20" y2="383.30" stroke="#111" stroke-width="1.00"/>
<text x="378.40" y="386.80" font-size="10.00" text-anchor="end" fill="#2a2a2a" stroke="#2a2a2a" stroke-width="0.2">.1</text>
<line x1="382.40" y1="398.20" x2="386.20" y2="398.20" stroke="#111" stroke-width="1.00"/>
<text x="378.40" y="401.70" font-size="10.00" text-anchor="end" fill="#2a2a2a" stroke="#2a2a2a" stroke-width="0.2">.01</text>
<line x1="382.40" y1="413.10" x2="386.20" y2="413.10" stroke="#111" stroke-width="1.00"/>
<text x="378.40" y="416.60" font-size="10.00" text-anchor="end" fill="#2a2a2a" stroke="#2a2a2a" stroke-width="0.2">.001</text>
<line x1="382.40" y1="427.90" x2="386.20" y2="427.90" stroke="#111" stroke-width="1.00"/>
<text x="378.40" y="431.40" font-size="10.00" text-anchor="end" fill="#2a2a2a" stroke="#2a2a2a" stroke-width="0.2">.0001</text>
<line x1="384.00" y1="420.46" x2="386.20" y2="420.46" stroke="#111" stroke-width="1.00"/>
<line x1="384.00" y1="405.58" x2="386.20" y2="405.58" stroke="#111" stroke-width="1.00"/>
<line x1="384.00" y1="390.70" x2="386.20" y2="390.70" stroke="#111" stroke-width="1.00"/>
<line x1="384.00" y1="375.82" x2="386.20" y2="375.82" stroke="#111" stroke-width="1.00"/>
<line x1="384.00" y1="360.94" x2="386.20" y2="360.94" stroke="#111" stroke-width="1.00"/>
<line x1="385.60" y1="427.90" x2="510.40" y2="427.90" stroke="#111" stroke-width="1.35"/>
<line x1="400.60" y1="427.90" x2="400.60" y2="431.50" stroke="#111" stroke-width="1.00"/>
<line x1="424.60" y1="427.90" x2="424.60" y2="431.50" stroke="#111" stroke-width="1.00"/>
<line x1="448.60" y1="427.90" x2="448.60" y2="431.50" stroke="#111" stroke-width="1.00"/>
<line x1="472.60" y1="427.90" x2="472.60" y2="431.50" stroke="#111" stroke-width="1.00"/>
<line x1="496.60" y1="427.90" x2="496.60" y2="431.50" stroke="#111" stroke-width="1.00"/>
<text x="400.60" y="444.50" font-size="10.00" text-anchor="middle" fill="#379a3c" font-style="italic">WT</text>
<text x="424.60" y="444.50" font-size="10.0" text-anchor="middle" fill="#f29a1e" font-style="italic">FF<tspan font-size="7.2" dy="2.8">Vav</tspan></text>
<text x="448.60" y="444.50" font-size="10.0" text-anchor="middle" fill="#e0287f" font-style="italic">FF<tspan font-size="7.2" dy="2.8">Scl</tspan></text>
<text x="472.60" y="444.50" font-size="10.00" text-anchor="middle" fill="#225a98" font-style="italic">Ki</text>
<text x="496.60" y="444.50" font-size="10.00" text-anchor="middle" fill="#c8143a" font-style="italic">E12</text>
<polygon points="446.30,347.05 446.93,348.33 448.34,348.54 447.32,349.53 447.56,350.94 446.30,350.27 445.04,350.94 445.28,349.53 444.26,348.54 445.67,348.33" fill="#b02c6c"/>
<polygon points="450.90,347.05 451.53,348.33 452.94,348.54 451.92,349.53 452.16,350.94 450.90,350.27 449.64,350.94 449.88,349.53 448.86,348.54 450.27,348.33" fill="#b02c6c"/>
<polygon points="465.70,347.05 466.33,348.33 467.74,348.54 466.72,349.53 466.96,350.94 465.70,350.27 464.44,350.94 464.68,349.53 463.66,348.54 465.07,348.33" fill="#2a4c7c"/>
<polygon points="470.30,347.05 470.93,348.33 472.34,348.54 471.32,349.53 471.56,350.94 470.30,350.27 469.04,350.94 469.28,349.53 468.26,348.54 469.67,348.33" fill="#2a4c7c"/>
<polygon points="474.90,347.05 475.53,348.33 476.94,348.54 475.92,349.53 476.16,350.94 474.90,350.27 473.64,350.94 473.88,349.53 472.86,348.54 474.27,348.33" fill="#2a4c7c"/>
<polygon points="479.50,347.05 480.13,348.33 481.54,348.54 480.52,349.53 480.76,350.94 479.50,350.27 478.24,350.94 478.48,349.53 477.46,348.54 478.87,348.33" fill="#2a4c7c"/>
<polygon points="489.70,347.05 490.33,348.33 491.74,348.54 490.72,349.53 490.96,350.94 489.70,350.27 488.44,350.94 488.68,349.53 487.66,348.54 489.07,348.33" fill="#a3203c"/>
<polygon points="494.30,347.05 494.93,348.33 496.34,348.54 495.32,349.53 495.56,350.94 494.30,350.27 493.04,350.94 493.28,349.53 492.26,348.54 493.67,348.33" fill="#a3203c"/>
<polygon points="498.90,347.05 499.53,348.33 500.94,348.54 499.92,349.53 500.16,350.94 498.90,350.27 497.64,350.94 497.88,349.53 496.86,348.54 498.27,348.33" fill="#a3203c"/>
<polygon points="503.50,347.05 504.13,348.33 505.54,348.54 504.52,349.53 504.76,350.94 503.50,350.27 502.24,350.94 502.48,349.53 501.46,348.54 502.87,348.33" fill="#a3203c"/>
<rect x="51.20" y="517.10" width="122.80" height="13.10" fill="#d9d9d9"/>
<circle cx="64.40" cy="507.00" r="1.75" fill="none" stroke="#379a3c" stroke-width="1.15"/>
<circle cx="64.40" cy="539.40" r="1.75" fill="none" stroke="#379a3c" stroke-width="1.15"/>
<circle cx="64.40" cy="530.51" r="1.75" fill="none" stroke="#379a3c" stroke-width="1.15"/>
<circle cx="60.80" cy="516.86" r="1.75" fill="none" stroke="#379a3c" stroke-width="1.15"/>
<circle cx="70.40" cy="521.11" r="1.75" fill="none" stroke="#379a3c" stroke-width="1.15"/>
<circle cx="58.40" cy="523.99" r="1.75" fill="none" stroke="#379a3c" stroke-width="1.15"/>
<circle cx="68.00" cy="528.41" r="1.75" fill="none" stroke="#379a3c" stroke-width="1.15"/>
<circle cx="60.80" cy="520.38" r="1.75" fill="none" stroke="#379a3c" stroke-width="1.15"/>
<circle cx="68.00" cy="523.64" r="1.75" fill="none" stroke="#379a3c" stroke-width="1.15"/>
<circle cx="68.00" cy="518.58" r="1.75" fill="none" stroke="#379a3c" stroke-width="1.15"/>
<circle cx="63.20" cy="524.53" r="1.75" fill="none" stroke="#379a3c" stroke-width="1.15"/>
<circle cx="64.40" cy="512.95" r="1.75" fill="none" stroke="#379a3c" stroke-width="1.15"/>
<circle cx="60.80" cy="524.07" r="1.75" fill="none" stroke="#379a3c" stroke-width="1.15"/>
<circle cx="58.40" cy="519.09" r="1.75" fill="none" stroke="#379a3c" stroke-width="1.15"/>
<circle cx="70.40" cy="524.22" r="1.75" fill="none" stroke="#379a3c" stroke-width="1.15"/>
<circle cx="70.40" cy="512.16" r="1.75" fill="none" stroke="#379a3c" stroke-width="1.15"/>
<circle cx="65.60" cy="525.81" r="1.75" fill="none" stroke="#379a3c" stroke-width="1.15"/>
<circle cx="68.00" cy="514.75" r="1.75" fill="none" stroke="#379a3c" stroke-width="1.15"/>
<circle cx="68.00" cy="508.64" r="1.75" fill="none" stroke="#379a3c" stroke-width="1.15"/>
<circle cx="64.40" cy="516.87" r="1.75" fill="none" stroke="#379a3c" stroke-width="1.15"/>
<circle cx="60.80" cy="530.13" r="1.75" fill="none" stroke="#379a3c" stroke-width="1.15"/>
<circle cx="59.60" cy="526.96" r="1.75" fill="none" stroke="#379a3c" stroke-width="1.15"/>
<circle cx="64.40" cy="522.63" r="1.75" fill="none" stroke="#379a3c" stroke-width="1.15"/>
<circle cx="58.40" cy="515.16" r="1.75" fill="none" stroke="#379a3c" stroke-width="1.15"/>
<circle cx="60.80" cy="513.79" r="1.75" fill="none" stroke="#379a3c" stroke-width="1.15"/>
<circle cx="64.40" cy="535.65" r="1.75" fill="none" stroke="#379a3c" stroke-width="1.15"/>
<circle cx="92.00" cy="494.60" r="1.75" fill="none" stroke="#f29a1e" stroke-width="1.15"/>
<circle cx="88.40" cy="520.60" r="1.75" fill="none" stroke="#f29a1e" stroke-width="1.15"/>
<circle cx="86.00" cy="510.41" r="1.75" fill="none" stroke="#f29a1e" stroke-width="1.15"/>
<circle cx="88.40" cy="511.44" r="1.75" fill="none" stroke="#f29a1e" stroke-width="1.15"/>
<circle cx="88.40" cy="507.74" r="1.75" fill="none" stroke="#f29a1e" stroke-width="1.15"/>
<circle cx="88.40" cy="500.63" r="1.75" fill="none" stroke="#f29a1e" stroke-width="1.15"/>
<circle cx="94.40" cy="512.45" r="1.75" fill="none" stroke="#f29a1e" stroke-width="1.15"/>
<circle cx="88.40" cy="495.35" r="1.75" fill="none" stroke="#f29a1e" stroke-width="1.15"/>
<circle cx="82.40" cy="510.44" r="1.75" fill="none" stroke="#f29a1e" stroke-width="1.15"/>
<circle cx="92.00" cy="501.04" r="1.75" fill="none" stroke="#f29a1e" stroke-width="1.15"/>
<circle cx="84.80" cy="508.22" r="1.75" fill="none" stroke="#f29a1e" stroke-width="1.15"/>
<circle cx="90.80" cy="513.85" r="1.75" fill="none" stroke="#f29a1e" stroke-width="1.15"/>
<circle cx="94.40" cy="509.28" r="1.75" fill="none" stroke="#f29a1e" stroke-width="1.15"/>
<circle cx="92.00" cy="508.99" r="1.75" fill="none" stroke="#f29a1e" stroke-width="1.15"/>
<circle cx="90.80" cy="504.93" r="1.75" fill="none" stroke="#f29a1e" stroke-width="1.15"/>
<circle cx="84.80" cy="502.13" r="1.75" fill="none" stroke="#f29a1e" stroke-width="1.15"/>
<circle cx="114.80" cy="508.01" r="1.75" fill="none" stroke="#e0287f" stroke-width="1.15"/>
<circle cx="118.40" cy="509.40" r="1.75" fill="none" stroke="#e0287f" stroke-width="1.15"/>
<circle cx="112.40" cy="510.79" r="1.75" fill="none" stroke="#e0287f" stroke-width="1.15"/>
<circle cx="108.80" cy="512.17" r="1.75" fill="none" stroke="#e0287f" stroke-width="1.15"/>
<circle cx="118.40" cy="513.10" r="1.75" fill="none" stroke="#e0287f" stroke-width="1.15"/>
<circle cx="114.80" cy="513.56" r="1.75" fill="none" stroke="#e0287f" stroke-width="1.15"/>
<circle cx="116.00" cy="524.20" r="1.75" fill="none" stroke="#e0287f" stroke-width="1.15"/>
<circle cx="112.40" cy="526.05" r="1.75" fill="none" stroke="#e0287f" stroke-width="1.15"/>
<circle cx="116.00" cy="527.90" r="1.75" fill="none" stroke="#e0287f" stroke-width="1.15"/>
<circle cx="112.40" cy="529.75" r="1.75" fill="none" stroke="#e0287f" stroke-width="1.15"/>
<circle cx="111.20" cy="535.30" r="1.75" fill="none" stroke="#e0287f" stroke-width="1.15"/>
<circle cx="114.80" cy="537.15" r="1.75" fill="none" stroke="#e0287f" stroke-width="1.15"/>
<circle cx="108.80" cy="538.07" r="1.75" fill="none" stroke="#e0287f" stroke-width="1.15"/>
<circle cx="112.40" cy="539.92" r="1.75" fill="none" stroke="#e0287f" stroke-width="1.15"/>
<circle cx="116.00" cy="540.85" r="1.75" fill="none" stroke="#e0287f" stroke-width="1.15"/>
<circle cx="108.80" cy="542.70" r="1.75" fill="none" stroke="#e0287f" stroke-width="1.15"/>
<circle cx="112.40" cy="544.55" r="1.75" fill="none" stroke="#e0287f" stroke-width="1.15"/>
<circle cx="116.00" cy="546.40" r="1.75" fill="none" stroke="#e0287f" stroke-width="1.15"/>
<circle cx="112.40" cy="548.25" r="1.75" fill="none" stroke="#e0287f" stroke-width="1.15"/>
<circle cx="112.40" cy="553.34" r="1.75" fill="none" stroke="#e0287f" stroke-width="1.15"/>
<circle cx="136.40" cy="518.70" r="1.75" fill="none" stroke="#225a98" stroke-width="1.15"/>
<circle cx="132.80" cy="546.50" r="1.75" fill="none" stroke="#225a98" stroke-width="1.15"/>
<circle cx="136.40" cy="544.24" r="1.75" fill="none" stroke="#225a98" stroke-width="1.15"/>
<circle cx="142.40" cy="535.02" r="1.75" fill="none" stroke="#225a98" stroke-width="1.15"/>
<circle cx="142.40" cy="537.98" r="1.75" fill="none" stroke="#225a98" stroke-width="1.15"/>
<circle cx="136.40" cy="538.78" r="1.75" fill="none" stroke="#225a98" stroke-width="1.15"/>
<circle cx="140.00" cy="529.89" r="1.75" fill="none" stroke="#225a98" stroke-width="1.15"/>
<circle cx="140.00" cy="518.80" r="1.75" fill="none" stroke="#225a98" stroke-width="1.15"/>
<circle cx="132.80" cy="534.51" r="1.75" fill="none" stroke="#225a98" stroke-width="1.15"/>
<circle cx="131.60" cy="535.57" r="1.75" fill="none" stroke="#225a98" stroke-width="1.15"/>
<circle cx="140.00" cy="543.60" r="1.75" fill="none" stroke="#225a98" stroke-width="1.15"/>
<circle cx="135.20" cy="534.98" r="1.75" fill="none" stroke="#225a98" stroke-width="1.15"/>
<circle cx="132.80" cy="525.63" r="1.75" fill="none" stroke="#225a98" stroke-width="1.15"/>
<circle cx="140.00" cy="524.32" r="1.75" fill="none" stroke="#225a98" stroke-width="1.15"/>
<circle cx="138.80" cy="533.83" r="1.75" fill="none" stroke="#225a98" stroke-width="1.15"/>
<circle cx="140.00" cy="539.73" r="1.75" fill="none" stroke="#225a98" stroke-width="1.15"/>
<circle cx="132.80" cy="521.83" r="1.75" fill="none" stroke="#225a98" stroke-width="1.15"/>
<circle cx="136.40" cy="523.22" r="1.75" fill="none" stroke="#225a98" stroke-width="1.15"/>
<circle cx="132.80" cy="539.37" r="1.75" fill="none" stroke="#225a98" stroke-width="1.15"/>
<circle cx="136.40" cy="531.32" r="1.75" fill="none" stroke="#225a98" stroke-width="1.15"/>
<circle cx="160.40" cy="532.00" r="1.75" fill="none" stroke="#c8143a" stroke-width="1.15"/>
<circle cx="156.80" cy="553.30" r="1.75" fill="none" stroke="#c8143a" stroke-width="1.15"/>
<circle cx="166.40" cy="540.73" r="1.75" fill="none" stroke="#c8143a" stroke-width="1.15"/>
<circle cx="164.00" cy="552.37" r="1.75" fill="none" stroke="#c8143a" stroke-width="1.15"/>
<circle cx="160.40" cy="544.05" r="1.75" fill="none" stroke="#c8143a" stroke-width="1.15"/>
<circle cx="158.00" cy="543.47" r="1.75" fill="none" stroke="#c8143a" stroke-width="1.15"/>
<circle cx="160.40" cy="552.61" r="1.75" fill="none" stroke="#c8143a" stroke-width="1.15"/>
<circle cx="166.40" cy="543.73" r="1.75" fill="none" stroke="#c8143a" stroke-width="1.15"/>
<circle cx="155.60" cy="544.75" r="1.75" fill="none" stroke="#c8143a" stroke-width="1.15"/>
<circle cx="165.20" cy="544.41" r="1.75" fill="none" stroke="#c8143a" stroke-width="1.15"/>
<circle cx="156.80" cy="533.75" r="1.75" fill="none" stroke="#c8143a" stroke-width="1.15"/>
<circle cx="166.40" cy="548.89" r="1.75" fill="none" stroke="#c8143a" stroke-width="1.15"/>
<circle cx="154.40" cy="535.46" r="1.75" fill="none" stroke="#c8143a" stroke-width="1.15"/>
<circle cx="155.60" cy="550.19" r="1.75" fill="none" stroke="#c8143a" stroke-width="1.15"/>
<circle cx="158.00" cy="547.21" r="1.75" fill="none" stroke="#c8143a" stroke-width="1.15"/>
<circle cx="161.60" cy="541.33" r="1.75" fill="none" stroke="#c8143a" stroke-width="1.15"/>
<circle cx="160.40" cy="536.64" r="1.75" fill="none" stroke="#c8143a" stroke-width="1.15"/>
<circle cx="162.80" cy="547.13" r="1.75" fill="none" stroke="#c8143a" stroke-width="1.15"/>
<circle cx="154.40" cy="541.13" r="1.75" fill="none" stroke="#c8143a" stroke-width="1.15"/>
<circle cx="166.40" cy="552.17" r="1.75" fill="none" stroke="#c8143a" stroke-width="1.15"/>
<circle cx="158.00" cy="540.91" r="1.75" fill="none" stroke="#c8143a" stroke-width="1.15"/>
<circle cx="162.80" cy="544.02" r="1.75" fill="none" stroke="#c8143a" stroke-width="1.15"/>
<circle cx="164.00" cy="543.07" r="1.75" fill="none" stroke="#c8143a" stroke-width="1.15"/>
<circle cx="164.00" cy="536.63" r="1.75" fill="none" stroke="#c8143a" stroke-width="1.15"/>
<line x1="56.15" y1="523.50" x2="72.65" y2="523.50" stroke="#151515" stroke-width="1.60"/>
<line x1="64.40" y1="522.00" x2="64.40" y2="525.00" stroke="#111" stroke-width="1.00"/>
<line x1="61.40" y1="522.00" x2="67.40" y2="522.00" stroke="#111" stroke-width="1.00"/>
<line x1="61.40" y1="525.00" x2="67.40" y2="525.00" stroke="#111" stroke-width="1.00"/>
<line x1="80.15" y1="505.80" x2="96.65" y2="505.80" stroke="#151515" stroke-width="1.60"/>
<line x1="88.40" y1="503.80" x2="88.40" y2="507.80" stroke="#111" stroke-width="1.00"/>
<line x1="85.40" y1="503.80" x2="91.40" y2="503.80" stroke="#111" stroke-width="1.00"/>
<line x1="85.40" y1="507.80" x2="91.40" y2="507.80" stroke="#111" stroke-width="1.00"/>
<line x1="104.15" y1="531.23" x2="120.65" y2="531.23" stroke="#151515" stroke-width="1.60"/>
<line x1="112.40" y1="527.23" x2="112.40" y2="535.23" stroke="#111" stroke-width="1.00"/>
<line x1="109.40" y1="527.23" x2="115.40" y2="527.23" stroke="#111" stroke-width="1.00"/>
<line x1="109.40" y1="535.23" x2="115.40" y2="535.23" stroke="#111" stroke-width="1.00"/>
<line x1="128.15" y1="533.70" x2="144.65" y2="533.70" stroke="#151515" stroke-width="1.60"/>
<line x1="136.40" y1="531.90" x2="136.40" y2="535.50" stroke="#111" stroke-width="1.00"/>
<line x1="133.40" y1="531.90" x2="139.40" y2="531.90" stroke="#111" stroke-width="1.00"/>
<line x1="133.40" y1="535.50" x2="139.40" y2="535.50" stroke="#111" stroke-width="1.00"/>
<line x1="152.15" y1="543.00" x2="168.65" y2="543.00" stroke="#151515" stroke-width="1.60"/>
<line x1="160.40" y1="541.50" x2="160.40" y2="544.50" stroke="#111" stroke-width="1.00"/>
<line x1="157.40" y1="541.50" x2="163.40" y2="541.50" stroke="#111" stroke-width="1.00"/>
<line x1="157.40" y1="544.50" x2="163.40" y2="544.50" stroke="#111" stroke-width="1.00"/>
<line x1="50.60" y1="476.00" x2="50.60" y2="554.40" stroke="#111" stroke-width="1.35"/>
<line x1="46.80" y1="553.80" x2="50.60" y2="553.80" stroke="#111" stroke-width="1.00"/>
<text x="42.80" y="557.30" font-size="10.00" text-anchor="end" fill="#2a2a2a" stroke="#2a2a2a" stroke-width="0.2">0</text>
<line x1="46.80" y1="535.30" x2="50.60" y2="535.30" stroke="#111" stroke-width="1.00"/>
<text x="42.80" y="538.80" font-size="10.00" text-anchor="end" fill="#2a2a2a" stroke="#2a2a2a" stroke-width="0.2">20</text>
<line x1="46.80" y1="516.80" x2="50.60" y2="516.80" stroke="#111" stroke-width="1.00"/>
<text x="42.80" y="520.30" font-size="10.00" text-anchor="end" fill="#2a2a2a" stroke="#2a2a2a" stroke-width="0.2">40</text>
<line x1="46.80" y1="498.30" x2="50.60" y2="498.30" stroke="#111" stroke-width="1.00"/>
<text x="42.80" y="501.80" font-size="10.00" text-anchor="end" fill="#2a2a2a" stroke="#2a2a2a" stroke-width="0.2">60</text>
<line x1="46.80" y1="479.80" x2="50.60" y2="479.80" stroke="#111" stroke-width="1.00"/>
<text x="42.80" y="483.30" font-size="10.00" text-anchor="end" fill="#2a2a2a" stroke="#2a2a2a" stroke-width="0.2">80</text>
<line x1="48.40" y1="544.55" x2="50.60" y2="544.55" stroke="#111" stroke-width="1.00"/>
<line x1="48.40" y1="526.05" x2="50.60" y2="526.05" stroke="#111" stroke-width="1.00"/>
<line x1="48.40" y1="507.55" x2="50.60" y2="507.55" stroke="#111" stroke-width="1.00"/>
<line x1="48.40" y1="489.05" x2="50.60" y2="489.05" stroke="#111" stroke-width="1.00"/>
<line x1="50.00" y1="553.80" x2="174.00" y2="553.80" stroke="#111" stroke-width="1.35"/>
<line x1="64.40" y1="553.80" x2="64.40" y2="557.40" stroke="#111" stroke-width="1.00"/>
<line x1="88.40" y1="553.80" x2="88.40" y2="557.40" stroke="#111" stroke-width="1.00"/>
<line x1="112.40" y1="553.80" x2="112.40" y2="557.40" stroke="#111" stroke-width="1.00"/>
<line x1="136.40" y1="553.80" x2="136.40" y2="557.40" stroke="#111" stroke-width="1.00"/>
<line x1="160.40" y1="553.80" x2="160.40" y2="557.40" stroke="#111" stroke-width="1.00"/>
<text x="64.40" y="570.40" font-size="10.00" text-anchor="middle" fill="#379a3c" font-style="italic">WT</text>
<text x="88.40" y="570.40" font-size="10.0" text-anchor="middle" fill="#f29a1e" font-style="italic">FF<tspan font-size="7.2" dy="2.8">Vav</tspan></text>
<text x="112.40" y="570.40" font-size="10.0" text-anchor="middle" fill="#e0287f" font-style="italic">FF<tspan font-size="7.2" dy="2.8">Scl</tspan></text>
<text x="136.40" y="570.40" font-size="10.00" text-anchor="middle" fill="#225a98" font-style="italic">Ki</text>
<text x="160.40" y="570.40" font-size="10.00" text-anchor="middle" fill="#c8143a" font-style="italic">E12</text>
<polygon points="81.50,479.85 82.13,481.13 83.54,481.34 82.52,482.33 82.76,483.74 81.50,483.07 80.24,483.74 80.48,482.33 79.46,481.34 80.87,481.13" fill="#d8963a"/>
<polygon points="86.10,479.85 86.73,481.13 88.14,481.34 87.12,482.33 87.36,483.74 86.10,483.07 84.84,483.74 85.08,482.33 84.06,481.34 85.47,481.13" fill="#d8963a"/>
<polygon points="90.70,479.85 91.33,481.13 92.74,481.34 91.72,482.33 91.96,483.74 90.70,483.07 89.44,483.74 89.68,482.33 88.66,481.34 90.07,481.13" fill="#d8963a"/>
<polygon points="95.30,479.85 95.93,481.13 97.34,481.34 96.32,482.33 96.56,483.74 95.30,483.07 94.04,483.74 94.28,482.33 93.26,481.34 94.67,481.13" fill="#d8963a"/>
<polygon points="153.50,479.85 154.13,481.13 155.54,481.34 154.52,482.33 154.76,483.74 153.50,483.07 152.24,483.74 152.48,482.33 151.46,481.34 152.87,481.13" fill="#a3203c"/>
<polygon points="158.10,479.85 158.73,481.13 160.14,481.34 159.12,482.33 159.36,483.74 158.10,483.07 156.84,483.74 157.08,482.33 156.06,481.34 157.47,481.13" fill="#a3203c"/>
<polygon points="162.70,479.85 163.33,481.13 164.74,481.34 163.72,482.33 163.96,483.74 162.70,483.07 161.44,483.74 161.68,482.33 160.66,481.34 162.07,481.13" fill="#a3203c"/>
<polygon points="167.30,479.85 167.93,481.13 169.34,481.34 168.32,482.33 168.56,483.74 167.30,483.07 166.04,483.74 166.28,482.33 165.26,481.34 166.67,481.13" fill="#a3203c"/>
<rect x="213.70" y="517.10" width="122.30" height="21.70" fill="#d9d9d9"/>
<circle cx="229.80" cy="512.90" r="1.75" fill="none" stroke="#379a3c" stroke-width="1.15"/>
<circle cx="226.20" cy="541.70" r="1.75" fill="none" stroke="#379a3c" stroke-width="1.15"/>
<circle cx="229.80" cy="516.35" r="1.75" fill="none" stroke="#379a3c" stroke-width="1.15"/>
<circle cx="225.00" cy="523.15" r="1.75" fill="none" stroke="#379a3c" stroke-width="1.15"/>
<circle cx="226.20" cy="538.29" r="1.75" fill="none" stroke="#379a3c" stroke-width="1.15"/>
<circle cx="232.20" cy="521.74" r="1.75" fill="none" stroke="#379a3c" stroke-width="1.15"/>
<circle cx="229.80" cy="530.60" r="1.75" fill="none" stroke="#379a3c" stroke-width="1.15"/>
<circle cx="223.80" cy="516.63" r="1.75" fill="none" stroke="#379a3c" stroke-width="1.15"/>
<circle cx="227.40" cy="516.96" r="1.75" fill="none" stroke="#379a3c" stroke-width="1.15"/>
<circle cx="220.20" cy="528.47" r="1.75" fill="none" stroke="#379a3c" stroke-width="1.15"/>
<circle cx="226.20" cy="514.74" r="1.75" fill="none" stroke="#379a3c" stroke-width="1.15"/>
<circle cx="226.20" cy="533.78" r="1.75" fill="none" stroke="#379a3c" stroke-width="1.15"/>
<circle cx="232.20" cy="515.60" r="1.75" fill="none" stroke="#379a3c" stroke-width="1.15"/>
<circle cx="226.20" cy="529.56" r="1.75" fill="none" stroke="#379a3c" stroke-width="1.15"/>
<circle cx="229.80" cy="525.45" r="1.75" fill="none" stroke="#379a3c" stroke-width="1.15"/>
<circle cx="232.20" cy="530.26" r="1.75" fill="none" stroke="#379a3c" stroke-width="1.15"/>
<circle cx="221.40" cy="515.79" r="1.75" fill="none" stroke="#379a3c" stroke-width="1.15"/>
<circle cx="220.20" cy="530.95" r="1.75" fill="none" stroke="#379a3c" stroke-width="1.15"/>
<circle cx="220.20" cy="524.11" r="1.75" fill="none" stroke="#379a3c" stroke-width="1.15"/>
<circle cx="222.60" cy="519.09" r="1.75" fill="none" stroke="#379a3c" stroke-width="1.15"/>
<circle cx="222.60" cy="530.05" r="1.75" fill="none" stroke="#379a3c" stroke-width="1.15"/>
<circle cx="222.60" cy="525.79" r="1.75" fill="none" stroke="#379a3c" stroke-width="1.15"/>
<circle cx="226.20" cy="519.21" r="1.75" fill="none" stroke="#379a3c" stroke-width="1.15"/>
<circle cx="223.80" cy="513.35" r="1.75" fill="none" stroke="#379a3c" stroke-width="1.15"/>
<circle cx="228.60" cy="528.68" r="1.75" fill="none" stroke="#379a3c" stroke-width="1.15"/>
<circle cx="228.60" cy="522.25" r="1.75" fill="none" stroke="#379a3c" stroke-width="1.15"/>
<circle cx="250.30" cy="506.00" r="1.75" fill="none" stroke="#f29a1e" stroke-width="1.15"/>
<circle cx="252.70" cy="525.40" r="1.75" fill="none" stroke="#f29a1e" stroke-width="1.15"/>
<circle cx="255.10" cy="514.09" r="1.75" fill="none" stroke="#f29a1e" stroke-width="1.15"/>
<circle cx="250.30" cy="522.60" r="1.75" fill="none" stroke="#f29a1e" stroke-width="1.15"/>
<circle cx="244.30" cy="517.61" r="1.75" fill="none" stroke="#f29a1e" stroke-width="1.15"/>
<circle cx="253.90" cy="510.84" r="1.75" fill="none" stroke="#f29a1e" stroke-width="1.15"/>
<circle cx="252.70" cy="515.62" r="1.75" fill="none" stroke="#f29a1e" stroke-width="1.15"/>
<circle cx="246.70" cy="516.11" r="1.75" fill="none" stroke="#f29a1e" stroke-width="1.15"/>
<circle cx="253.90" cy="518.83" r="1.75" fill="none" stroke="#f29a1e" stroke-width="1.15"/>
<circle cx="250.30" cy="512.05" r="1.75" fill="none" stroke="#f29a1e" stroke-width="1.15"/>
<circle cx="256.30" cy="521.20" r="1.75" fill="none" stroke="#f29a1e" stroke-width="1.15"/>
<circle cx="256.30" cy="516.69" r="1.75" fill="none" stroke="#f29a1e" stroke-width="1.15"/>
<circle cx="244.30" cy="514.54" r="1.75" fill="none" stroke="#f29a1e" stroke-width="1.15"/>
<circle cx="246.70" cy="523.08" r="1.75" fill="none" stroke="#f29a1e" stroke-width="1.15"/>
<circle cx="250.30" cy="518.41" r="1.75" fill="none" stroke="#f29a1e" stroke-width="1.15"/>
<circle cx="244.30" cy="520.86" r="1.75" fill="none" stroke="#f29a1e" stroke-width="1.15"/>
<circle cx="268.40" cy="532.34" r="1.75" fill="none" stroke="#e0287f" stroke-width="1.15"/>
<circle cx="274.40" cy="532.71" r="1.75" fill="none" stroke="#e0287f" stroke-width="1.15"/>
<circle cx="280.40" cy="533.08" r="1.75" fill="none" stroke="#e0287f" stroke-width="1.15"/>
<circle cx="272.00" cy="533.45" r="1.75" fill="none" stroke="#e0287f" stroke-width="1.15"/>
<circle cx="276.80" cy="533.82" r="1.75" fill="none" stroke="#e0287f" stroke-width="1.15"/>
<circle cx="268.40" cy="534.19" r="1.75" fill="none" stroke="#e0287f" stroke-width="1.15"/>
<circle cx="270.80" cy="534.56" r="1.75" fill="none" stroke="#e0287f" stroke-width="1.15"/>
<circle cx="279.20" cy="534.93" r="1.75" fill="none" stroke="#e0287f" stroke-width="1.15"/>
<circle cx="274.40" cy="535.30" r="1.75" fill="none" stroke="#e0287f" stroke-width="1.15"/>
<circle cx="268.40" cy="536.04" r="1.75" fill="none" stroke="#e0287f" stroke-width="1.15"/>
<circle cx="276.80" cy="537.52" r="1.75" fill="none" stroke="#e0287f" stroke-width="1.15"/>
<circle cx="270.80" cy="539.00" r="1.75" fill="none" stroke="#e0287f" stroke-width="1.15"/>
<circle cx="274.40" cy="540.48" r="1.75" fill="none" stroke="#e0287f" stroke-width="1.15"/>
<circle cx="278.00" cy="541.96" r="1.75" fill="none" stroke="#e0287f" stroke-width="1.15"/>
<circle cx="274.40" cy="543.44" r="1.75" fill="none" stroke="#e0287f" stroke-width="1.15"/>
<circle cx="270.80" cy="544.92" r="1.75" fill="none" stroke="#e0287f" stroke-width="1.15"/>
<circle cx="274.40" cy="547.14" r="1.75" fill="none" stroke="#e0287f" stroke-width="1.15"/>
<circle cx="278.00" cy="549.36" r="1.75" fill="none" stroke="#e0287f" stroke-width="1.15"/>
<circle cx="274.40" cy="551.58" r="1.75" fill="none" stroke="#e0287f" stroke-width="1.15"/>
<circle cx="278.00" cy="553.43" r="1.75" fill="none" stroke="#e0287f" stroke-width="1.15"/>
<circle cx="298.50" cy="491.64" r="1.75" fill="none" stroke="#225a98" stroke-width="1.15"/>
<circle cx="298.50" cy="523.46" r="1.75" fill="none" stroke="#225a98" stroke-width="1.15"/>
<circle cx="302.10" cy="525.68" r="1.75" fill="none" stroke="#225a98" stroke-width="1.15"/>
<circle cx="297.30" cy="527.90" r="1.75" fill="none" stroke="#225a98" stroke-width="1.15"/>
<circle cx="300.90" cy="529.38" r="1.75" fill="none" stroke="#225a98" stroke-width="1.15"/>
<circle cx="294.90" cy="530.86" r="1.75" fill="none" stroke="#225a98" stroke-width="1.15"/>
<circle cx="298.50" cy="532.34" r="1.75" fill="none" stroke="#225a98" stroke-width="1.15"/>
<circle cx="302.10" cy="533.82" r="1.75" fill="none" stroke="#225a98" stroke-width="1.15"/>
<circle cx="292.50" cy="535.30" r="1.75" fill="none" stroke="#225a98" stroke-width="1.15"/>
<circle cx="296.10" cy="536.78" r="1.75" fill="none" stroke="#225a98" stroke-width="1.15"/>
<circle cx="302.10" cy="538.26" r="1.75" fill="none" stroke="#225a98" stroke-width="1.15"/>
<circle cx="298.50" cy="539.74" r="1.75" fill="none" stroke="#225a98" stroke-width="1.15"/>
<circle cx="294.90" cy="541.22" r="1.75" fill="none" stroke="#225a98" stroke-width="1.15"/>
<circle cx="300.90" cy="542.70" r="1.75" fill="none" stroke="#225a98" stroke-width="1.15"/>
<circle cx="304.50" cy="544.18" r="1.75" fill="none" stroke="#225a98" stroke-width="1.15"/>
<circle cx="298.50" cy="545.66" r="1.75" fill="none" stroke="#225a98" stroke-width="1.15"/>
<circle cx="302.10" cy="547.14" r="1.75" fill="none" stroke="#225a98" stroke-width="1.15"/>
<circle cx="294.90" cy="548.62" r="1.75" fill="none" stroke="#225a98" stroke-width="1.15"/>
<circle cx="298.50" cy="550.10" r="1.75" fill="none" stroke="#225a98" stroke-width="1.15"/>
<circle cx="302.10" cy="552.32" r="1.75" fill="none" stroke="#225a98" stroke-width="1.15"/>
<circle cx="322.60" cy="531.60" r="1.75" fill="none" stroke="#c8143a" stroke-width="1.15"/>
<circle cx="317.80" cy="533.08" r="1.75" fill="none" stroke="#c8143a" stroke-width="1.15"/>
<circle cx="323.80" cy="533.82" r="1.75" fill="none" stroke="#c8143a" stroke-width="1.15"/>
<circle cx="326.20" cy="534.56" r="1.75" fill="none" stroke="#c8143a" stroke-width="1.15"/>
<circle cx="320.20" cy="535.30" r="1.75" fill="none" stroke="#c8143a" stroke-width="1.15"/>
<circle cx="316.60" cy="535.67" r="1.75" fill="none" stroke="#c8143a" stroke-width="1.15"/>
<circle cx="328.60" cy="536.04" r="1.75" fill="none" stroke="#c8143a" stroke-width="1.15"/>
<circle cx="322.60" cy="536.78" r="1.75" fill="none" stroke="#c8143a" stroke-width="1.15"/>
<circle cx="319.00" cy="537.52" r="1.75" fill="none" stroke="#c8143a" stroke-width="1.15"/>
<circle cx="326.20" cy="538.26" r="1.75" fill="none" stroke="#c8143a" stroke-width="1.15"/>
<circle cx="322.60" cy="544.18" r="1.75" fill="none" stroke="#c8143a" stroke-width="1.15"/>
<circle cx="328.60" cy="544.92" r="1.75" fill="none" stroke="#c8143a" stroke-width="1.15"/>
<circle cx="326.20" cy="545.66" r="1.75" fill="none" stroke="#c8143a" stroke-width="1.15"/>
<circle cx="319.00" cy="546.40" r="1.75" fill="none" stroke="#c8143a" stroke-width="1.15"/>
<circle cx="316.60" cy="546.77" r="1.75" fill="none" stroke="#c8143a" stroke-width="1.15"/>
<circle cx="328.60" cy="547.14" r="1.75" fill="none" stroke="#c8143a" stroke-width="1.15"/>
<circle cx="322.60" cy="547.88" r="1.75" fill="none" stroke="#c8143a" stroke-width="1.15"/>
<circle cx="317.80" cy="548.62" r="1.75" fill="none" stroke="#c8143a" stroke-width="1.15"/>
<circle cx="326.20" cy="549.36" r="1.75" fill="none" stroke="#c8143a" stroke-width="1.15"/>
<circle cx="319.00" cy="550.10" r="1.75" fill="none" stroke="#c8143a" stroke-width="1.15"/>
<line x1="217.95" y1="525.00" x2="234.45" y2="525.00" stroke="#151515" stroke-width="1.60"/>
<line x1="226.20" y1="523.50" x2="226.20" y2="526.50" stroke="#111" stroke-width="1.00"/>
<line x1="223.20" y1="523.50" x2="229.20" y2="523.50" stroke="#111" stroke-width="1.00"/>
<line x1="223.20" y1="526.50" x2="229.20" y2="526.50" stroke="#111" stroke-width="1.00"/>
<line x1="242.05" y1="517.30" x2="258.55" y2="517.30" stroke="#151515" stroke-width="1.60"/>
<line x1="250.30" y1="515.80" x2="250.30" y2="518.80" stroke="#111" stroke-width="1.00"/>
<line x1="247.30" y1="515.80" x2="253.30" y2="515.80" stroke="#111" stroke-width="1.00"/>
<line x1="247.30" y1="518.80" x2="253.30" y2="518.80" stroke="#111" stroke-width="1.00"/>
<line x1="266.15" y1="539.15" x2="282.65" y2="539.15" stroke="#151515" stroke-width="1.60"/>
<line x1="274.40" y1="537.65" x2="274.40" y2="540.65" stroke="#111" stroke-width="1.00"/>
<line x1="271.40" y1="537.65" x2="277.40" y2="537.65" stroke="#111" stroke-width="1.00"/>
<line x1="271.40" y1="540.65" x2="277.40" y2="540.65" stroke="#111" stroke-width="1.00"/>
<line x1="290.25" y1="537.52" x2="306.75" y2="537.52" stroke="#151515" stroke-width="1.60"/>
<line x1="298.50" y1="534.02" x2="298.50" y2="541.02" stroke="#111" stroke-width="1.00"/>
<line x1="295.50" y1="534.02" x2="301.50" y2="534.02" stroke="#111" stroke-width="1.00"/>
<line x1="295.50" y1="541.02" x2="301.50" y2="541.02" stroke="#111" stroke-width="1.00"/>
<line x1="314.35" y1="541.22" x2="330.85" y2="541.22" stroke="#151515" stroke-width="1.60"/>
<line x1="322.60" y1="539.72" x2="322.60" y2="542.72" stroke="#111" stroke-width="1.00"/>
<line x1="319.60" y1="539.72" x2="325.60" y2="539.72" stroke="#111" stroke-width="1.00"/>
<line x1="319.60" y1="542.72" x2="325.60" y2="542.72" stroke="#111" stroke-width="1.00"/>
<line x1="213.10" y1="476.00" x2="213.10" y2="554.40" stroke="#111" stroke-width="1.35"/>
<line x1="209.30" y1="553.80" x2="213.10" y2="553.80" stroke="#111" stroke-width="1.00"/>
<text x="205.30" y="557.30" font-size="10.00" text-anchor="end" fill="#2a2a2a" stroke="#2a2a2a" stroke-width="0.2">0</text>
<line x1="209.30" y1="535.30" x2="213.10" y2="535.30" stroke="#111" stroke-width="1.00"/>
<text x="205.30" y="538.80" font-size="10.00" text-anchor="end" fill="#2a2a2a" stroke="#2a2a2a" stroke-width="0.2">25</text>
<line x1="209.30" y1="516.80" x2="213.10" y2="516.80" stroke="#111" stroke-width="1.00"/>
<text x="205.30" y="520.30" font-size="10.00" text-anchor="end" fill="#2a2a2a" stroke="#2a2a2a" stroke-width="0.2">50</text>
<line x1="209.30" y1="498.30" x2="213.10" y2="498.30" stroke="#111" stroke-width="1.00"/>
<text x="205.30" y="501.80" font-size="10.00" text-anchor="end" fill="#2a2a2a" stroke="#2a2a2a" stroke-width="0.2">75</text>
<line x1="209.30" y1="479.80" x2="213.10" y2="479.80" stroke="#111" stroke-width="1.00"/>
<text x="205.30" y="483.30" font-size="10.00" text-anchor="end" fill="#2a2a2a" stroke="#2a2a2a" stroke-width="0.2">100</text>
<line x1="210.90" y1="544.55" x2="213.10" y2="544.55" stroke="#111" stroke-width="1.00"/>
<line x1="210.90" y1="526.05" x2="213.10" y2="526.05" stroke="#111" stroke-width="1.00"/>
<line x1="210.90" y1="507.55" x2="213.10" y2="507.55" stroke="#111" stroke-width="1.00"/>
<line x1="210.90" y1="489.05" x2="213.10" y2="489.05" stroke="#111" stroke-width="1.00"/>
<line x1="212.50" y1="553.80" x2="336.00" y2="553.80" stroke="#111" stroke-width="1.35"/>
<line x1="226.20" y1="553.80" x2="226.20" y2="557.40" stroke="#111" stroke-width="1.00"/>
<line x1="250.30" y1="553.80" x2="250.30" y2="557.40" stroke="#111" stroke-width="1.00"/>
<line x1="274.40" y1="553.80" x2="274.40" y2="557.40" stroke="#111" stroke-width="1.00"/>
<line x1="298.50" y1="553.80" x2="298.50" y2="557.40" stroke="#111" stroke-width="1.00"/>
<line x1="322.60" y1="553.80" x2="322.60" y2="557.40" stroke="#111" stroke-width="1.00"/>
<text x="226.20" y="570.40" font-size="10.00" text-anchor="middle" fill="#379a3c" font-style="italic">WT</text>
<text x="250.30" y="570.40" font-size="10.0" text-anchor="middle" fill="#f29a1e" font-style="italic">FF<tspan font-size="7.2" dy="2.8">Vav</tspan></text>
<text x="274.40" y="570.40" font-size="10.0" text-anchor="middle" fill="#e0287f" font-style="italic">FF<tspan font-size="7.2" dy="2.8">Scl</tspan></text>
<text x="298.50" y="570.40" font-size="10.00" text-anchor="middle" fill="#225a98" font-style="italic">Ki</text>
<text x="322.60" y="570.40" font-size="10.00" text-anchor="middle" fill="#c8143a" font-style="italic">E12</text>
<polygon points="315.70,479.85 316.33,481.13 317.74,481.34 316.72,482.33 316.96,483.74 315.70,483.07 314.44,483.74 314.68,482.33 313.66,481.34 315.07,481.13" fill="#a3203c"/>
<polygon points="320.30,479.85 320.93,481.13 322.34,481.34 321.32,482.33 321.56,483.74 320.30,483.07 319.04,483.74 319.28,482.33 318.26,481.34 319.67,481.13" fill="#a3203c"/>
<polygon points="324.90,479.85 325.53,481.13 326.94,481.34 325.92,482.33 326.16,483.74 324.90,483.07 323.64,483.74 323.88,482.33 322.86,481.34 324.27,481.13" fill="#a3203c"/>
<polygon points="329.50,479.85 330.13,481.13 331.54,481.34 330.52,482.33 330.76,483.74 329.50,483.07 328.24,483.74 328.48,482.33 327.46,481.34 328.87,481.13" fill="#a3203c"/>
<circle cx="404.40" cy="495.20" r="1.75" fill="none" stroke="#379a3c" stroke-width="1.15"/>
<circle cx="400.80" cy="520.00" r="1.75" fill="none" stroke="#379a3c" stroke-width="1.15"/>
<circle cx="403.20" cy="504.33" r="1.75" fill="none" stroke="#379a3c" stroke-width="1.15"/>
<circle cx="400.80" cy="514.25" r="1.75" fill="none" stroke="#379a3c" stroke-width="1.15"/>
<circle cx="403.20" cy="511.02" r="1.75" fill="none" stroke="#379a3c" stroke-width="1.15"/>
<circle cx="404.40" cy="517.80" r="1.75" fill="none" stroke="#379a3c" stroke-width="1.15"/>
<circle cx="397.20" cy="505.55" r="1.75" fill="none" stroke="#379a3c" stroke-width="1.15"/>
<circle cx="397.20" cy="502.43" r="1.75" fill="none" stroke="#379a3c" stroke-width="1.15"/>
<circle cx="404.40" cy="501.75" r="1.75" fill="none" stroke="#379a3c" stroke-width="1.15"/>
<circle cx="400.80" cy="502.77" r="1.75" fill="none" stroke="#379a3c" stroke-width="1.15"/>
<circle cx="406.80" cy="507.95" r="1.75" fill="none" stroke="#379a3c" stroke-width="1.15"/>
<circle cx="406.80" cy="500.71" r="1.75" fill="none" stroke="#379a3c" stroke-width="1.15"/>
<circle cx="406.80" cy="502.35" r="1.75" fill="none" stroke="#379a3c" stroke-width="1.15"/>
<circle cx="406.80" cy="503.88" r="1.75" fill="none" stroke="#379a3c" stroke-width="1.15"/>
<circle cx="397.20" cy="495.40" r="1.75" fill="none" stroke="#379a3c" stroke-width="1.15"/>
<circle cx="397.20" cy="508.15" r="1.75" fill="none" stroke="#379a3c" stroke-width="1.15"/>
<circle cx="404.40" cy="506.87" r="1.75" fill="none" stroke="#379a3c" stroke-width="1.15"/>
<circle cx="400.80" cy="507.89" r="1.75" fill="none" stroke="#379a3c" stroke-width="1.15"/>
<circle cx="398.40" cy="503.47" r="1.75" fill="none" stroke="#379a3c" stroke-width="1.15"/>
<circle cx="394.80" cy="503.20" r="1.75" fill="none" stroke="#379a3c" stroke-width="1.15"/>
<circle cx="394.80" cy="506.91" r="1.75" fill="none" stroke="#379a3c" stroke-width="1.15"/>
<circle cx="400.80" cy="496.77" r="1.75" fill="none" stroke="#379a3c" stroke-width="1.15"/>
<circle cx="400.80" cy="525.40" r="1.75" fill="none" stroke="#379a3c" stroke-width="1.15"/>
<circle cx="424.80" cy="484.60" r="1.75" fill="none" stroke="#f29a1e" stroke-width="1.15"/>
<circle cx="424.80" cy="499.40" r="1.75" fill="none" stroke="#f29a1e" stroke-width="1.15"/>
<circle cx="422.40" cy="496.32" r="1.75" fill="none" stroke="#f29a1e" stroke-width="1.15"/>
<circle cx="418.80" cy="490.88" r="1.75" fill="none" stroke="#f29a1e" stroke-width="1.15"/>
<circle cx="430.80" cy="494.31" r="1.75" fill="none" stroke="#f29a1e" stroke-width="1.15"/>
<circle cx="421.20" cy="492.92" r="1.75" fill="none" stroke="#f29a1e" stroke-width="1.15"/>
<circle cx="428.40" cy="496.27" r="1.75" fill="none" stroke="#f29a1e" stroke-width="1.15"/>
<circle cx="423.60" cy="492.07" r="1.75" fill="none" stroke="#f29a1e" stroke-width="1.15"/>
<circle cx="426.00" cy="492.91" r="1.75" fill="none" stroke="#f29a1e" stroke-width="1.15"/>
<circle cx="424.80" cy="494.73" r="1.75" fill="none" stroke="#f29a1e" stroke-width="1.15"/>
<circle cx="424.80" cy="490.24" r="1.75" fill="none" stroke="#f29a1e" stroke-width="1.15"/>
<circle cx="418.80" cy="495.45" r="1.75" fill="none" stroke="#f29a1e" stroke-width="1.15"/>
<circle cx="428.40" cy="492.47" r="1.75" fill="none" stroke="#f29a1e" stroke-width="1.15"/>
<circle cx="430.80" cy="490.12" r="1.75" fill="none" stroke="#f29a1e" stroke-width="1.15"/>
<circle cx="448.80" cy="518.70" r="1.75" fill="none" stroke="#e0287f" stroke-width="1.15"/>
<circle cx="454.80" cy="527.30" r="1.75" fill="none" stroke="#e0287f" stroke-width="1.15"/>
<circle cx="454.80" cy="521.41" r="1.75" fill="none" stroke="#e0287f" stroke-width="1.15"/>
<circle cx="454.80" cy="523.62" r="1.75" fill="none" stroke="#e0287f" stroke-width="1.15"/>
<circle cx="445.20" cy="524.47" r="1.75" fill="none" stroke="#e0287f" stroke-width="1.15"/>
<circle cx="446.40" cy="522.83" r="1.75" fill="none" stroke="#e0287f" stroke-width="1.15"/>
<circle cx="452.40" cy="524.31" r="1.75" fill="none" stroke="#e0287f" stroke-width="1.15"/>
<circle cx="448.80" cy="523.39" r="1.75" fill="none" stroke="#e0287f" stroke-width="1.15"/>
<circle cx="446.40" cy="526.30" r="1.75" fill="none" stroke="#e0287f" stroke-width="1.15"/>
<circle cx="445.20" cy="521.33" r="1.75" fill="none" stroke="#e0287f" stroke-width="1.15"/>
<circle cx="442.80" cy="524.16" r="1.75" fill="none" stroke="#e0287f" stroke-width="1.15"/>
<circle cx="450.00" cy="526.14" r="1.75" fill="none" stroke="#e0287f" stroke-width="1.15"/>
<circle cx="472.80" cy="522.50" r="1.75" fill="none" stroke="#225a98" stroke-width="1.15"/>
<circle cx="476.40" cy="543.00" r="1.75" fill="none" stroke="#225a98" stroke-width="1.15"/>
<circle cx="470.40" cy="534.74" r="1.75" fill="none" stroke="#225a98" stroke-width="1.15"/>
<circle cx="476.40" cy="527.23" r="1.75" fill="none" stroke="#225a98" stroke-width="1.15"/>
<circle cx="469.20" cy="541.78" r="1.75" fill="none" stroke="#225a98" stroke-width="1.15"/>
<circle cx="476.40" cy="532.54" r="1.75" fill="none" stroke="#225a98" stroke-width="1.15"/>
<circle cx="470.40" cy="529.81" r="1.75" fill="none" stroke="#225a98" stroke-width="1.15"/>
<circle cx="466.80" cy="534.13" r="1.75" fill="none" stroke="#225a98" stroke-width="1.15"/>
<circle cx="472.80" cy="542.26" r="1.75" fill="none" stroke="#225a98" stroke-width="1.15"/>
<circle cx="478.80" cy="531.63" r="1.75" fill="none" stroke="#225a98" stroke-width="1.15"/>
<circle cx="472.80" cy="527.90" r="1.75" fill="none" stroke="#225a98" stroke-width="1.15"/>
<circle cx="466.80" cy="530.89" r="1.75" fill="none" stroke="#225a98" stroke-width="1.15"/>
<circle cx="472.80" cy="536.47" r="1.75" fill="none" stroke="#225a98" stroke-width="1.15"/>
<circle cx="469.20" cy="532.97" r="1.75" fill="none" stroke="#225a98" stroke-width="1.15"/>
<circle cx="476.40" cy="538.77" r="1.75" fill="none" stroke="#225a98" stroke-width="1.15"/>
<circle cx="478.80" cy="533.82" r="1.75" fill="none" stroke="#225a98" stroke-width="1.15"/>
<circle cx="475.20" cy="534.24" r="1.75" fill="none" stroke="#225a98" stroke-width="1.15"/>
<circle cx="472.80" cy="532.65" r="1.75" fill="none" stroke="#225a98" stroke-width="1.15"/>
<circle cx="499.20" cy="524.40" r="1.75" fill="none" stroke="#c8143a" stroke-width="1.15"/>
<circle cx="496.80" cy="538.80" r="1.75" fill="none" stroke="#c8143a" stroke-width="1.15"/>
<circle cx="495.60" cy="533.81" r="1.75" fill="none" stroke="#c8143a" stroke-width="1.15"/>
<circle cx="493.20" cy="525.84" r="1.75" fill="none" stroke="#c8143a" stroke-width="1.15"/>
<circle cx="496.80" cy="534.69" r="1.75" fill="none" stroke="#c8143a" stroke-width="1.15"/>
<circle cx="493.20" cy="538.06" r="1.75" fill="none" stroke="#c8143a" stroke-width="1.15"/>
<circle cx="502.80" cy="533.69" r="1.75" fill="none" stroke="#c8143a" stroke-width="1.15"/>
<circle cx="496.80" cy="527.28" r="1.75" fill="none" stroke="#c8143a" stroke-width="1.15"/>
<circle cx="500.40" cy="537.81" r="1.75" fill="none" stroke="#c8143a" stroke-width="1.15"/>
<circle cx="490.80" cy="534.27" r="1.75" fill="none" stroke="#c8143a" stroke-width="1.15"/>
<circle cx="500.40" cy="527.69" r="1.75" fill="none" stroke="#c8143a" stroke-width="1.15"/>
<circle cx="490.80" cy="532.05" r="1.75" fill="none" stroke="#c8143a" stroke-width="1.15"/>
<circle cx="493.20" cy="532.39" r="1.75" fill="none" stroke="#c8143a" stroke-width="1.15"/>
<circle cx="496.80" cy="530.94" r="1.75" fill="none" stroke="#c8143a" stroke-width="1.15"/>
<circle cx="493.20" cy="533.75" r="1.75" fill="none" stroke="#c8143a" stroke-width="1.15"/>
<circle cx="498.00" cy="533.08" r="1.75" fill="none" stroke="#c8143a" stroke-width="1.15"/>
<circle cx="490.80" cy="527.87" r="1.75" fill="none" stroke="#c8143a" stroke-width="1.15"/>
<circle cx="500.40" cy="533.19" r="1.75" fill="none" stroke="#c8143a" stroke-width="1.15"/>
<circle cx="494.40" cy="534.50" r="1.75" fill="none" stroke="#c8143a" stroke-width="1.15"/>
<circle cx="502.80" cy="530.88" r="1.75" fill="none" stroke="#c8143a" stroke-width="1.15"/>
<line x1="392.55" y1="503.30" x2="409.05" y2="503.30" stroke="#151515" stroke-width="1.60"/>
<line x1="400.80" y1="501.30" x2="400.80" y2="505.30" stroke="#111" stroke-width="1.00"/>
<line x1="397.80" y1="501.30" x2="403.80" y2="501.30" stroke="#111" stroke-width="1.00"/>
<line x1="397.80" y1="505.30" x2="403.80" y2="505.30" stroke="#111" stroke-width="1.00"/>
<line x1="416.55" y1="492.70" x2="433.05" y2="492.70" stroke="#151515" stroke-width="1.60"/>
<line x1="424.80" y1="491.70" x2="424.80" y2="493.70" stroke="#111" stroke-width="1.00"/>
<line x1="421.80" y1="491.70" x2="427.80" y2="491.70" stroke="#111" stroke-width="1.00"/>
<line x1="421.80" y1="493.70" x2="427.80" y2="493.70" stroke="#111" stroke-width="1.00"/>
<line x1="440.55" y1="523.50" x2="457.05" y2="523.50" stroke="#151515" stroke-width="1.60"/>
<line x1="448.80" y1="522.50" x2="448.80" y2="524.50" stroke="#111" stroke-width="1.00"/>
<line x1="445.80" y1="522.50" x2="451.80" y2="522.50" stroke="#111" stroke-width="1.00"/>
<line x1="445.80" y1="524.50" x2="451.80" y2="524.50" stroke="#111" stroke-width="1.00"/>
<line x1="464.55" y1="531.50" x2="481.05" y2="531.50" stroke="#151515" stroke-width="1.60"/>
<line x1="472.80" y1="530.50" x2="472.80" y2="532.50" stroke="#111" stroke-width="1.00"/>
<line x1="469.80" y1="530.50" x2="475.80" y2="530.50" stroke="#111" stroke-width="1.00"/>
<line x1="469.80" y1="532.50" x2="475.80" y2="532.50" stroke="#111" stroke-width="1.00"/>
<line x1="488.55" y1="531.20" x2="505.05" y2="531.20" stroke="#151515" stroke-width="1.60"/>
<line x1="496.80" y1="530.20" x2="496.80" y2="532.20" stroke="#111" stroke-width="1.00"/>
<line x1="493.80" y1="530.20" x2="499.80" y2="530.20" stroke="#111" stroke-width="1.00"/>
<line x1="493.80" y1="532.20" x2="499.80" y2="532.20" stroke="#111" stroke-width="1.00"/>
<line x1="386.30" y1="476.00" x2="386.30" y2="554.30" stroke="#111" stroke-width="1.35"/>
<line x1="382.50" y1="479.60" x2="386.30" y2="479.60" stroke="#111" stroke-width="1.00"/>
<text x="378.50" y="483.10" font-size="10.00" text-anchor="end" fill="#2a2a2a" stroke="#2a2a2a" stroke-width="0.2">1000</text>
<line x1="382.50" y1="516.70" x2="386.30" y2="516.70" stroke="#111" stroke-width="1.00"/>
<text x="378.50" y="520.20" font-size="10.00" text-anchor="end" fill="#2a2a2a" stroke="#2a2a2a" stroke-width="0.2">100</text>
<line x1="382.50" y1="553.70" x2="386.30" y2="553.70" stroke="#111" stroke-width="1.00"/>
<text x="378.50" y="557.20" font-size="10.00" text-anchor="end" fill="#2a2a2a" stroke="#2a2a2a" stroke-width="0.2">10</text>
<line x1="384.10" y1="535.20" x2="386.30" y2="535.20" stroke="#111" stroke-width="1.00"/>
<line x1="384.10" y1="498.20" x2="386.30" y2="498.20" stroke="#111" stroke-width="1.00"/>
<line x1="385.70" y1="553.70" x2="510.40" y2="553.70" stroke="#111" stroke-width="1.35"/>
<line x1="400.80" y1="553.70" x2="400.80" y2="557.30" stroke="#111" stroke-width="1.00"/>
<line x1="424.80" y1="553.70" x2="424.80" y2="557.30" stroke="#111" stroke-width="1.00"/>
<line x1="448.80" y1="553.70" x2="448.80" y2="557.30" stroke="#111" stroke-width="1.00"/>
<line x1="472.80" y1="553.70" x2="472.80" y2="557.30" stroke="#111" stroke-width="1.00"/>
<line x1="496.80" y1="553.70" x2="496.80" y2="557.30" stroke="#111" stroke-width="1.00"/>
<text x="400.80" y="570.30" font-size="10.00" text-anchor="middle" fill="#379a3c" font-style="italic">WT</text>
<text x="424.80" y="570.30" font-size="10.0" text-anchor="middle" fill="#f29a1e" font-style="italic">FF<tspan font-size="7.2" dy="2.8">Vav</tspan></text>
<text x="448.80" y="570.30" font-size="10.0" text-anchor="middle" fill="#e0287f" font-style="italic">FF<tspan font-size="7.2" dy="2.8">Scl</tspan></text>
<text x="472.80" y="570.30" font-size="10.00" text-anchor="middle" fill="#225a98" font-style="italic">Ki</text>
<text x="496.80" y="570.30" font-size="10.00" text-anchor="middle" fill="#c8143a" font-style="italic">E12</text>
<polygon points="448.80,480.55 449.43,481.83 450.84,482.04 449.82,483.03 450.06,484.44 448.80,483.77 447.54,484.44 447.78,483.03 446.76,482.04 448.17,481.83" fill="#b02c6c"/>
<polygon points="465.90,480.55 466.53,481.83 467.94,482.04 466.92,483.03 467.16,484.44 465.90,483.77 464.64,484.44 464.88,483.03 463.86,482.04 465.27,481.83" fill="#2a4c7c"/>
<polygon points="470.50,480.55 471.13,481.83 472.54,482.04 471.52,483.03 471.76,484.44 470.50,483.77 469.24,484.44 469.48,483.03 468.46,482.04 469.87,481.83" fill="#2a4c7c"/>
<polygon points="475.10,480.55 475.73,481.83 477.14,482.04 476.12,483.03 476.36,484.44 475.10,483.77 473.84,484.44 474.08,483.03 473.06,482.04 474.47,481.83" fill="#2a4c7c"/>
<polygon points="479.70,480.55 480.33,481.83 481.74,482.04 480.72,483.03 480.96,484.44 479.70,483.77 478.44,484.44 478.68,483.03 477.66,482.04 479.07,481.83" fill="#2a4c7c"/>
<polygon points="489.90,480.55 490.53,481.83 491.94,482.04 490.92,483.03 491.16,484.44 489.90,483.77 488.64,484.44 488.88,483.03 487.86,482.04 489.27,481.83" fill="#a3203c"/>
<polygon points="494.50,480.55 495.13,481.83 496.54,482.04 495.52,483.03 495.76,484.44 494.50,483.77 493.24,484.44 493.48,483.03 492.46,482.04 493.87,481.83" fill="#a3203c"/>
<polygon points="499.10,480.55 499.73,481.83 501.14,482.04 500.12,483.03 500.36,484.44 499.10,483.77 497.84,484.44 498.08,483.03 497.06,482.04 498.47,481.83" fill="#a3203c"/>
<polygon points="503.70,480.55 504.33,481.83 505.74,482.04 504.72,483.03 504.96,484.44 503.70,483.77 502.44,484.44 502.68,483.03 501.66,482.04 503.07,481.83" fill="#a3203c"/>
<line x1="53.50" y1="706.28" x2="53.50" y2="706.89" stroke="#3c9a38" stroke-width="0.90"/>
<line x1="52.50" y1="706.28" x2="54.50" y2="706.28" stroke="#3c9a38" stroke-width="0.90"/>
<rect x="52.05" y="706.89" width="2.90" height="0.41" fill="#3c9a38"/>
<line x1="59.20" y1="705.25" x2="59.20" y2="706.07" stroke="#f0961c" stroke-width="0.90"/>
<line x1="58.20" y1="705.25" x2="60.20" y2="705.25" stroke="#f0961c" stroke-width="0.90"/>
<rect x="57.75" y="706.07" width="2.90" height="1.23" fill="#f0961c"/>
<line x1="64.90" y1="705.66" x2="64.90" y2="706.48" stroke="#d6207c" stroke-width="0.90"/>
<line x1="63.90" y1="705.66" x2="65.90" y2="705.66" stroke="#d6207c" stroke-width="0.90"/>
<rect x="63.45" y="706.48" width="2.90" height="0.82" fill="#d6207c"/>
<line x1="70.60" y1="704.03" x2="70.60" y2="705.66" stroke="#1f4c88" stroke-width="0.90"/>
<line x1="69.60" y1="704.03" x2="71.60" y2="704.03" stroke="#1f4c88" stroke-width="0.90"/>
<rect x="69.15" y="705.66" width="2.90" height="1.64" fill="#1f4c88"/>
<line x1="76.30" y1="703.62" x2="76.30" y2="705.25" stroke="#c50f2f" stroke-width="0.90"/>
<line x1="75.30" y1="703.62" x2="77.30" y2="703.62" stroke="#c50f2f" stroke-width="0.90"/>
<rect x="74.85" y="705.25" width="2.90" height="2.05" fill="#c50f2f"/>
<line x1="93.50" y1="704.84" x2="93.50" y2="706.28" stroke="#3c9a38" stroke-width="0.90"/>
<line x1="92.50" y1="704.84" x2="94.50" y2="704.84" stroke="#3c9a38" stroke-width="0.90"/>
<rect x="92.05" y="706.28" width="2.90" height="1.02" fill="#3c9a38"/>
<line x1="99.20" y1="703.41" x2="99.20" y2="705.25" stroke="#f0961c" stroke-width="0.90"/>
<line x1="98.20" y1="703.41" x2="100.20" y2="703.41" stroke="#f0961c" stroke-width="0.90"/>
<rect x="97.75" y="705.25" width="2.90" height="2.05" fill="#f0961c"/>
<line x1="104.90" y1="705.25" x2="104.90" y2="706.07" stroke="#d6207c" stroke-width="0.90"/>
<line x1="103.90" y1="705.25" x2="105.90" y2="705.25" stroke="#d6207c" stroke-width="0.90"/>
<rect x="103.45" y="706.07" width="2.90" height="1.23" fill="#d6207c"/>
<line x1="110.60" y1="705.46" x2="110.60" y2="706.28" stroke="#1f4c88" stroke-width="0.90"/>
<line x1="109.60" y1="705.46" x2="111.60" y2="705.46" stroke="#1f4c88" stroke-width="0.90"/>
<rect x="109.15" y="706.28" width="2.90" height="1.02" fill="#1f4c88"/>
<line x1="116.30" y1="704.64" x2="116.30" y2="706.07" stroke="#c50f2f" stroke-width="0.90"/>
<line x1="115.30" y1="704.64" x2="117.30" y2="704.64" stroke="#c50f2f" stroke-width="0.90"/>
<rect x="114.85" y="706.07" width="2.90" height="1.23" fill="#c50f2f"/>
<line x1="131.10" y1="702.39" x2="131.10" y2="704.64" stroke="#3c9a38" stroke-width="0.90"/>
<line x1="130.10" y1="702.39" x2="132.10" y2="702.39" stroke="#3c9a38" stroke-width="0.90"/>
<rect x="129.65" y="704.64" width="2.90" height="2.66" fill="#3c9a38"/>
<line x1="136.80" y1="701.57" x2="136.80" y2="703.21" stroke="#f0961c" stroke-width="0.90"/>
<line x1="135.80" y1="701.57" x2="137.80" y2="701.57" stroke="#f0961c" stroke-width="0.90"/>
<rect x="135.35" y="703.21" width="2.90" height="4.09" fill="#f0961c"/>
<line x1="142.50" y1="704.23" x2="142.50" y2="705.46" stroke="#d6207c" stroke-width="0.90"/>
<line x1="141.50" y1="704.23" x2="143.50" y2="704.23" stroke="#d6207c" stroke-width="0.90"/>
<rect x="141.05" y="705.46" width="2.90" height="1.84" fill="#d6207c"/>
<line x1="148.20" y1="677.62" x2="148.20" y2="681.72" stroke="#1f4c88" stroke-width="0.90"/>
<line x1="147.20" y1="677.62" x2="149.20" y2="677.62" stroke="#1f4c88" stroke-width="0.90"/>
<rect x="146.75" y="681.72" width="2.90" height="25.58" fill="#1f4c88"/>
<line x1="153.90" y1="646.92" x2="153.90" y2="655.72" stroke="#c50f2f" stroke-width="0.90"/>
<line x1="152.90" y1="646.92" x2="154.90" y2="646.92" stroke="#c50f2f" stroke-width="0.90"/>
<rect x="152.45" y="655.72" width="2.90" height="51.58" fill="#c50f2f"/>
<line x1="50.10" y1="641.90" x2="50.10" y2="707.90" stroke="#111" stroke-width="1.35"/>
<line x1="46.30" y1="707.30" x2="50.10" y2="707.30" stroke="#111" stroke-width="1.00"/>
<text x="42.30" y="710.80" font-size="10.00" text-anchor="end" fill="#2a2a2a" stroke="#2a2a2a" stroke-width="0.2">0</text>
<line x1="46.30" y1="686.83" x2="50.10" y2="686.83" stroke="#111" stroke-width="1.00"/>
<text x="42.30" y="690.33" font-size="10.00" text-anchor="end" fill="#2a2a2a" stroke="#2a2a2a" stroke-width="0.2">10</text>
<line x1="46.30" y1="666.37" x2="50.10" y2="666.37" stroke="#111" stroke-width="1.00"/>
<text x="42.30" y="669.87" font-size="10.00" text-anchor="end" fill="#2a2a2a" stroke="#2a2a2a" stroke-width="0.2">20</text>
<line x1="46.30" y1="645.90" x2="50.10" y2="645.90" stroke="#111" stroke-width="1.00"/>
<text x="42.30" y="649.40" font-size="10.00" text-anchor="end" fill="#2a2a2a" stroke="#2a2a2a" stroke-width="0.2">30</text>
<line x1="47.90" y1="697.07" x2="50.10" y2="697.07" stroke="#111" stroke-width="1.00"/>
<line x1="47.90" y1="676.60" x2="50.10" y2="676.60" stroke="#111" stroke-width="1.00"/>
<line x1="47.90" y1="656.13" x2="50.10" y2="656.13" stroke="#111" stroke-width="1.00"/>
<line x1="49.50" y1="707.30" x2="158.40" y2="707.30" stroke="#111" stroke-width="1.35"/>
<line x1="64.90" y1="707.30" x2="64.90" y2="710.90" stroke="#111" stroke-width="1.00"/>
<line x1="104.90" y1="707.30" x2="104.90" y2="710.90" stroke="#111" stroke-width="1.00"/>
<line x1="142.50" y1="707.30" x2="142.50" y2="710.90" stroke="#111" stroke-width="1.00"/>
<text x="48.80" y="724.30" font-size="10.00" text-anchor="start" fill="#2a2a2a" textLength="32.0" lengthAdjust="spacingAndGlyphs" stroke="#2a2a2a" stroke-width="0.2">LT-HSC</text>
<text x="93.60" y="724.30" font-size="10.00" text-anchor="start" fill="#2a2a2a" textLength="20.5" lengthAdjust="spacingAndGlyphs" stroke="#2a2a2a" stroke-width="0.2">MkP</text>
<text x="119.60" y="724.30" font-size="10.00" text-anchor="start" fill="#2a2a2a" textLength="45.8" lengthAdjust="spacingAndGlyphs" stroke="#2a2a2a" stroke-width="0.2">Pre-MegE</text>
<polygon points="135.30,667.45 135.93,668.73 137.34,668.94 136.32,669.93 136.56,671.34 135.30,670.68 134.04,671.34 134.28,669.93 133.26,668.94 134.67,668.73" fill="#2a4c7c"/>
<polygon points="139.90,667.45 140.53,668.73 141.94,668.94 140.92,669.93 141.16,671.34 139.90,670.68 138.64,671.34 138.88,669.93 137.86,668.94 139.27,668.73" fill="#2a4c7c"/>
<polygon points="144.50,667.45 145.13,668.73 146.54,668.94 145.52,669.93 145.76,671.34 144.50,670.68 143.24,671.34 143.48,669.93 142.46,668.94 143.87,668.73" fill="#2a4c7c"/>
<polygon points="149.10,667.45 149.73,668.73 151.14,668.94 150.12,669.93 150.36,671.34 149.10,670.68 147.84,671.34 148.08,669.93 147.06,668.94 148.47,668.73" fill="#2a4c7c"/>
<polygon points="146.70,637.15 147.33,638.43 148.74,638.64 147.72,639.63 147.96,641.04 146.70,640.38 145.44,641.04 145.68,639.63 144.66,638.64 146.07,638.43" fill="#a3203c"/>
<polygon points="151.30,637.15 151.93,638.43 153.34,638.64 152.32,639.63 152.56,641.04 151.30,640.38 150.04,641.04 150.28,639.63 149.26,638.64 150.67,638.43" fill="#a3203c"/>
<polygon points="155.90,637.15 156.53,638.43 157.94,638.64 156.92,639.63 157.16,641.04 155.90,640.38 154.64,641.04 154.88,639.63 153.86,638.64 155.27,638.43" fill="#a3203c"/>
<polygon points="160.50,637.15 161.13,638.43 162.54,638.64 161.52,639.63 161.76,641.04 160.50,640.38 159.24,641.04 159.48,639.63 158.46,638.64 159.87,638.43" fill="#a3203c"/>
<line x1="216.90" y1="706.84" x2="216.90" y2="707.05" stroke="#3c9a38" stroke-width="0.90"/>
<line x1="215.90" y1="706.84" x2="217.90" y2="706.84" stroke="#3c9a38" stroke-width="0.90"/>
<rect x="215.45" y="707.05" width="2.90" height="0.25" fill="#3c9a38"/>
<line x1="222.60" y1="706.84" x2="222.60" y2="707.05" stroke="#f0961c" stroke-width="0.90"/>
<line x1="221.60" y1="706.84" x2="223.60" y2="706.84" stroke="#f0961c" stroke-width="0.90"/>
<rect x="221.15" y="707.05" width="2.90" height="0.25" fill="#f0961c"/>
<line x1="228.30" y1="706.69" x2="228.30" y2="706.99" stroke="#d6207c" stroke-width="0.90"/>
<line x1="227.30" y1="706.69" x2="229.30" y2="706.69" stroke="#d6207c" stroke-width="0.90"/>
<rect x="226.85" y="706.99" width="2.90" height="0.31" fill="#d6207c"/>
<line x1="234.00" y1="706.38" x2="234.00" y2="706.84" stroke="#1f4c88" stroke-width="0.90"/>
<line x1="233.00" y1="706.38" x2="235.00" y2="706.38" stroke="#1f4c88" stroke-width="0.90"/>
<rect x="232.55" y="706.84" width="2.90" height="0.46" fill="#1f4c88"/>
<line x1="239.70" y1="706.07" x2="239.70" y2="706.69" stroke="#c50f2f" stroke-width="0.90"/>
<line x1="238.70" y1="706.07" x2="240.70" y2="706.07" stroke="#c50f2f" stroke-width="0.90"/>
<rect x="238.25" y="706.69" width="2.90" height="0.61" fill="#c50f2f"/>
<line x1="256.90" y1="706.07" x2="256.90" y2="706.38" stroke="#3c9a38" stroke-width="0.90"/>
<line x1="255.90" y1="706.07" x2="257.90" y2="706.07" stroke="#3c9a38" stroke-width="0.90"/>
<rect x="255.45" y="706.38" width="2.90" height="0.92" fill="#3c9a38"/>
<line x1="262.60" y1="706.07" x2="262.60" y2="706.38" stroke="#f0961c" stroke-width="0.90"/>
<line x1="261.60" y1="706.07" x2="263.60" y2="706.07" stroke="#f0961c" stroke-width="0.90"/>
<rect x="261.15" y="706.38" width="2.90" height="0.92" fill="#f0961c"/>
<line x1="268.30" y1="705.61" x2="268.30" y2="705.92" stroke="#d6207c" stroke-width="0.90"/>
<line x1="267.30" y1="705.61" x2="269.30" y2="705.61" stroke="#d6207c" stroke-width="0.90"/>
<rect x="266.85" y="705.92" width="2.90" height="1.38" fill="#d6207c"/>
<line x1="274.00" y1="703.92" x2="274.00" y2="704.84" stroke="#1f4c88" stroke-width="0.90"/>
<line x1="273.00" y1="703.92" x2="275.00" y2="703.92" stroke="#1f4c88" stroke-width="0.90"/>
<rect x="272.55" y="704.84" width="2.90" height="2.46" fill="#1f4c88"/>
<line x1="279.70" y1="702.08" x2="279.70" y2="702.69" stroke="#c50f2f" stroke-width="0.90"/>
<line x1="278.70" y1="702.08" x2="280.70" y2="702.08" stroke="#c50f2f" stroke-width="0.90"/>
<rect x="278.25" y="702.69" width="2.90" height="4.60" fill="#c50f2f"/>
<line x1="294.50" y1="701.62" x2="294.50" y2="702.39" stroke="#3c9a38" stroke-width="0.90"/>
<line x1="293.50" y1="701.62" x2="295.50" y2="701.62" stroke="#3c9a38" stroke-width="0.90"/>
<rect x="293.05" y="702.39" width="2.90" height="4.91" fill="#3c9a38"/>
<line x1="300.20" y1="701.16" x2="300.20" y2="702.08" stroke="#f0961c" stroke-width="0.90"/>
<line x1="299.20" y1="701.16" x2="301.20" y2="701.16" stroke="#f0961c" stroke-width="0.90"/>
<rect x="298.75" y="702.08" width="2.90" height="5.22" fill="#f0961c"/>
<line x1="305.90" y1="704.84" x2="305.90" y2="705.46" stroke="#d6207c" stroke-width="0.90"/>
<line x1="304.90" y1="704.84" x2="306.90" y2="704.84" stroke="#d6207c" stroke-width="0.90"/>
<rect x="304.45" y="705.46" width="2.90" height="1.84" fill="#d6207c"/>
<line x1="311.60" y1="697.48" x2="311.60" y2="698.40" stroke="#1f4c88" stroke-width="0.90"/>
<line x1="310.60" y1="697.48" x2="312.60" y2="697.48" stroke="#1f4c88" stroke-width="0.90"/>
<rect x="310.15" y="698.40" width="2.90" height="8.90" fill="#1f4c88"/>
<line x1="317.30" y1="656.64" x2="317.30" y2="666.16" stroke="#c50f2f" stroke-width="0.90"/>
<line x1="316.30" y1="656.64" x2="318.30" y2="656.64" stroke="#c50f2f" stroke-width="0.90"/>
<rect x="315.85" y="666.16" width="2.90" height="41.14" fill="#c50f2f"/>
<line x1="213.50" y1="641.90" x2="213.50" y2="707.90" stroke="#111" stroke-width="1.35"/>
<line x1="209.70" y1="707.30" x2="213.50" y2="707.30" stroke="#111" stroke-width="1.00"/>
<text x="205.70" y="710.80" font-size="10.00" text-anchor="end" fill="#2a2a2a" stroke="#2a2a2a" stroke-width="0.2">0</text>
<line x1="209.70" y1="691.95" x2="213.50" y2="691.95" stroke="#111" stroke-width="1.00"/>
<text x="205.70" y="695.45" font-size="10.00" text-anchor="end" fill="#2a2a2a" stroke="#2a2a2a" stroke-width="0.2">500</text>
<line x1="209.70" y1="676.60" x2="213.50" y2="676.60" stroke="#111" stroke-width="1.00"/>
<text x="205.70" y="680.10" font-size="10.00" text-anchor="end" fill="#2a2a2a" stroke="#2a2a2a" stroke-width="0.2">1000</text>
<line x1="209.70" y1="661.25" x2="213.50" y2="661.25" stroke="#111" stroke-width="1.00"/>
<text x="205.70" y="664.75" font-size="10.00" text-anchor="end" fill="#2a2a2a" stroke="#2a2a2a" stroke-width="0.2">1500</text>
<line x1="209.70" y1="645.90" x2="213.50" y2="645.90" stroke="#111" stroke-width="1.00"/>
<text x="205.70" y="649.40" font-size="10.00" text-anchor="end" fill="#2a2a2a" stroke="#2a2a2a" stroke-width="0.2">2000</text>
<line x1="211.30" y1="699.62" x2="213.50" y2="699.62" stroke="#111" stroke-width="1.00"/>
<line x1="211.30" y1="684.27" x2="213.50" y2="684.27" stroke="#111" stroke-width="1.00"/>
<line x1="211.30" y1="668.92" x2="213.50" y2="668.92" stroke="#111" stroke-width="1.00"/>
<line x1="211.30" y1="653.57" x2="213.50" y2="653.57" stroke="#111" stroke-width="1.00"/>
<line x1="212.90" y1="707.30" x2="321.80" y2="707.30" stroke="#111" stroke-width="1.35"/>
<line x1="228.30" y1="707.30" x2="228.30" y2="710.90" stroke="#111" stroke-width="1.00"/>
<line x1="268.30" y1="707.30" x2="268.30" y2="710.90" stroke="#111" stroke-width="1.00"/>
<line x1="305.90" y1="707.30" x2="305.90" y2="710.90" stroke="#111" stroke-width="1.00"/>
<text x="212.20" y="724.30" font-size="10.00" text-anchor="start" fill="#2a2a2a" textLength="32.0" lengthAdjust="spacingAndGlyphs" stroke="#2a2a2a" stroke-width="0.2">LT-HSC</text>
<text x="257.00" y="724.30" font-size="10.00" text-anchor="start" fill="#2a2a2a" textLength="20.5" lengthAdjust="spacingAndGlyphs" stroke="#2a2a2a" stroke-width="0.2">MkP</text>
<text x="283.00" y="724.30" font-size="10.00" text-anchor="start" fill="#2a2a2a" textLength="45.8" lengthAdjust="spacingAndGlyphs" stroke="#2a2a2a" stroke-width="0.2">Pre-MegE</text>
<polygon points="308.80,643.35 309.43,644.63 310.84,644.84 309.82,645.83 310.06,647.24 308.80,646.58 307.54,647.24 307.78,645.83 306.76,644.84 308.17,644.63" fill="#a3203c"/>
<polygon points="313.40,643.35 314.03,644.63 315.44,644.84 314.42,645.83 314.66,647.24 313.40,646.58 312.14,647.24 312.38,645.83 311.36,644.84 312.77,644.63" fill="#a3203c"/>
<polygon points="318.00,643.35 318.63,644.63 320.04,644.84 319.02,645.83 319.26,647.24 318.00,646.58 316.74,647.24 316.98,645.83 315.96,644.84 317.37,644.63" fill="#a3203c"/>
<polygon points="322.60,643.35 323.23,644.63 324.64,644.84 323.62,645.83 323.86,647.24 322.60,646.58 321.34,647.24 321.58,645.83 320.56,644.84 321.97,644.63" fill="#a3203c"/>
<line x1="374.90" y1="703.21" x2="374.90" y2="705.25" stroke="#3c9a38" stroke-width="0.90"/>
<line x1="373.90" y1="703.21" x2="375.90" y2="703.21" stroke="#3c9a38" stroke-width="0.90"/>
<rect x="373.45" y="705.25" width="2.90" height="2.05" fill="#3c9a38"/>
<line x1="380.60" y1="705.25" x2="380.60" y2="706.07" stroke="#f0961c" stroke-width="0.90"/>
<line x1="379.60" y1="705.25" x2="381.60" y2="705.25" stroke="#f0961c" stroke-width="0.90"/>
<rect x="379.15" y="706.07" width="2.90" height="1.23" fill="#f0961c"/>
<line x1="386.30" y1="702.80" x2="386.30" y2="704.03" stroke="#d6207c" stroke-width="0.90"/>
<line x1="385.30" y1="702.80" x2="387.30" y2="702.80" stroke="#d6207c" stroke-width="0.90"/>
<rect x="384.85" y="704.03" width="2.90" height="3.27" fill="#d6207c"/>
<line x1="392.00" y1="706.07" x2="392.00" y2="706.48" stroke="#1f4c88" stroke-width="0.90"/>
<line x1="391.00" y1="706.07" x2="393.00" y2="706.07" stroke="#1f4c88" stroke-width="0.90"/>
<rect x="390.55" y="706.48" width="2.90" height="0.82" fill="#1f4c88"/>
<line x1="397.70" y1="705.66" x2="397.70" y2="706.07" stroke="#c50f2f" stroke-width="0.90"/>
<line x1="396.70" y1="705.66" x2="398.70" y2="705.66" stroke="#c50f2f" stroke-width="0.90"/>
<rect x="396.25" y="706.07" width="2.90" height="1.23" fill="#c50f2f"/>
<line x1="414.90" y1="697.89" x2="414.90" y2="703.00" stroke="#3c9a38" stroke-width="0.90"/>
<line x1="413.90" y1="697.89" x2="415.90" y2="697.89" stroke="#3c9a38" stroke-width="0.90"/>
<rect x="413.45" y="703.00" width="2.90" height="4.30" fill="#3c9a38"/>
<line x1="420.60" y1="701.16" x2="420.60" y2="704.03" stroke="#f0961c" stroke-width="0.90"/>
<line x1="419.60" y1="701.16" x2="421.60" y2="701.16" stroke="#f0961c" stroke-width="0.90"/>
<rect x="419.15" y="704.03" width="2.90" height="3.27" fill="#f0961c"/>
<line x1="426.30" y1="705.25" x2="426.30" y2="705.66" stroke="#d6207c" stroke-width="0.90"/>
<line x1="425.30" y1="705.25" x2="427.30" y2="705.25" stroke="#d6207c" stroke-width="0.90"/>
<rect x="424.85" y="705.66" width="2.90" height="1.64" fill="#d6207c"/>
<line x1="432.00" y1="706.48" x2="432.00" y2="706.89" stroke="#1f4c88" stroke-width="0.90"/>
<line x1="431.00" y1="706.48" x2="433.00" y2="706.48" stroke="#1f4c88" stroke-width="0.90"/>
<rect x="430.55" y="706.89" width="2.90" height="0.41" fill="#1f4c88"/>
<line x1="437.70" y1="704.43" x2="437.70" y2="704.84" stroke="#c50f2f" stroke-width="0.90"/>
<line x1="436.70" y1="704.43" x2="438.70" y2="704.43" stroke="#c50f2f" stroke-width="0.90"/>
<rect x="436.25" y="704.84" width="2.90" height="2.46" fill="#c50f2f"/>
<line x1="452.50" y1="653.27" x2="452.50" y2="668.99" stroke="#3c9a38" stroke-width="0.90"/>
<line x1="451.50" y1="653.27" x2="453.50" y2="653.27" stroke="#3c9a38" stroke-width="0.90"/>
<rect x="451.05" y="668.99" width="2.90" height="38.31" fill="#3c9a38"/>
<line x1="458.20" y1="677.42" x2="458.20" y2="684.13" stroke="#f0961c" stroke-width="0.90"/>
<line x1="457.20" y1="677.42" x2="459.20" y2="677.42" stroke="#f0961c" stroke-width="0.90"/>
<rect x="456.75" y="684.13" width="2.90" height="23.17" fill="#f0961c"/>
<line x1="463.90" y1="700.75" x2="463.90" y2="702.18" stroke="#d6207c" stroke-width="0.90"/>
<line x1="462.90" y1="700.75" x2="464.90" y2="700.75" stroke="#d6207c" stroke-width="0.90"/>
<rect x="462.45" y="702.18" width="2.90" height="5.12" fill="#d6207c"/>
<line x1="469.60" y1="685.73" x2="469.60" y2="691.87" stroke="#1f4c88" stroke-width="0.90"/>
<line x1="468.60" y1="685.73" x2="470.60" y2="685.73" stroke="#1f4c88" stroke-width="0.90"/>
<rect x="468.15" y="691.87" width="2.90" height="15.43" fill="#1f4c88"/>
<line x1="475.30" y1="660.23" x2="475.30" y2="665.55" stroke="#c50f2f" stroke-width="0.90"/>
<line x1="474.30" y1="660.23" x2="476.30" y2="660.23" stroke="#c50f2f" stroke-width="0.90"/>
<rect x="473.85" y="665.55" width="2.90" height="41.75" fill="#c50f2f"/>
<line x1="371.50" y1="641.90" x2="371.50" y2="707.90" stroke="#111" stroke-width="1.35"/>
<line x1="367.70" y1="707.30" x2="371.50" y2="707.30" stroke="#111" stroke-width="1.00"/>
<text x="363.70" y="710.80" font-size="10.00" text-anchor="end" fill="#2a2a2a" stroke="#2a2a2a" stroke-width="0.2">0</text>
<line x1="367.70" y1="686.83" x2="371.50" y2="686.83" stroke="#111" stroke-width="1.00"/>
<text x="363.70" y="690.33" font-size="10.00" text-anchor="end" fill="#2a2a2a" stroke="#2a2a2a" stroke-width="0.2">50</text>
<line x1="367.70" y1="666.37" x2="371.50" y2="666.37" stroke="#111" stroke-width="1.00"/>
<text x="363.70" y="669.87" font-size="10.00" text-anchor="end" fill="#2a2a2a" stroke="#2a2a2a" stroke-width="0.2">100</text>
<line x1="367.70" y1="645.90" x2="371.50" y2="645.90" stroke="#111" stroke-width="1.00"/>
<text x="363.70" y="649.40" font-size="10.00" text-anchor="end" fill="#2a2a2a" stroke="#2a2a2a" stroke-width="0.2">150</text>
<line x1="369.30" y1="697.07" x2="371.50" y2="697.07" stroke="#111" stroke-width="1.00"/>
<line x1="369.30" y1="676.60" x2="371.50" y2="676.60" stroke="#111" stroke-width="1.00"/>
<line x1="369.30" y1="656.13" x2="371.50" y2="656.13" stroke="#111" stroke-width="1.00"/>
<line x1="370.90" y1="707.30" x2="479.80" y2="707.30" stroke="#111" stroke-width="1.35"/>
<line x1="386.30" y1="707.30" x2="386.30" y2="710.90" stroke="#111" stroke-width="1.00"/>
<line x1="426.30" y1="707.30" x2="426.30" y2="710.90" stroke="#111" stroke-width="1.00"/>
<line x1="463.90" y1="707.30" x2="463.90" y2="710.90" stroke="#111" stroke-width="1.00"/>
<text x="370.20" y="724.30" font-size="10.00" text-anchor="start" fill="#2a2a2a" textLength="32.0" lengthAdjust="spacingAndGlyphs" stroke="#2a2a2a" stroke-width="0.2">LT-HSC</text>
<text x="415.00" y="724.30" font-size="10.00" text-anchor="start" fill="#2a2a2a" textLength="20.5" lengthAdjust="spacingAndGlyphs" stroke="#2a2a2a" stroke-width="0.2">MkP</text>
<text x="441.00" y="724.30" font-size="10.00" text-anchor="start" fill="#2a2a2a" textLength="45.8" lengthAdjust="spacingAndGlyphs" stroke="#2a2a2a" stroke-width="0.2">Pre-MegE</text>
<polygon points="461.30,645.45 461.93,646.73 463.34,646.94 462.32,647.93 462.56,649.34 461.30,648.68 460.04,649.34 460.28,647.93 459.26,646.94 460.67,646.73" fill="#b02c6c"/>
<polygon points="465.90,645.45 466.53,646.73 467.94,646.94 466.92,647.93 467.16,649.34 465.90,648.68 464.64,649.34 464.88,647.93 463.86,646.94 465.27,646.73" fill="#b02c6c"/>
<polygon points="470.50,645.45 471.13,646.73 472.54,646.94 471.52,647.93 471.76,649.34 470.50,648.68 469.24,649.34 469.48,647.93 468.46,646.94 469.87,646.73" fill="#b02c6c"/>
<polygon points="469.50,638.25 470.13,639.53 471.54,639.74 470.52,640.73 470.76,642.14 469.50,641.48 468.24,642.14 468.48,640.73 467.46,639.74 468.87,639.53" fill="#2a4c7c"/>
<line x1="53.50" y1="786.63" x2="53.50" y2="794.61" stroke="#3c9a38" stroke-width="0.90"/>
<line x1="52.50" y1="786.63" x2="54.50" y2="786.63" stroke="#3c9a38" stroke-width="0.90"/>
<rect x="52.05" y="794.61" width="2.90" height="23.79" fill="#3c9a38"/>
<line x1="59.20" y1="801.51" x2="59.20" y2="802.28" stroke="#f0961c" stroke-width="0.90"/>
<line x1="58.20" y1="801.51" x2="60.20" y2="801.51" stroke="#f0961c" stroke-width="0.90"/>
<rect x="57.75" y="802.28" width="2.90" height="16.12" fill="#f0961c"/>
<line x1="64.90" y1="782.79" x2="64.90" y2="784.63" stroke="#d6207c" stroke-width="0.90"/>
<line x1="63.90" y1="782.79" x2="65.90" y2="782.79" stroke="#d6207c" stroke-width="0.90"/>
<rect x="63.45" y="784.63" width="2.90" height="33.77" fill="#d6207c"/>
<line x1="70.60" y1="789.70" x2="70.60" y2="792.30" stroke="#1f4c88" stroke-width="0.90"/>
<line x1="69.60" y1="789.70" x2="71.60" y2="789.70" stroke="#1f4c88" stroke-width="0.90"/>
<rect x="69.15" y="792.30" width="2.90" height="26.09" fill="#1f4c88"/>
<line x1="76.30" y1="770.05" x2="76.30" y2="782.33" stroke="#c50f2f" stroke-width="0.90"/>
<line x1="75.30" y1="770.05" x2="77.30" y2="770.05" stroke="#c50f2f" stroke-width="0.90"/>
<rect x="74.85" y="782.33" width="2.90" height="36.07" fill="#c50f2f"/>
<line x1="93.50" y1="795.84" x2="93.50" y2="796.91" stroke="#3c9a38" stroke-width="0.90"/>
<line x1="92.50" y1="795.84" x2="94.50" y2="795.84" stroke="#3c9a38" stroke-width="0.90"/>
<rect x="92.05" y="796.91" width="2.90" height="21.49" fill="#3c9a38"/>
<line x1="99.20" y1="805.81" x2="99.20" y2="808.12" stroke="#f0961c" stroke-width="0.90"/>
<line x1="98.20" y1="805.81" x2="100.20" y2="805.81" stroke="#f0961c" stroke-width="0.90"/>
<rect x="97.75" y="808.12" width="2.90" height="10.28" fill="#f0961c"/>
<line x1="104.90" y1="809.80" x2="104.90" y2="811.49" stroke="#d6207c" stroke-width="0.90"/>
<line x1="103.90" y1="809.80" x2="105.90" y2="809.80" stroke="#d6207c" stroke-width="0.90"/>
<rect x="103.45" y="811.49" width="2.90" height="6.91" fill="#d6207c"/>
<line x1="110.60" y1="808.88" x2="110.60" y2="811.49" stroke="#1f4c88" stroke-width="0.90"/>
<line x1="109.60" y1="808.88" x2="111.60" y2="808.88" stroke="#1f4c88" stroke-width="0.90"/>
<rect x="109.15" y="811.49" width="2.90" height="6.91" fill="#1f4c88"/>
<line x1="116.30" y1="809.19" x2="116.30" y2="811.19" stroke="#c50f2f" stroke-width="0.90"/>
<line x1="115.30" y1="809.19" x2="117.30" y2="809.19" stroke="#c50f2f" stroke-width="0.90"/>
<rect x="114.85" y="811.19" width="2.90" height="7.21" fill="#c50f2f"/>
<line x1="131.10" y1="811.49" x2="131.10" y2="815.33" stroke="#3c9a38" stroke-width="0.90"/>
<line x1="130.10" y1="811.49" x2="132.10" y2="811.49" stroke="#3c9a38" stroke-width="0.90"/>
<rect x="129.65" y="815.33" width="2.90" height="3.07" fill="#3c9a38"/>
<line x1="136.80" y1="788.93" x2="136.80" y2="790.00" stroke="#f0961c" stroke-width="0.90"/>
<line x1="135.80" y1="788.93" x2="137.80" y2="788.93" stroke="#f0961c" stroke-width="0.90"/>
<rect x="135.35" y="790.00" width="2.90" height="28.40" fill="#f0961c"/>
<line x1="142.50" y1="772.66" x2="142.50" y2="773.88" stroke="#d6207c" stroke-width="0.90"/>
<line x1="141.50" y1="772.66" x2="143.50" y2="772.66" stroke="#d6207c" stroke-width="0.90"/>
<rect x="141.05" y="773.88" width="2.90" height="44.51" fill="#d6207c"/>
<line x1="148.20" y1="791.54" x2="148.20" y2="799.21" stroke="#1f4c88" stroke-width="0.90"/>
<line x1="147.20" y1="791.54" x2="149.20" y2="791.54" stroke="#1f4c88" stroke-width="0.90"/>
<rect x="146.75" y="799.21" width="2.90" height="19.19" fill="#1f4c88"/>
<line x1="153.90" y1="804.59" x2="153.90" y2="806.58" stroke="#c50f2f" stroke-width="0.90"/>
<line x1="152.90" y1="804.59" x2="154.90" y2="804.59" stroke="#c50f2f" stroke-width="0.90"/>
<rect x="152.45" y="806.58" width="2.90" height="11.82" fill="#c50f2f"/>
<line x1="50.10" y1="752.50" x2="50.10" y2="819.00" stroke="#111" stroke-width="1.35"/>
<line x1="46.30" y1="818.40" x2="50.10" y2="818.40" stroke="#111" stroke-width="1.00"/>
<text x="42.30" y="821.90" font-size="10.00" text-anchor="end" fill="#2a2a2a" stroke="#2a2a2a" stroke-width="0.2">0</text>
<line x1="46.30" y1="803.05" x2="50.10" y2="803.05" stroke="#111" stroke-width="1.00"/>
<text x="42.30" y="806.55" font-size="10.00" text-anchor="end" fill="#2a2a2a" stroke="#2a2a2a" stroke-width="0.2">100</text>
<line x1="46.30" y1="787.70" x2="50.10" y2="787.70" stroke="#111" stroke-width="1.00"/>
<text x="42.30" y="791.20" font-size="10.00" text-anchor="end" fill="#2a2a2a" stroke="#2a2a2a" stroke-width="0.2">200</text>
<line x1="46.30" y1="772.35" x2="50.10" y2="772.35" stroke="#111" stroke-width="1.00"/>
<text x="42.30" y="775.85" font-size="10.00" text-anchor="end" fill="#2a2a2a" stroke="#2a2a2a" stroke-width="0.2">300</text>
<line x1="46.30" y1="757.00" x2="50.10" y2="757.00" stroke="#111" stroke-width="1.00"/>
<text x="42.30" y="760.50" font-size="10.00" text-anchor="end" fill="#2a2a2a" stroke="#2a2a2a" stroke-width="0.2">400</text>
<line x1="47.90" y1="810.73" x2="50.10" y2="810.73" stroke="#111" stroke-width="1.00"/>
<line x1="47.90" y1="795.38" x2="50.10" y2="795.38" stroke="#111" stroke-width="1.00"/>
<line x1="47.90" y1="780.02" x2="50.10" y2="780.02" stroke="#111" stroke-width="1.00"/>
<line x1="47.90" y1="764.67" x2="50.10" y2="764.67" stroke="#111" stroke-width="1.00"/>
<line x1="49.50" y1="818.40" x2="158.40" y2="818.40" stroke="#111" stroke-width="1.35"/>
<line x1="64.90" y1="818.40" x2="64.90" y2="822.00" stroke="#111" stroke-width="1.00"/>
<line x1="104.90" y1="818.40" x2="104.90" y2="822.00" stroke="#111" stroke-width="1.00"/>
<line x1="142.50" y1="818.40" x2="142.50" y2="822.00" stroke="#111" stroke-width="1.00"/>
<text x="48.80" y="835.40" font-size="10.00" text-anchor="start" fill="#2a2a2a" textLength="32.0" lengthAdjust="spacingAndGlyphs" stroke="#2a2a2a" stroke-width="0.2">LT-HSC</text>
<text x="93.60" y="835.40" font-size="10.00" text-anchor="start" fill="#2a2a2a" textLength="20.5" lengthAdjust="spacingAndGlyphs" stroke="#2a2a2a" stroke-width="0.2">MkP</text>
<text x="119.60" y="835.40" font-size="10.00" text-anchor="start" fill="#2a2a2a" textLength="45.8" lengthAdjust="spacingAndGlyphs" stroke="#2a2a2a" stroke-width="0.2">Pre-MegE</text>
<polygon points="135.60,763.15 136.23,764.43 137.64,764.64 136.62,765.63 136.86,767.04 135.60,766.38 134.34,767.04 134.58,765.63 133.56,764.64 134.97,764.43" fill="#b02c6c"/>
<polygon points="140.20,763.15 140.83,764.43 142.24,764.64 141.22,765.63 141.46,767.04 140.20,766.38 138.94,767.04 139.18,765.63 138.16,764.64 139.57,764.43" fill="#b02c6c"/>
<polygon points="144.80,763.15 145.43,764.43 146.84,764.64 145.82,765.63 146.06,767.04 144.80,766.38 143.54,767.04 143.78,765.63 142.76,764.64 144.17,764.43" fill="#b02c6c"/>
<polygon points="149.40,763.15 150.03,764.43 151.44,764.64 150.42,765.63 150.66,767.04 149.40,766.38 148.14,767.04 148.38,765.63 147.36,764.64 148.77,764.43" fill="#b02c6c"/>
<polygon points="133.50,775.65 134.13,776.93 135.54,777.14 134.52,778.13 134.76,779.54 133.50,778.88 132.24,779.54 132.48,778.13 131.46,777.14 132.87,776.93" fill="#d8963a"/>
<polygon points="138.10,775.65 138.73,776.93 140.14,777.14 139.12,778.13 139.36,779.54 138.10,778.88 136.84,779.54 137.08,778.13 136.06,777.14 137.47,776.93" fill="#d8963a"/>
<line x1="216.80" y1="773.58" x2="216.80" y2="786.84" stroke="#3c9a38" stroke-width="0.90"/>
<line x1="215.80" y1="773.58" x2="217.80" y2="773.58" stroke="#3c9a38" stroke-width="0.90"/>
<rect x="215.35" y="786.84" width="2.90" height="31.56" fill="#3c9a38"/>
<line x1="222.50" y1="785.86" x2="222.50" y2="789.17" stroke="#f0961c" stroke-width="0.90"/>
<line x1="221.50" y1="785.86" x2="223.50" y2="785.86" stroke="#f0961c" stroke-width="0.90"/>
<rect x="221.05" y="789.17" width="2.90" height="29.23" fill="#f0961c"/>
<line x1="228.20" y1="790.40" x2="228.20" y2="792.61" stroke="#d6207c" stroke-width="0.90"/>
<line x1="227.20" y1="790.40" x2="229.20" y2="790.40" stroke="#d6207c" stroke-width="0.90"/>
<rect x="226.75" y="792.61" width="2.90" height="25.79" fill="#d6207c"/>
<line x1="233.90" y1="790.03" x2="233.90" y2="793.35" stroke="#1f4c88" stroke-width="0.90"/>
<line x1="232.90" y1="790.03" x2="234.90" y2="790.03" stroke="#1f4c88" stroke-width="0.90"/>
<rect x="232.45" y="793.35" width="2.90" height="25.05" fill="#1f4c88"/>
<line x1="239.60" y1="787.70" x2="239.60" y2="793.84" stroke="#c50f2f" stroke-width="0.90"/>
<line x1="238.60" y1="787.70" x2="240.60" y2="787.70" stroke="#c50f2f" stroke-width="0.90"/>
<rect x="238.15" y="793.84" width="2.90" height="24.56" fill="#c50f2f"/>
<line x1="256.80" y1="790.40" x2="256.80" y2="792.00" stroke="#3c9a38" stroke-width="0.90"/>
<line x1="255.80" y1="790.40" x2="257.80" y2="790.40" stroke="#3c9a38" stroke-width="0.90"/>
<rect x="255.35" y="792.00" width="2.90" height="26.40" fill="#3c9a38"/>
<line x1="262.50" y1="794.45" x2="262.50" y2="795.44" stroke="#f0961c" stroke-width="0.90"/>
<line x1="261.50" y1="794.45" x2="263.50" y2="794.45" stroke="#f0961c" stroke-width="0.90"/>
<rect x="261.05" y="795.44" width="2.90" height="22.96" fill="#f0961c"/>
<line x1="268.20" y1="801.21" x2="268.20" y2="803.54" stroke="#d6207c" stroke-width="0.90"/>
<line x1="267.20" y1="801.21" x2="269.20" y2="801.21" stroke="#d6207c" stroke-width="0.90"/>
<rect x="266.75" y="803.54" width="2.90" height="14.86" fill="#d6207c"/>
<line x1="273.90" y1="798.87" x2="273.90" y2="801.94" stroke="#1f4c88" stroke-width="0.90"/>
<line x1="272.90" y1="798.87" x2="274.90" y2="798.87" stroke="#1f4c88" stroke-width="0.90"/>
<rect x="272.45" y="801.94" width="2.90" height="16.46" fill="#1f4c88"/>
<line x1="279.60" y1="794.58" x2="279.60" y2="796.54" stroke="#c50f2f" stroke-width="0.90"/>
<line x1="278.60" y1="794.58" x2="280.60" y2="794.58" stroke="#c50f2f" stroke-width="0.90"/>
<rect x="278.15" y="796.54" width="2.90" height="21.86" fill="#c50f2f"/>
<line x1="294.40" y1="774.68" x2="294.40" y2="783.65" stroke="#3c9a38" stroke-width="0.90"/>
<line x1="293.40" y1="774.68" x2="295.40" y2="774.68" stroke="#3c9a38" stroke-width="0.90"/>
<rect x="292.95" y="783.65" width="2.90" height="34.75" fill="#3c9a38"/>
<line x1="300.10" y1="773.46" x2="300.10" y2="780.82" stroke="#f0961c" stroke-width="0.90"/>
<line x1="299.10" y1="773.46" x2="301.10" y2="773.46" stroke="#f0961c" stroke-width="0.90"/>
<rect x="298.65" y="780.82" width="2.90" height="37.58" fill="#f0961c"/>
<line x1="305.80" y1="791.88" x2="305.80" y2="793.10" stroke="#d6207c" stroke-width="0.90"/>
<line x1="304.80" y1="791.88" x2="306.80" y2="791.88" stroke="#d6207c" stroke-width="0.90"/>
<rect x="304.35" y="793.10" width="2.90" height="25.30" fill="#d6207c"/>
<line x1="311.50" y1="776.40" x2="311.50" y2="783.16" stroke="#1f4c88" stroke-width="0.90"/>
<line x1="310.50" y1="776.40" x2="312.50" y2="776.40" stroke="#1f4c88" stroke-width="0.90"/>
<rect x="310.05" y="783.16" width="2.90" height="35.24" fill="#1f4c88"/>
<line x1="317.20" y1="766.33" x2="317.20" y2="769.28" stroke="#c50f2f" stroke-width="0.90"/>
<line x1="316.20" y1="766.33" x2="318.20" y2="766.33" stroke="#c50f2f" stroke-width="0.90"/>
<rect x="315.75" y="769.28" width="2.90" height="49.12" fill="#c50f2f"/>
<line x1="213.40" y1="752.50" x2="213.40" y2="819.00" stroke="#111" stroke-width="1.35"/>
<line x1="209.60" y1="818.40" x2="213.40" y2="818.40" stroke="#111" stroke-width="1.00"/>
<text x="205.60" y="821.90" font-size="10.00" text-anchor="end" fill="#2a2a2a" stroke="#2a2a2a" stroke-width="0.2">0</text>
<line x1="209.60" y1="806.12" x2="213.40" y2="806.12" stroke="#111" stroke-width="1.00"/>
<text x="205.60" y="809.62" font-size="10.00" text-anchor="end" fill="#2a2a2a" stroke="#2a2a2a" stroke-width="0.2">100</text>
<line x1="209.60" y1="793.84" x2="213.40" y2="793.84" stroke="#111" stroke-width="1.00"/>
<text x="205.60" y="797.34" font-size="10.00" text-anchor="end" fill="#2a2a2a" stroke="#2a2a2a" stroke-width="0.2">200</text>
<line x1="209.60" y1="781.56" x2="213.40" y2="781.56" stroke="#111" stroke-width="1.00"/>
<text x="205.60" y="785.06" font-size="10.00" text-anchor="end" fill="#2a2a2a" stroke="#2a2a2a" stroke-width="0.2">300</text>
<line x1="209.60" y1="769.28" x2="213.40" y2="769.28" stroke="#111" stroke-width="1.00"/>
<text x="205.60" y="772.78" font-size="10.00" text-anchor="end" fill="#2a2a2a" stroke="#2a2a2a" stroke-width="0.2">400</text>
<line x1="209.60" y1="757.00" x2="213.40" y2="757.00" stroke="#111" stroke-width="1.00"/>
<text x="205.60" y="760.50" font-size="10.00" text-anchor="end" fill="#2a2a2a" stroke="#2a2a2a" stroke-width="0.2">500</text>
<line x1="211.20" y1="812.26" x2="213.40" y2="812.26" stroke="#111" stroke-width="1.00"/>
<line x1="211.20" y1="799.98" x2="213.40" y2="799.98" stroke="#111" stroke-width="1.00"/>
<line x1="211.20" y1="787.70" x2="213.40" y2="787.70" stroke="#111" stroke-width="1.00"/>
<line x1="211.20" y1="775.42" x2="213.40" y2="775.42" stroke="#111" stroke-width="1.00"/>
<line x1="211.20" y1="763.14" x2="213.40" y2="763.14" stroke="#111" stroke-width="1.00"/>
<line x1="212.80" y1="818.40" x2="321.70" y2="818.40" stroke="#111" stroke-width="1.35"/>
<line x1="228.20" y1="818.40" x2="228.20" y2="822.00" stroke="#111" stroke-width="1.00"/>
<line x1="268.20" y1="818.40" x2="268.20" y2="822.00" stroke="#111" stroke-width="1.00"/>
<line x1="305.80" y1="818.40" x2="305.80" y2="822.00" stroke="#111" stroke-width="1.00"/>
<text x="212.10" y="835.40" font-size="10.00" text-anchor="start" fill="#2a2a2a" textLength="32.0" lengthAdjust="spacingAndGlyphs" stroke="#2a2a2a" stroke-width="0.2">LT-HSC</text>
<text x="256.90" y="835.40" font-size="10.00" text-anchor="start" fill="#2a2a2a" textLength="20.5" lengthAdjust="spacingAndGlyphs" stroke="#2a2a2a" stroke-width="0.2">MkP</text>
<text x="282.90" y="835.40" font-size="10.00" text-anchor="start" fill="#2a2a2a" textLength="45.8" lengthAdjust="spacingAndGlyphs" stroke="#2a2a2a" stroke-width="0.2">Pre-MegE</text>
<line x1="374.90" y1="805.05" x2="374.90" y2="809.93" stroke="#3c9a38" stroke-width="0.90"/>
<line x1="373.90" y1="805.05" x2="375.90" y2="805.05" stroke="#3c9a38" stroke-width="0.90"/>
<rect x="373.45" y="809.93" width="2.90" height="8.47" fill="#3c9a38"/>
<line x1="380.60" y1="808.73" x2="380.60" y2="810.11" stroke="#f0961c" stroke-width="0.90"/>
<line x1="379.60" y1="808.73" x2="381.60" y2="808.73" stroke="#f0961c" stroke-width="0.90"/>
<rect x="379.15" y="810.11" width="2.90" height="8.29" fill="#f0961c"/>
<line x1="386.30" y1="807.96" x2="386.30" y2="810.11" stroke="#d6207c" stroke-width="0.90"/>
<line x1="385.30" y1="807.96" x2="387.30" y2="807.96" stroke="#d6207c" stroke-width="0.90"/>
<rect x="384.85" y="810.11" width="2.90" height="8.29" fill="#d6207c"/>
<line x1="392.00" y1="809.19" x2="392.00" y2="811.03" stroke="#1f4c88" stroke-width="0.90"/>
<line x1="391.00" y1="809.19" x2="393.00" y2="809.19" stroke="#1f4c88" stroke-width="0.90"/>
<rect x="390.55" y="811.03" width="2.90" height="7.37" fill="#1f4c88"/>
<line x1="397.70" y1="805.35" x2="397.70" y2="808.12" stroke="#c50f2f" stroke-width="0.90"/>
<line x1="396.70" y1="805.35" x2="398.70" y2="805.35" stroke="#c50f2f" stroke-width="0.90"/>
<rect x="396.25" y="808.12" width="2.90" height="10.28" fill="#c50f2f"/>
<line x1="414.90" y1="790.31" x2="414.90" y2="797.37" stroke="#3c9a38" stroke-width="0.90"/>
<line x1="413.90" y1="790.31" x2="415.90" y2="790.31" stroke="#3c9a38" stroke-width="0.90"/>
<rect x="413.45" y="797.37" width="2.90" height="21.03" fill="#3c9a38"/>
<line x1="420.60" y1="803.66" x2="420.60" y2="805.05" stroke="#f0961c" stroke-width="0.90"/>
<line x1="419.60" y1="803.66" x2="421.60" y2="803.66" stroke="#f0961c" stroke-width="0.90"/>
<rect x="419.15" y="805.05" width="2.90" height="13.35" fill="#f0961c"/>
<line x1="426.30" y1="804.59" x2="426.30" y2="806.55" stroke="#d6207c" stroke-width="0.90"/>
<line x1="425.30" y1="804.59" x2="427.30" y2="804.59" stroke="#d6207c" stroke-width="0.90"/>
<rect x="424.85" y="806.55" width="2.90" height="11.85" fill="#d6207c"/>
<line x1="432.00" y1="807.65" x2="432.00" y2="810.42" stroke="#1f4c88" stroke-width="0.90"/>
<line x1="431.00" y1="807.65" x2="433.00" y2="807.65" stroke="#1f4c88" stroke-width="0.90"/>
<rect x="430.55" y="810.42" width="2.90" height="7.98" fill="#1f4c88"/>
<line x1="437.70" y1="800.90" x2="437.70" y2="801.94" stroke="#c50f2f" stroke-width="0.90"/>
<line x1="436.70" y1="800.90" x2="438.70" y2="800.90" stroke="#c50f2f" stroke-width="0.90"/>
<rect x="436.25" y="801.94" width="2.90" height="16.46" fill="#c50f2f"/>
<line x1="452.50" y1="755.16" x2="452.50" y2="767.75" stroke="#3c9a38" stroke-width="0.90"/>
<line x1="451.50" y1="755.16" x2="453.50" y2="755.16" stroke="#3c9a38" stroke-width="0.90"/>
<rect x="451.05" y="767.75" width="2.90" height="50.65" fill="#3c9a38"/>
<line x1="458.20" y1="763.75" x2="458.20" y2="775.42" stroke="#f0961c" stroke-width="0.90"/>
<line x1="457.20" y1="763.75" x2="459.20" y2="763.75" stroke="#f0961c" stroke-width="0.90"/>
<rect x="456.75" y="775.42" width="2.90" height="42.98" fill="#f0961c"/>
<line x1="463.90" y1="801.94" x2="463.90" y2="803.66" stroke="#d6207c" stroke-width="0.90"/>
<line x1="462.90" y1="801.94" x2="464.90" y2="801.94" stroke="#d6207c" stroke-width="0.90"/>
<rect x="462.45" y="803.66" width="2.90" height="14.74" fill="#d6207c"/>
<line x1="469.60" y1="772.96" x2="469.60" y2="781.56" stroke="#1f4c88" stroke-width="0.90"/>
<line x1="468.60" y1="772.96" x2="470.60" y2="772.96" stroke="#1f4c88" stroke-width="0.90"/>
<rect x="468.15" y="781.56" width="2.90" height="36.84" fill="#1f4c88"/>
<line x1="475.30" y1="759.00" x2="475.30" y2="762.37" stroke="#c50f2f" stroke-width="0.90"/>
<line x1="474.30" y1="759.00" x2="476.30" y2="759.00" stroke="#c50f2f" stroke-width="0.90"/>
<rect x="473.85" y="762.37" width="2.90" height="56.03" fill="#c50f2f"/>
<line x1="371.50" y1="752.50" x2="371.50" y2="819.00" stroke="#111" stroke-width="1.35"/>
<line x1="367.70" y1="818.40" x2="371.50" y2="818.40" stroke="#111" stroke-width="1.00"/>
<text x="363.70" y="821.90" font-size="10.00" text-anchor="end" fill="#2a2a2a" stroke="#2a2a2a" stroke-width="0.2">0</text>
<line x1="367.70" y1="803.05" x2="371.50" y2="803.05" stroke="#111" stroke-width="1.00"/>
<text x="363.70" y="806.55" font-size="10.00" text-anchor="end" fill="#2a2a2a" stroke="#2a2a2a" stroke-width="0.2">50</text>
<line x1="367.70" y1="787.70" x2="371.50" y2="787.70" stroke="#111" stroke-width="1.00"/>
<text x="363.70" y="791.20" font-size="10.00" text-anchor="end" fill="#2a2a2a" stroke="#2a2a2a" stroke-width="0.2">100</text>
<line x1="367.70" y1="772.35" x2="371.50" y2="772.35" stroke="#111" stroke-width="1.00"/>
<text x="363.70" y="775.85" font-size="10.00" text-anchor="end" fill="#2a2a2a" stroke="#2a2a2a" stroke-width="0.2">150</text>
<line x1="367.70" y1="757.00" x2="371.50" y2="757.00" stroke="#111" stroke-width="1.00"/>
<text x="363.70" y="760.50" font-size="10.00" text-anchor="end" fill="#2a2a2a" stroke="#2a2a2a" stroke-width="0.2">200</text>
<line x1="369.30" y1="810.73" x2="371.50" y2="810.73" stroke="#111" stroke-width="1.00"/>
<line x1="369.30" y1="795.38" x2="371.50" y2="795.38" stroke="#111" stroke-width="1.00"/>
<line x1="369.30" y1="780.02" x2="371.50" y2="780.02" stroke="#111" stroke-width="1.00"/>
<line x1="369.30" y1="764.67" x2="371.50" y2="764.67" stroke="#111" stroke-width="1.00"/>
<line x1="370.90" y1="818.40" x2="479.80" y2="818.40" stroke="#111" stroke-width="1.35"/>
<line x1="386.30" y1="818.40" x2="386.30" y2="822.00" stroke="#111" stroke-width="1.00"/>
<line x1="426.30" y1="818.40" x2="426.30" y2="822.00" stroke="#111" stroke-width="1.00"/>
<line x1="463.90" y1="818.40" x2="463.90" y2="822.00" stroke="#111" stroke-width="1.00"/>
<text x="370.20" y="835.40" font-size="10.00" text-anchor="start" fill="#2a2a2a" textLength="32.0" lengthAdjust="spacingAndGlyphs" stroke="#2a2a2a" stroke-width="0.2">LT-HSC</text>
<text x="415.00" y="835.40" font-size="10.00" text-anchor="start" fill="#2a2a2a" textLength="20.5" lengthAdjust="spacingAndGlyphs" stroke="#2a2a2a" stroke-width="0.2">MkP</text>
<text x="441.00" y="835.40" font-size="10.00" text-anchor="start" fill="#2a2a2a" textLength="45.8" lengthAdjust="spacingAndGlyphs" stroke="#2a2a2a" stroke-width="0.2">Pre-MegE</text>
<polygon points="458.70,756.35 459.33,757.63 460.74,757.84 459.72,758.83 459.96,760.24 458.70,759.58 457.44,760.24 457.68,758.83 456.66,757.84 458.07,757.63" fill="#b02c6c"/>
<polygon points="463.30,756.35 463.93,757.63 465.34,757.84 464.32,758.83 464.56,760.24 463.30,759.58 462.04,760.24 462.28,758.83 461.26,757.84 462.67,757.63" fill="#b02c6c"/>
<polygon points="467.90,756.35 468.53,757.63 469.94,757.84 468.92,758.83 469.16,760.24 467.90,759.58 466.64,760.24 466.88,758.83 465.86,757.84 467.27,757.63" fill="#b02c6c"/>
<text x="8.80" y="20.00" font-size="14.80" text-anchor="start" fill="#111" font-weight="bold" textLength="11.4" lengthAdjust="spacingAndGlyphs">A</text>
<text x="9.30" y="311.80" font-size="14.50" text-anchor="start" fill="#111" font-weight="bold" textLength="9.2" lengthAdjust="spacingAndGlyphs">B</text>
<text x="8.90" y="596.00" font-size="15.00" text-anchor="start" fill="#111" font-weight="bold" textLength="10.2" lengthAdjust="spacingAndGlyphs">C</text>
<text x="52.00" y="28.00" font-size="12.00" text-anchor="start" fill="#2a2a2a" textLength="291.0" lengthAdjust="spacingAndGlyphs" stroke="#2a2a2a" stroke-width="0.2">Peripheral blood parameters in MPN mouse models</text>
<text x="48.00" y="320.50" font-size="12.00" text-anchor="start" fill="#2a2a2a" textLength="342.4" lengthAdjust="spacingAndGlyphs" stroke="#2a2a2a" stroke-width="0.2">Iron parameters and cytokine levels in mouse models of MPN</text>
<text x="47.50" y="604.50" font-size="12.00" text-anchor="start" fill="#2a2a2a" textLength="345.0" lengthAdjust="spacingAndGlyphs" stroke="#2a2a2a" stroke-width="0.2">mRNA expression levels of genes involved in iron metabolism</text>
<text x="73.50" y="50.60" font-size="10.00" text-anchor="start" fill="#2a2a2a" textLength="82.1" lengthAdjust="spacingAndGlyphs" stroke="#2a2a2a" stroke-width="0.2">Hemoglobin (g/L)</text>
<text x="209.00" y="50.60" font-size="10.00" text-anchor="start" fill="#2a2a2a" textLength="115.6" lengthAdjust="spacingAndGlyphs" stroke="#2a2a2a" stroke-width="0.2">Red blood cells (&#215;10<tspan font-size="6.5" dy="-3.6">12</tspan><tspan dy="3.6">/L)</tspan></text>
<text x="390.20" y="50.60" font-size="10.00" text-anchor="start" fill="#2a2a2a" textLength="82.7" lengthAdjust="spacingAndGlyphs" stroke="#2a2a2a" stroke-width="0.2">Platelets (&#215;10<tspan font-size="6.5" dy="-3.6">12</tspan><tspan dy="3.6">/L)</tspan></text>
<text x="92.80" y="179.80" font-size="10.00" text-anchor="start" fill="#2a2a2a" textLength="37.7" lengthAdjust="spacingAndGlyphs" stroke="#2a2a2a" stroke-width="0.2">MCV (fl)</text>
<text x="244.80" y="179.80" font-size="10.00" text-anchor="start" fill="#2a2a2a" textLength="45.7" lengthAdjust="spacingAndGlyphs" stroke="#2a2a2a" stroke-width="0.2">MCH (pg)</text>
<text x="379.40" y="179.80" font-size="10.00" text-anchor="start" fill="#2a2a2a" textLength="105.0" lengthAdjust="spacingAndGlyphs" stroke="#2a2a2a" stroke-width="0.2">Reticulocytes (&#215;10<tspan font-size="6.5" dy="-3.6">12</tspan><tspan dy="3.6">/L)</tspan></text>
<text x="72.90" y="336.30" font-size="10.00" text-anchor="start" fill="#2a2a2a" textLength="82.7" lengthAdjust="spacingAndGlyphs" stroke="#2a2a2a" stroke-width="0.2">Liver iron (ng/mg)</text>
<text x="246.00" y="336.30" font-size="10.00" text-anchor="start" fill="#2a2a2a" textLength="62.8" lengthAdjust="spacingAndGlyphs" stroke="#2a2a2a" stroke-width="0.2">TIBC (&#181;mol/L)</text>
<text x="398.80" y="336.30" font-size="10.00" text-anchor="start" fill="#2a2a2a" textLength="103.7" lengthAdjust="spacingAndGlyphs" stroke="#2a2a2a" stroke-width="0.2">Erythroferrone (ng/ml)</text>
<text x="70.20" y="467.70" font-size="10.00" text-anchor="start" fill="#2a2a2a" textLength="89.0" lengthAdjust="spacingAndGlyphs" stroke="#2a2a2a" stroke-width="0.2">Serum iron (ng/mg)</text>
<text x="220.40" y="467.70" font-size="10.00" text-anchor="start" fill="#2a2a2a" textLength="114.2" lengthAdjust="spacingAndGlyphs" stroke="#2a2a2a" stroke-width="0.2">Transferrin saturation (%)</text>
<text x="411.30" y="467.70" font-size="10.00" text-anchor="start" fill="#2a2a2a" textLength="77.5" lengthAdjust="spacingAndGlyphs" stroke="#2a2a2a" stroke-width="0.2">Hepcidin (ng/ml)</text>
<text x="61.30" y="623.30" font-size="10.00" text-anchor="start" fill="#2a2a2a" font-style="italic" textLength="95.9" lengthAdjust="spacingAndGlyphs" stroke="#2a2a2a" stroke-width="0.2">Erythroferrone (Erfe)</text>
<text x="208.80" y="623.30" font-size="10.00" text-anchor="start" fill="#2a2a2a" font-style="italic" textLength="127.7" lengthAdjust="spacingAndGlyphs" stroke="#2a2a2a" stroke-width="0.2">Transferrin receptor 1 (Tfr1)</text>
<text x="381.00" y="623.30" font-size="10.00" text-anchor="start" fill="#2a2a2a" font-style="italic" textLength="97.1" lengthAdjust="spacingAndGlyphs" stroke="#2a2a2a" stroke-width="0.2">Ferroportin (Slc40a1)</text>
<text x="76.20" y="742.80" font-size="10.00" text-anchor="start" fill="#2a2a2a" font-style="italic" textLength="65.7" lengthAdjust="spacingAndGlyphs" stroke="#2a2a2a" stroke-width="0.2">Transferrin (Tf)</text>
<text x="207.80" y="742.80" font-size="10.00" text-anchor="start" fill="#2a2a2a" font-style="italic" textLength="128.4" lengthAdjust="spacingAndGlyphs" stroke="#2a2a2a" stroke-width="0.2">Transferrin receptor 2 (Tfr2)</text>
<text x="394.10" y="742.80" font-size="10.00" text-anchor="start" fill="#2a2a2a" font-style="italic" textLength="71.9" lengthAdjust="spacingAndGlyphs" stroke="#2a2a2a" stroke-width="0.2">Dmt1 (Slc11a2)</text>
<text x="24.30" y="635.50" font-size="10.00" text-anchor="start" fill="#2a2a2a" textLength="22.0" lengthAdjust="spacingAndGlyphs" stroke="#2a2a2a" stroke-width="0.2">CPM</text>
<text x="189.30" y="635.50" font-size="10.00" text-anchor="start" fill="#2a2a2a" textLength="22.0" lengthAdjust="spacingAndGlyphs" stroke="#2a2a2a" stroke-width="0.2">CPM</text>
<text x="345.80" y="635.50" font-size="10.00" text-anchor="start" fill="#2a2a2a" textLength="22.0" lengthAdjust="spacingAndGlyphs" stroke="#2a2a2a" stroke-width="0.2">CPM</text>
<rect x="199.50" y="847.30" width="7.00" height="3.10" fill="#3c9a38"/>
<text x="203.00" y="864.60" font-size="10.00" text-anchor="middle" fill="#379a3c" font-style="italic">WT</text>
<rect x="232.50" y="847.30" width="7.00" height="3.10" fill="#f0961c"/>
<text x="236.00" y="864.60" font-size="10.0" text-anchor="middle" fill="#f29a1e" font-style="italic">FF<tspan font-size="7.2" dy="2.8">Vav</tspan></text>
<rect x="267.70" y="847.30" width="7.00" height="3.10" fill="#d6207c"/>
<text x="271.20" y="864.60" font-size="10.0" text-anchor="middle" fill="#e0287f" font-style="italic">FF<tspan font-size="7.2" dy="2.8">Scl</tspan></text>
<rect x="300.10" y="847.30" width="7.00" height="3.10" fill="#1f4c88"/>
<text x="303.60" y="864.60" font-size="10.00" text-anchor="middle" fill="#225a98" font-style="italic">Ki</text>
<rect x="329.10" y="847.30" width="7.00" height="3.10" fill="#c50f2f"/>
<text x="332.60" y="864.60" font-size="10.00" text-anchor="middle" fill="#c8143a" font-style="italic">E12</text>
<rect x="0.5" y="0.5" width="519" height="876" fill="none" stroke="#3a3a3a" stroke-width="1"/></svg>
</body></html>
